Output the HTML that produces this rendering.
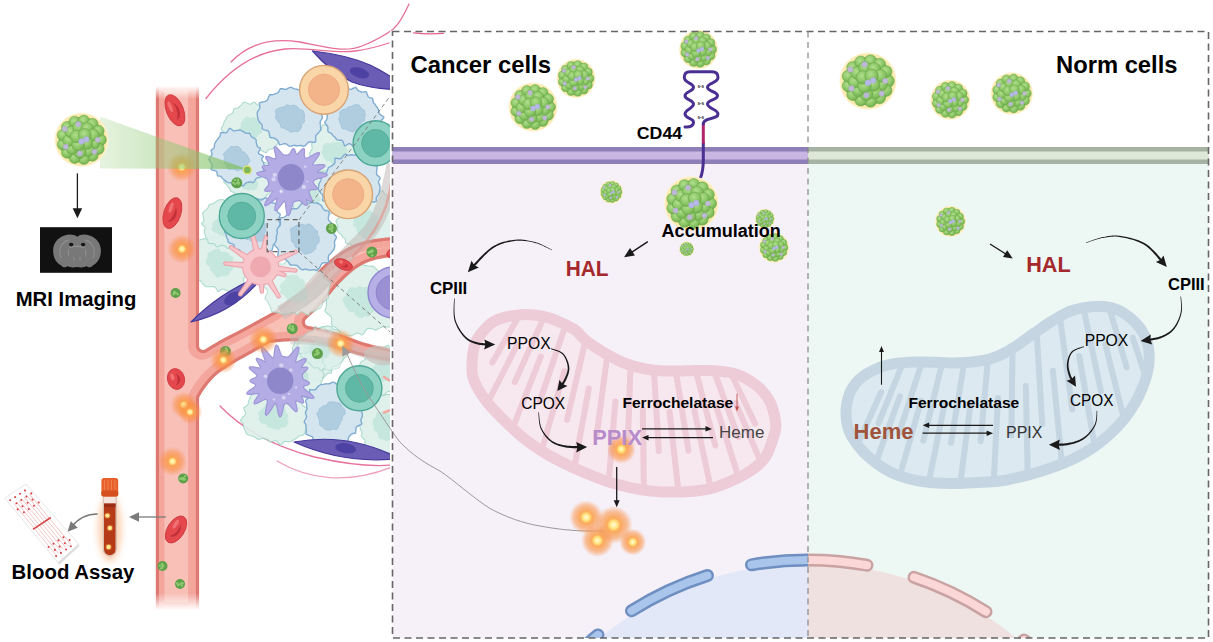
<!DOCTYPE html>
<html><head><meta charset="utf-8"><title>Diagram</title>
<style>html,body{margin:0;padding:0;background:#fff;}svg{display:block;font-family:"Liberation Sans",sans-serif;}</style></head><body>
<svg width="1213" height="642" viewBox="0 0 1213 642">

<defs>
<radialGradient id="gball" cx="0.42" cy="0.38" r="0.62">
  <stop offset="0" stop-color="#b2de8e"/><stop offset="0.5" stop-color="#93cc6e"/><stop offset="1" stop-color="#74b250"/>
</radialGradient>
<radialGradient id="glow">
  <stop offset="0" stop-color="#fffbe0"/><stop offset="0.2" stop-color="#ffe57e"/><stop offset="0.36" stop-color="#fba755" stop-opacity="0.95"/>
  <stop offset="0.7" stop-color="#f9944a" stop-opacity="0.55"/><stop offset="1" stop-color="#f9944a" stop-opacity="0"/>
</radialGradient>
<radialGradient id="glowv">
  <stop offset="0" stop-color="#fffad0"/><stop offset="0.16" stop-color="#ffe98a"/><stop offset="0.3" stop-color="#fb9f4c" stop-opacity="0.92"/>
  <stop offset="0.65" stop-color="#f98c3e" stop-opacity="0.5"/><stop offset="1" stop-color="#f98c3e" stop-opacity="0"/>
</radialGradient>
<radialGradient id="glow2">
  <stop offset="0" stop-color="#fff7c0"/><stop offset="0.18" stop-color="#ffe680"/><stop offset="0.4" stop-color="#fb9a4a" stop-opacity="0.9"/>
  <stop offset="1" stop-color="#f9844a" stop-opacity="0"/>
</radialGradient>
<linearGradient id="vesselV" gradientUnits="userSpaceOnUse" x1="0" y1="86" x2="0" y2="610">
  <stop offset="0" stop-color="#fff" stop-opacity="1"/><stop offset="0.025" stop-color="#fff" stop-opacity="0"/>
  <stop offset="0.968" stop-color="#fff" stop-opacity="0"/><stop offset="1" stop-color="#fff" stop-opacity="1"/>
</linearGradient>
<linearGradient id="cone" x1="0" y1="0" x2="1" y2="0">
  <stop offset="0" stop-color="#8cc870" stop-opacity="0.22"/><stop offset="0.5" stop-color="#8cc870" stop-opacity="0.48"/><stop offset="1" stop-color="#7dbd5e" stop-opacity="0.75"/>
</linearGradient>
<filter id="blur3" x="-50%" y="-50%" width="200%" height="200%"><feGaussianBlur stdDeviation="3"/></filter>
<clipPath id="clipL"><rect x="392.5" y="163.5" width="415.5" height="474.5"/></clipPath>
<clipPath id="clipR"><rect x="808" y="163.5" width="400.5" height="474.5"/></clipPath>
<clipPath id="clipScene"><rect x="0" y="0" width="390" height="642"/><rect x="0" y="0" width="1213" height="30.5"/></clipPath>
<marker id="ah" viewBox="0 0 10 10" refX="8" refY="5" markerWidth="7" markerHeight="7" orient="auto-start-reverse" markerUnits="userSpaceOnUse">
  <path d="M0,0 L10,5 L0,10 z" fill="#1a1a1a"/></marker>
<symbol id="np" viewBox="-50 -50 100 100" overflow="visible">
<circle r="50" fill="#fdf3cf"/><circle r="48" fill="#fbeab0"/>
<circle r="42" fill="#72ae4e"/>
<circle cx="35.5" cy="0.0" r="10.5" fill="url(#gball)" stroke="#65a143" stroke-width="0.9"/>
<circle cx="31.4" cy="16.5" r="10.5" fill="url(#gball)" stroke="#65a143" stroke-width="0.9"/>
<circle cx="20.2" cy="29.2" r="10.5" fill="url(#gball)" stroke="#65a143" stroke-width="0.9"/>
<circle cx="4.3" cy="35.2" r="10.5" fill="url(#gball)" stroke="#65a143" stroke-width="0.9"/>
<circle cx="-12.6" cy="33.2" r="10.5" fill="url(#gball)" stroke="#65a143" stroke-width="0.9"/>
<circle cx="-26.6" cy="23.5" r="10.5" fill="url(#gball)" stroke="#65a143" stroke-width="0.9"/>
<circle cx="-34.5" cy="8.5" r="10.5" fill="url(#gball)" stroke="#65a143" stroke-width="0.9"/>
<circle cx="-34.5" cy="-8.5" r="10.5" fill="url(#gball)" stroke="#65a143" stroke-width="0.9"/>
<circle cx="-26.6" cy="-23.5" r="10.5" fill="url(#gball)" stroke="#65a143" stroke-width="0.9"/>
<circle cx="-12.6" cy="-33.2" r="10.5" fill="url(#gball)" stroke="#65a143" stroke-width="0.9"/>
<circle cx="4.3" cy="-35.2" r="10.5" fill="url(#gball)" stroke="#65a143" stroke-width="0.9"/>
<circle cx="20.2" cy="-29.2" r="10.5" fill="url(#gball)" stroke="#65a143" stroke-width="0.9"/>
<circle cx="31.4" cy="-16.5" r="10.5" fill="url(#gball)" stroke="#65a143" stroke-width="0.9"/>
<circle cx="22.5" cy="6.9" r="11.2" fill="url(#gball)" stroke="#65a143" stroke-width="0.9"/>
<circle cx="12.7" cy="19.8" r="11.2" fill="url(#gball)" stroke="#65a143" stroke-width="0.9"/>
<circle cx="-2.9" cy="23.3" r="11.2" fill="url(#gball)" stroke="#65a143" stroke-width="0.9"/>
<circle cx="-17.2" cy="16.0" r="11.2" fill="url(#gball)" stroke="#65a143" stroke-width="0.9"/>
<circle cx="-23.5" cy="1.2" r="11.2" fill="url(#gball)" stroke="#65a143" stroke-width="0.9"/>
<circle cx="-18.7" cy="-14.2" r="11.2" fill="url(#gball)" stroke="#65a143" stroke-width="0.9"/>
<circle cx="-5.2" cy="-22.9" r="11.2" fill="url(#gball)" stroke="#65a143" stroke-width="0.9"/>
<circle cx="10.7" cy="-20.9" r="11.2" fill="url(#gball)" stroke="#65a143" stroke-width="0.9"/>
<circle cx="21.7" cy="-9.1" r="11.2" fill="url(#gball)" stroke="#65a143" stroke-width="0.9"/>
<circle cx="9.1" cy="6.2" r="11.8" fill="url(#gball)" stroke="#65a143" stroke-width="0.9"/>
<circle cx="-6.2" cy="9.1" r="11.8" fill="url(#gball)" stroke="#65a143" stroke-width="0.9"/>
<circle cx="-9.1" cy="-6.2" r="11.8" fill="url(#gball)" stroke="#65a143" stroke-width="0.9"/>
<circle cx="6.2" cy="-9.1" r="11.8" fill="url(#gball)" stroke="#65a143" stroke-width="0.9"/>
<circle cx="-31" cy="-20" r="5.0" fill="#bdb8d4" stroke="#a9a4c6" stroke-width="0.6"/>
<circle cx="-6" cy="-29" r="5.0" fill="#bdb8d4" stroke="#a9a4c6" stroke-width="0.6"/>
<circle cx="0" cy="3" r="5.3" fill="#b4b9e8" stroke="#a9a4c6" stroke-width="0.6"/>
<circle cx="9" cy="-1" r="5.3" fill="#b4b9e8" stroke="#a9a4c6" stroke-width="0.6"/>
<circle cx="30" cy="0" r="4.8" fill="#c2bcd6" stroke="#a9a4c6" stroke-width="0.6"/>
<circle cx="-29" cy="13" r="5.0" fill="#bdb8d4" stroke="#a9a4c6" stroke-width="0.6"/>
<circle cx="-3" cy="25" r="4.8" fill="#bdb8d4" stroke="#a9a4c6" stroke-width="0.6"/>
<circle cx="24" cy="22" r="4.8" fill="#bdb8d4" stroke="#a9a4c6" stroke-width="0.6"/>
</symbol>
</defs>

<rect width="1213" height="642" fill="#fff"/>
<g clip-path="url(#clipScene)">
<path d="M231,62 C250,42 275,38 300,42 C325,47 345,53 362,46 C377,40 388,33 393.6,28.7 C399,24 404,15 409,4" fill="none" stroke="#e3608f" stroke-width="1.3" stroke-linecap="round" opacity="0.9"/>
<path d="M206,98.5 C230,68 255,52 285,49 C310,47 335,54 355,51 C370,49 380,46 389,43" fill="none" stroke="#e3608f" stroke-width="1.3" stroke-linecap="round" opacity="0.9"/>
<path d="M220,406 C245,432 280,448 314.6,457 C345,464 370,467 392,465" fill="none" stroke="#e3608f" stroke-width="1.3" stroke-linecap="round" opacity="0.9"/>
<path d="M277,461 C292,470 310,476 329.5,477.6 C352,479 375,474 392,467" fill="none" stroke="#e3608f" stroke-width="1.3" stroke-linecap="round" opacity="0.6"/>
<path d="M276.2,128.0 L276.3,128.8 L276.6,129.5 L277.1,130.4 L277.8,131.3 L278.6,132.2 L279.2,133.2 L279.4,134.1 L279.1,135.0 L278.7,135.8 L278.3,136.5 L278.1,137.4 L278.0,138.3 L278.0,139.3 L278.1,140.3 L278.2,141.3 L278.1,142.3 L277.8,143.2 L277.4,144.1 L276.9,144.9 L276.4,145.7 L275.6,146.3 L274.9,147.0 L274.2,147.6 L273.5,148.2 L272.6,148.6 L271.6,148.9 L270.6,149.1 L269.6,149.3 L268.8,149.6 L268.1,150.1 L267.5,150.8 L267.0,151.7 L266.6,152.6 L265.5,152.6 L264.3,152.1 L263.0,151.4 L261.9,150.8 L260.8,150.3 L259.9,150.0 L259.2,150.1 L258.5,150.4 L257.9,150.9 L257.2,151.4 L256.6,151.9 L255.9,152.3 L255.1,152.7 L254.3,152.5 L253.5,151.8 L252.7,151.4 L252.0,151.2 L251.3,151.1 L250.6,151.0 L249.8,150.9 L249.1,150.7 L248.4,150.5 L247.7,150.4 L247.0,150.5 L246.2,150.7 L245.3,150.9 L244.5,151.1 L243.8,150.7 L243.2,150.1 L242.7,149.5 L242.2,148.8 L241.7,148.2 L241.2,147.7 L240.5,147.4 L239.8,147.2 L239.0,147.1 L238.3,146.9 L237.5,146.7 L236.8,146.3 L236.2,146.0 L235.8,145.3 L235.5,144.5 L235.1,143.9 L234.6,143.4 L234.0,142.9 L233.4,142.5 L232.8,141.9 L232.2,141.4 L231.6,140.9 L230.9,140.5 L229.9,140.2 L228.6,139.9 L227.1,139.7 L226.1,139.2 L225.9,138.3 L225.9,137.4 L225.9,136.5 L226.0,135.6 L226.0,134.7 L225.7,133.9 L225.2,133.1 L224.4,132.4 L223.4,131.6 L222.5,130.8 L221.8,129.9 L221.3,129.0 L221.1,128.0 L222.0,127.1 L222.7,126.2 L223.2,125.3 L223.5,124.4 L223.7,123.5 L223.9,122.6 L224.2,121.8 L224.6,121.0 L225.2,120.2 L225.8,119.5 L226.2,118.7 L226.6,117.9 L226.8,117.1 L227.4,116.4 L228.0,115.8 L228.7,115.2 L229.5,114.7 L230.4,114.3 L231.3,113.9 L232.0,113.5 L232.6,112.9 L233.0,112.3 L233.2,111.4 L233.4,110.6 L233.7,109.7 L234.0,108.9 L234.7,108.4 L235.7,108.3 L236.7,108.2 L237.5,108.1 L238.2,107.7 L238.8,107.3 L239.4,106.7 L240.0,106.2 L240.6,105.7 L241.2,105.1 L241.9,104.6 L242.4,103.8 L243.0,102.9 L243.6,102.0 L244.5,102.2 L245.4,102.5 L246.4,102.8 L247.3,103.2 L248.1,103.6 L249.0,104.0 L249.7,104.2 L250.5,104.1 L251.2,103.8 L252.0,103.3 L252.8,102.7 L253.6,102.3 L254.4,102.1 L255.2,102.8 L255.9,103.7 L256.5,104.4 L257.2,104.9 L257.9,105.1 L258.6,105.2 L259.4,105.2 L260.2,105.2 L261.0,105.4 L261.7,105.6 L262.4,105.9 L263.1,106.2 L263.9,106.4 L264.7,106.6 L265.4,106.9 L266.2,107.2 L266.8,107.6 L267.4,108.1 L267.9,108.8 L268.4,109.4 L268.8,110.1 L269.4,110.6 L270.2,110.9 L271.1,111.2 L272.1,111.4 L273.2,111.6 L274.0,112.0 L273.9,113.1 L273.7,114.2 L273.4,115.3 L273.3,116.3 L273.3,117.1 L273.5,117.9 L273.9,118.5 L274.4,119.1 L274.9,119.7 L275.4,120.4 L275.9,121.1 L276.5,121.7 L277.2,122.4 L277.0,123.2 L276.6,124.1 L276.5,124.9 L276.4,125.7 L276.3,126.5 L276.2,127.2Z" fill="#ddf0eb" stroke="#a3d6c9" stroke-width="1.1" stroke-linejoin="round" opacity="0.90"/><path d="M261.6,129.0 L261.7,130.2 L262.2,131.6 L262.0,132.9 L260.6,133.7 L259.0,134.2 L258.3,135.1 L258.0,136.2 L257.2,137.0 L256.1,137.4 L255.2,138.0 L254.3,138.6 L253.2,138.8 L252.2,139.4 L251.2,140.9 L250.0,142.3 L248.6,142.3 L247.4,141.4 L246.1,140.9 L244.8,140.7 L243.6,140.0 L242.5,139.3 L241.1,138.8 L240.0,138.0 L239.8,136.4 L239.9,134.8 L239.2,133.8 L238.3,132.8 L238.1,131.5 L238.6,130.2 L239.1,129.0 L239.7,127.9 L240.7,127.0 L241.4,126.2 L240.9,125.0 L240.4,123.5 L240.9,122.4 L241.9,121.7 L242.5,120.7 L243.1,119.5 L244.0,118.5 L245.0,117.8 L246.0,116.8 L247.3,116.3 L248.7,117.0 L250.0,117.9 L251.2,117.8 L252.5,117.1 L253.9,117.1 L255.1,117.6 L256.3,118.1 L257.3,118.9 L257.9,120.2 L258.5,121.3 L259.7,121.9 L261.0,122.7 L261.2,124.0 L260.7,125.5 L260.8,126.7 L261.3,127.8Z" fill="#c3e5db" opacity="0.90"/>
<path d="M363.0,152.0 L363.4,152.8 L363.9,153.7 L364.3,154.6 L364.5,155.5 L364.6,156.4 L364.6,157.3 L364.6,158.2 L364.8,159.1 L365.2,160.2 L365.8,161.3 L365.8,162.4 L365.3,163.2 L364.6,164.0 L363.8,164.6 L362.8,165.2 L362.0,165.8 L361.5,166.5 L361.2,167.3 L361.1,168.4 L361.1,169.5 L361.0,170.6 L360.8,171.7 L360.4,172.6 L358.9,172.6 L357.5,172.5 L356.4,172.7 L355.5,173.0 L354.8,173.5 L354.1,174.0 L353.4,174.6 L352.8,175.2 L352.1,175.8 L351.5,176.5 L350.9,177.3 L350.4,178.4 L349.6,178.8 L348.6,178.8 L347.6,178.8 L346.6,178.8 L345.7,178.6 L344.7,178.5 L343.8,178.5 L343.0,178.7 L342.2,179.1 L341.4,179.6 L340.5,180.1 L339.7,180.4 L338.8,180.3 L337.9,179.7 L337.0,179.0 L336.2,178.4 L335.4,177.9 L334.6,177.7 L333.8,177.5 L333.0,177.3 L332.2,177.1 L331.5,176.7 L330.8,176.2 L330.1,175.9 L329.3,175.7 L328.6,175.3 L328.0,174.7 L327.4,174.1 L326.9,173.5 L326.4,172.8 L326.0,172.1 L325.5,171.4 L325.0,171.0 L324.2,170.8 L323.2,171.0 L322.0,171.3 L320.7,171.7 L319.5,171.9 L319.3,170.9 L319.2,169.8 L319.1,168.8 L318.9,168.0 L318.4,167.4 L317.7,167.0 L316.7,166.7 L315.7,166.5 L314.6,166.2 L313.6,165.8 L312.7,165.4 L311.9,164.8 L311.6,163.9 L311.7,163.0 L311.5,162.1 L311.3,161.3 L311.0,160.4 L310.8,159.6 L310.8,158.7 L310.8,157.9 L310.8,157.0 L310.6,156.2 L310.2,155.4 L309.8,154.6 L309.5,153.7 L309.7,152.9 L310.2,152.0 L310.7,151.2 L311.3,150.4 L311.8,149.6 L312.1,148.9 L312.2,148.1 L312.0,147.2 L311.9,146.4 L311.8,145.5 L311.7,144.7 L311.7,143.8 L312.2,143.1 L312.9,142.5 L313.5,141.8 L313.8,141.1 L314.1,140.3 L314.3,139.5 L314.6,138.7 L314.9,138.0 L315.1,137.1 L315.2,136.2 L315.2,135.1 L314.9,133.7 L314.7,132.3 L315.5,131.8 L316.5,131.5 L317.5,131.2 L318.5,131.0 L319.5,130.8 L320.3,130.4 L320.9,129.8 L321.3,128.9 L321.7,127.8 L322.0,126.7 L322.5,125.6 L323.1,124.8 L324.2,124.8 L325.4,125.3 L326.6,125.6 L327.5,125.7 L328.4,125.5 L329.2,125.2 L330.0,124.8 L330.9,124.5 L331.7,124.3 L332.6,124.3 L333.5,124.2 L334.4,124.1 L335.2,123.8 L336.1,123.8 L337.0,123.8 L337.9,123.9 L338.8,124.1 L339.6,124.5 L340.4,124.9 L341.2,125.2 L342.1,125.4 L343.0,125.3 L343.9,125.0 L344.9,124.7 L345.9,124.5 L346.7,125.0 L347.3,126.0 L347.8,127.0 L348.3,128.0 L348.8,128.8 L349.4,129.4 L350.1,129.8 L350.9,130.2 L351.6,130.5 L352.3,130.9 L353.0,131.4 L353.8,131.8 L354.5,132.2 L354.4,133.5 L354.4,134.6 L354.4,135.6 L354.5,136.6 L354.5,137.5 L354.5,138.4 L354.6,139.2 L354.8,139.9 L355.4,140.4 L356.2,140.7 L357.1,140.9 L358.2,141.2 L358.4,141.9 L358.2,142.8 L357.9,143.7 L357.6,144.6 L357.7,145.3 L358.0,145.9 L358.6,146.4 L359.5,147.0 L360.3,147.5 L361.1,148.2 L361.8,148.9 L362.2,149.6 L362.6,150.4 L362.7,151.2Z" fill="#ddf0eb" stroke="#a3d6c9" stroke-width="1.1" stroke-linejoin="round" opacity="0.90"/><path d="M347.1,153.0 L347.1,154.3 L347.8,155.7 L347.8,157.2 L346.7,158.2 L345.5,159.1 L344.7,160.1 L343.8,160.9 L342.9,161.7 L342.3,163.1 L341.8,164.7 L340.5,165.5 L338.9,165.1 L337.5,164.8 L336.3,165.1 L335.0,165.3 L333.8,164.7 L332.6,164.2 L331.5,163.7 L330.7,162.6 L330.2,161.3 L329.2,160.9 L327.6,161.3 L326.1,161.0 L325.3,160.0 L324.7,158.9 L323.9,157.9 L323.4,156.8 L323.1,155.5 L322.3,154.3 L321.2,153.0 L321.2,151.5 L322.2,150.3 L322.9,149.1 L322.8,147.5 L322.9,146.0 L323.8,144.8 L324.8,143.8 L325.9,142.9 L327.7,142.9 L329.5,143.5 L330.7,143.4 L331.6,142.5 L332.6,141.9 L333.9,142.3 L335.0,142.5 L336.1,142.3 L337.3,142.3 L338.4,142.4 L339.8,142.1 L341.5,141.8 L342.6,142.5 L342.9,144.2 L343.4,145.5 L344.5,146.1 L345.6,146.9 L346.3,148.0 L347.1,149.1 L347.8,150.3 L347.8,151.7Z" fill="#c3e5db" opacity="0.90"/>
<path d="M254.2,262.0 L253.3,263.0 L252.6,263.9 L252.1,264.8 L251.8,265.8 L251.6,266.7 L251.3,267.6 L251.1,268.5 L250.8,269.4 L250.6,270.3 L250.6,271.3 L250.7,272.3 L250.0,273.1 L249.0,273.7 L248.1,274.3 L247.3,274.9 L246.4,275.4 L245.6,276.0 L244.9,276.5 L244.3,277.1 L243.9,277.9 L243.7,278.9 L243.7,280.0 L243.8,281.2 L243.7,282.4 L243.5,283.5 L242.9,284.3 L241.9,284.6 L240.9,284.9 L240.0,285.3 L239.3,285.8 L238.6,286.4 L238.0,287.2 L237.4,288.0 L236.7,288.7 L235.9,289.3 L235.0,289.7 L234.1,290.0 L233.2,290.3 L232.3,290.7 L231.5,291.2 L230.5,291.2 L229.5,291.3 L228.5,291.3 L227.5,291.0 L226.5,290.6 L225.5,290.1 L224.6,289.6 L223.7,289.2 L222.9,289.1 L222.0,289.3 L221.1,289.7 L220.2,290.3 L219.3,291.0 L218.3,291.5 L217.5,290.7 L216.8,289.5 L216.1,288.4 L215.5,287.5 L214.8,286.9 L214.0,286.6 L213.2,286.5 L212.3,286.6 L211.3,286.7 L210.4,286.7 L209.4,286.7 L208.4,286.7 L207.4,286.7 L206.2,286.8 L205.4,286.5 L204.8,285.7 L204.1,285.1 L203.4,284.5 L202.8,283.8 L202.2,283.0 L201.7,282.3 L201.2,281.5 L200.6,280.9 L199.8,280.4 L198.9,279.9 L197.9,279.5 L197.0,279.0 L196.2,278.4 L195.7,277.6 L195.6,276.5 L195.6,275.5 L195.5,274.5 L195.3,273.5 L195.0,272.7 L194.5,271.9 L194.0,271.1 L193.4,270.3 L193.0,269.4 L192.6,268.6 L192.3,267.7 L191.8,266.8 L191.1,265.9 L190.2,265.0 L190.1,264.0 L190.1,263.0 L190.0,262.0 L190.1,261.0 L190.3,260.0 L190.6,259.0 L190.9,258.1 L190.9,257.1 L190.8,256.0 L190.3,254.9 L189.6,253.7 L188.8,252.4 L188.2,251.0 L187.7,249.6 L188.4,248.7 L189.8,248.1 L191.1,247.5 L192.3,246.9 L193.3,246.2 L194.0,245.5 L194.6,244.6 L195.2,243.8 L195.7,242.9 L196.5,242.2 L197.3,241.5 L198.2,241.0 L199.1,240.4 L199.9,239.9 L200.8,239.5 L202.0,239.3 L203.0,239.1 L204.1,238.9 L205.1,238.8 L206.2,238.8 L207.4,238.9 L208.4,239.0 L209.4,239.0 L210.2,238.8 L210.9,238.4 L211.6,237.9 L212.2,237.3 L212.9,236.7 L213.7,236.3 L214.6,236.6 L215.6,236.9 L216.5,237.2 L217.3,237.4 L218.1,237.4 L218.9,237.2 L219.6,236.8 L220.4,236.4 L221.2,236.0 L222.0,235.7 L222.8,235.4 L223.7,235.0 L224.6,234.4 L225.6,233.6 L226.5,233.9 L227.3,234.3 L228.1,234.8 L228.9,235.3 L229.6,235.9 L230.3,236.5 L231.0,237.1 L231.7,237.4 L232.6,237.6 L233.6,237.4 L234.7,237.1 L235.9,236.7 L237.2,236.4 L238.4,236.2 L239.1,236.8 L239.5,238.0 L239.8,239.0 L240.3,239.9 L240.9,240.6 L241.7,241.0 L242.6,241.4 L243.7,241.6 L244.7,242.0 L245.6,242.4 L246.5,243.0 L247.3,243.7 L248.0,244.3 L248.9,244.9 L249.8,245.5 L250.6,246.3 L251.3,247.1 L252.0,247.9 L252.5,248.8 L252.9,249.8 L253.1,250.8 L253.2,251.9 L253.4,252.9 L253.8,253.8 L254.3,254.8 L255.0,255.7 L255.7,256.7 L256.4,257.7 L256.9,258.7 L256.2,259.9 L255.2,261.0Z" fill="#ddf0eb" stroke="#a3d6c9" stroke-width="1.1" stroke-linejoin="round" opacity="0.90"/><path d="M232.8,263.0 L232.6,264.3 L232.7,265.7 L233.3,267.3 L233.4,269.0 L232.3,270.1 L230.8,270.8 L230.1,272.1 L229.7,273.8 L228.6,274.9 L227.2,275.5 L225.8,276.1 L224.4,276.5 L222.8,276.2 L221.4,276.1 L220.0,277.1 L218.4,278.2 L216.9,277.7 L215.7,276.3 L214.6,275.2 L213.5,274.2 L212.8,272.9 L212.1,271.7 L211.0,271.1 L210.1,270.2 L210.1,268.7 L210.3,267.3 L209.4,266.5 L207.6,265.6 L206.5,264.4 L206.0,263.0 L205.6,261.5 L205.7,259.9 L206.6,258.7 L207.5,257.4 L207.4,255.7 L207.4,253.8 L208.5,252.6 L210.2,252.1 L211.5,251.3 L212.7,250.4 L214.1,249.8 L215.6,249.4 L217.0,248.7 L218.5,248.5 L220.0,249.8 L221.2,251.5 L222.4,251.9 L223.7,251.6 L225.0,251.8 L226.2,252.3 L227.5,252.6 L228.8,253.2 L229.5,254.5 L230.2,255.6 L231.8,256.2 L233.4,257.1 L233.6,258.6 L232.9,260.2 L232.7,261.7Z" fill="#c3e5db" opacity="0.90"/>
<path d="M250.8,225.0 L250.8,225.8 L250.7,226.6 L250.5,227.3 L250.5,228.1 L250.6,228.9 L251.0,229.8 L251.5,230.7 L252.2,231.7 L252.1,232.6 L251.3,233.2 L250.4,233.8 L249.5,234.3 L248.7,234.8 L248.0,235.4 L247.7,236.0 L247.5,236.8 L247.5,237.7 L247.6,238.7 L247.6,239.6 L247.4,240.5 L247.1,241.3 L246.5,242.0 L245.6,242.3 L244.8,242.6 L244.2,243.2 L243.6,243.8 L243.1,244.4 L242.5,245.0 L241.9,245.5 L241.1,245.8 L240.4,246.1 L239.6,246.4 L238.9,246.9 L238.3,247.4 L237.7,248.0 L236.9,248.2 L236.1,248.3 L235.2,248.2 L234.2,247.9 L233.3,247.5 L232.4,247.2 L231.6,247.0 L230.9,247.0 L230.2,247.2 L229.6,247.5 L228.9,247.9 L228.2,248.2 L227.5,248.4 L226.7,248.0 L226.0,247.2 L225.3,246.4 L224.7,245.9 L224.1,245.6 L223.4,245.5 L222.8,245.4 L222.1,245.4 L221.4,245.4 L220.7,245.5 L220.0,245.7 L219.1,246.1 L218.2,246.7 L217.3,247.0 L216.7,246.5 L216.1,246.1 L215.5,245.5 L215.0,245.0 L214.5,244.4 L213.9,244.0 L213.3,243.7 L212.5,243.6 L211.6,243.6 L210.6,243.6 L209.7,243.5 L208.9,243.2 L208.2,242.8 L208.0,241.9 L207.9,241.0 L207.7,240.2 L207.3,239.5 L206.9,238.9 L206.5,238.3 L206.0,237.7 L205.7,237.0 L205.5,236.3 L205.4,235.5 L205.3,234.8 L205.0,234.1 L204.6,233.5 L204.4,232.8 L204.3,232.1 L204.3,231.3 L204.4,230.6 L204.6,229.8 L204.9,229.0 L205.1,228.3 L205.2,227.6 L204.9,227.0 L204.4,226.4 L203.7,225.7 L202.8,225.0 L202.0,224.2 L201.6,223.5 L202.3,222.8 L203.0,222.1 L203.5,221.4 L203.9,220.8 L204.0,220.1 L203.8,219.3 L203.6,218.5 L203.4,217.6 L203.2,216.8 L203.1,215.9 L203.0,215.0 L202.8,214.1 L202.6,213.1 L203.2,212.5 L203.8,211.9 L204.3,211.3 L204.9,210.7 L205.5,210.1 L206.2,209.6 L206.8,209.1 L207.4,208.6 L207.8,207.9 L208.2,207.2 L208.5,206.3 L208.8,205.5 L209.2,204.7 L209.9,204.3 L210.8,204.1 L211.7,204.0 L212.6,203.9 L213.4,203.6 L214.0,203.2 L214.6,202.7 L215.2,202.1 L215.9,201.6 L216.6,201.2 L217.3,200.8 L218.0,200.5 L218.8,200.1 L219.5,199.7 L220.3,199.7 L221.2,199.7 L222.0,199.6 L222.8,199.7 L223.6,199.9 L224.4,200.2 L225.2,200.5 L226.0,200.7 L226.8,200.7 L227.5,200.4 L228.4,199.9 L229.2,199.4 L230.1,198.9 L230.8,199.8 L231.4,201.0 L231.8,202.2 L232.3,203.4 L232.7,204.3 L233.2,204.9 L233.8,205.3 L234.4,205.6 L235.1,205.7 L235.7,206.0 L236.3,206.3 L236.8,206.7 L237.4,207.0 L237.7,207.8 L237.9,208.7 L238.2,209.3 L238.5,209.8 L239.0,210.3 L239.4,210.8 L239.7,211.3 L240.1,211.8 L240.5,212.3 L241.0,212.6 L241.6,212.9 L242.5,213.0 L243.4,213.2 L244.2,213.5 L244.7,214.0 L245.0,214.6 L245.3,215.2 L245.5,215.8 L245.9,216.4 L246.4,216.9 L247.0,217.4 L247.8,217.9 L248.6,218.4 L249.4,219.0 L250.0,219.6 L250.6,220.3 L251.2,221.0 L251.1,221.8 L250.9,222.6 L250.9,223.4 L250.8,224.2Z" fill="#ddf0eb" stroke="#a3d6c9" stroke-width="1.1" stroke-linejoin="round" opacity="0.90"/><path d="M235.9,226.0 L235.2,227.2 L234.6,228.3 L234.5,229.4 L234.1,230.5 L233.4,231.4 L232.9,232.5 L232.4,233.6 L231.2,234.0 L229.8,233.9 L228.9,234.5 L228.3,235.7 L227.4,236.6 L226.3,236.7 L225.1,236.6 L224.0,236.4 L223.0,235.7 L222.1,234.9 L221.1,234.9 L219.8,235.3 L218.8,235.0 L218.2,234.0 L217.4,233.4 L216.1,233.1 L214.8,232.7 L213.8,231.9 L212.5,231.1 L211.5,230.1 L211.6,228.6 L212.5,227.2 L212.8,226.0 L212.4,224.8 L212.4,223.5 L213.1,222.5 L213.8,221.5 L214.5,220.5 L215.6,219.9 L216.7,219.4 L217.3,218.5 L217.7,217.4 L218.8,217.0 L220.2,217.4 L221.3,217.6 L222.1,217.2 L223.0,216.8 L224.0,216.4 L225.1,215.6 L226.4,214.9 L227.5,215.2 L228.4,216.1 L229.5,216.5 L231.0,216.4 L232.2,216.9 L232.8,218.1 L233.2,219.3 L233.7,220.4 L233.7,221.7 L233.7,222.9 L234.4,223.8 L235.7,224.8Z" fill="#c3e5db" opacity="0.90"/>
<path d="M393.3,222.0 L393.8,222.8 L394.1,223.6 L393.9,224.4 L393.6,225.2 L393.1,226.0 L392.6,226.7 L392.1,227.4 L391.8,228.1 L391.9,228.9 L392.3,229.9 L393.1,231.0 L393.9,232.3 L394.7,233.6 L395.2,234.8 L394.1,235.3 L392.9,235.7 L391.9,236.1 L391.1,236.7 L390.7,237.4 L390.5,238.3 L390.4,239.4 L390.2,240.4 L390.0,241.4 L389.6,242.3 L389.3,243.3 L389.0,244.4 L388.3,245.0 L387.3,245.3 L386.4,245.8 L385.6,246.2 L384.7,246.6 L383.8,246.9 L382.9,247.1 L382.0,247.5 L381.3,248.1 L380.7,248.9 L380.0,249.8 L379.4,250.8 L378.7,251.6 L377.6,251.7 L376.6,251.6 L375.6,251.5 L374.6,251.5 L373.7,251.7 L372.8,252.1 L371.9,252.7 L371.0,253.3 L370.0,253.8 L369.0,254.1 L368.0,254.4 L367.0,254.7 L366.0,254.6 L365.0,254.2 L364.0,253.8 L363.0,253.6 L362.0,253.2 L361.1,252.8 L360.2,252.2 L359.4,251.7 L358.5,251.3 L357.5,251.2 L356.3,251.5 L355.1,251.9 L353.7,252.3 L353.2,251.0 L352.8,249.6 L352.6,248.1 L352.3,246.7 L352.0,245.5 L351.5,244.7 L350.7,244.2 L349.8,244.0 L348.7,243.9 L347.7,243.7 L346.7,243.3 L345.8,242.9 L345.5,241.9 L345.5,240.6 L345.3,239.6 L344.9,238.8 L344.2,238.2 L343.5,237.6 L342.8,236.9 L342.3,236.2 L341.7,235.4 L341.2,234.6 L340.5,233.9 L339.6,233.2 L338.6,232.6 L338.1,231.7 L337.8,230.8 L337.6,229.8 L337.7,228.8 L337.8,227.8 L337.9,226.8 L337.8,225.8 L337.5,224.9 L337.0,223.9 L336.6,223.0 L336.2,222.0 L336.0,221.0 L336.5,220.0 L337.5,219.1 L338.6,218.3 L339.4,217.5 L340.1,216.7 L340.6,215.9 L341.0,215.1 L341.4,214.3 L341.8,213.5 L342.2,212.7 L342.4,211.9 L342.4,210.9 L342.2,209.8 L343.3,209.4 L344.4,209.0 L345.4,208.6 L346.4,208.3 L347.4,208.0 L348.2,207.6 L348.8,207.1 L349.1,206.4 L349.1,205.3 L348.9,204.1 L348.7,202.7 L348.7,201.4 L349.3,200.8 L350.4,200.8 L351.5,200.7 L352.3,200.4 L353.0,199.9 L353.5,199.1 L353.9,198.2 L354.3,197.2 L354.9,196.3 L355.5,195.5 L356.3,194.9 L357.1,194.4 L357.8,193.7 L358.7,193.5 L359.6,193.1 L360.4,192.6 L361.3,192.2 L362.3,192.0 L363.2,192.0 L364.2,192.0 L365.2,192.0 L366.1,191.8 L367.0,191.3 L368.0,190.5 L369.0,189.7 L370.0,189.5 L371.0,190.0 L372.0,190.7 L372.8,191.5 L373.7,192.1 L374.6,192.5 L375.6,192.5 L376.7,192.2 L377.8,191.8 L379.0,191.4 L380.3,191.0 L381.5,190.8 L382.8,190.6 L383.4,191.8 L384.0,192.8 L384.8,193.7 L385.6,194.3 L386.4,194.9 L387.3,195.5 L388.1,196.1 L388.9,196.7 L389.8,197.2 L390.9,197.6 L392.1,197.9 L393.4,198.1 L394.2,198.9 L394.3,200.2 L394.3,201.6 L394.2,202.9 L394.1,204.3 L394.1,205.5 L394.2,206.5 L394.6,207.4 L395.1,208.2 L395.5,209.1 L395.8,210.0 L395.9,211.0 L395.8,212.0 L395.1,213.2 L394.5,214.3 L394.1,215.3 L393.9,216.2 L393.9,217.1 L393.9,217.9 L393.8,218.7 L393.5,219.6 L393.3,220.4 L393.2,221.2Z" fill="#ddf0eb" stroke="#a3d6c9" stroke-width="1.1" stroke-linejoin="round" opacity="0.90"/><path d="M379.0,223.0 L379.2,224.4 L379.2,225.8 L379.3,227.3 L378.7,228.6 L377.3,229.5 L376.5,230.6 L376.4,232.4 L375.8,233.9 L374.3,234.4 L372.7,234.6 L371.4,235.2 L370.2,235.8 L368.8,236.3 L367.5,237.2 L366.0,238.6 L364.3,238.9 L362.9,237.6 L361.7,236.3 L360.3,235.8 L358.9,235.2 L358.0,234.0 L357.3,232.6 L356.6,231.5 L356.3,230.0 L356.6,228.4 L356.2,227.4 L354.6,226.7 L353.2,225.7 L353.2,224.3 L353.5,223.0 L353.5,221.7 L353.5,220.4 L354.0,219.1 L353.9,217.6 L353.4,215.7 L353.9,214.2 L355.3,213.4 L356.6,212.6 L357.3,211.0 L358.1,209.4 L359.6,208.6 L361.2,208.1 L362.8,207.9 L364.5,208.6 L366.0,210.1 L367.3,210.9 L368.7,210.5 L370.1,210.4 L371.2,211.3 L372.1,212.4 L373.3,212.9 L374.5,213.6 L375.4,214.6 L376.6,215.3 L378.2,216.0 L378.9,217.3 L378.2,219.0 L377.7,220.5 L378.3,221.7Z" fill="#c3e5db" opacity="0.90"/>
<path d="M332.5,196.0 L332.7,196.7 L332.9,197.3 L332.9,198.0 L332.9,198.6 L332.8,199.3 L332.7,199.9 L332.7,200.6 L332.5,201.3 L332.5,202.0 L332.5,202.7 L332.5,203.4 L332.4,204.1 L332.1,204.7 L331.9,205.4 L331.6,206.0 L331.5,206.7 L331.6,207.6 L331.9,208.6 L332.3,209.8 L332.7,211.0 L333.0,212.3 L332.4,212.9 L331.7,213.3 L330.8,213.7 L330.0,214.0 L329.3,214.4 L328.7,215.0 L328.3,215.7 L327.9,216.5 L327.5,217.4 L327.1,218.2 L326.6,219.0 L326.0,219.7 L325.4,220.4 L324.8,221.1 L323.8,221.2 L322.8,221.0 L321.9,220.9 L321.0,220.9 L320.1,220.8 L319.2,220.7 L318.3,220.5 L317.4,220.3 L316.6,220.2 L315.8,220.2 L315.1,220.3 L314.3,220.6 L313.6,220.9 L312.8,221.1 L312.0,221.1 L311.2,220.6 L310.5,220.1 L309.8,219.5 L309.1,219.1 L308.4,218.8 L307.7,218.7 L306.9,218.7 L306.2,218.7 L305.4,218.7 L304.6,218.6 L303.9,218.5 L303.2,218.3 L302.4,218.1 L301.6,218.0 L301.0,217.5 L300.4,217.0 L299.8,216.6 L299.3,216.1 L298.7,215.5 L298.3,214.8 L297.9,214.1 L297.5,213.5 L297.1,213.0 L296.4,212.6 L295.6,212.4 L294.7,212.2 L293.7,212.1 L292.7,212.0 L292.5,211.1 L292.8,210.0 L293.1,208.9 L293.3,207.8 L293.5,207.0 L293.4,206.2 L293.1,205.6 L292.6,205.1 L292.1,204.6 L291.5,204.1 L291.0,203.5 L290.6,202.9 L290.2,202.3 L289.8,201.7 L289.7,201.0 L289.8,200.2 L289.7,199.5 L289.5,198.8 L289.3,198.1 L289.2,197.4 L289.2,196.7 L289.2,196.0 L289.3,195.3 L289.2,194.6 L289.0,193.8 L288.7,193.1 L288.3,192.2 L288.0,191.4 L287.9,190.6 L288.3,189.9 L288.8,189.3 L289.4,188.7 L290.0,188.1 L290.6,187.5 L290.9,186.9 L291.2,186.2 L291.5,185.5 L291.7,184.8 L292.0,184.2 L292.3,183.5 L292.7,182.9 L293.0,182.2 L293.2,181.4 L294.1,181.2 L294.9,180.9 L295.6,180.6 L296.3,180.3 L297.0,180.0 L297.7,179.8 L298.4,179.6 L299.0,179.2 L299.5,178.8 L299.8,178.1 L300.1,177.2 L300.2,176.1 L300.4,174.9 L300.6,173.7 L301.3,173.2 L302.2,173.3 L303.0,173.3 L303.8,173.3 L304.6,173.2 L305.3,172.8 L305.9,172.2 L306.5,171.5 L307.2,170.7 L307.9,170.0 L308.7,169.5 L309.5,169.1 L310.3,168.8 L311.1,168.6 L312.0,168.5 L312.9,168.6 L313.7,168.6 L314.6,168.6 L315.4,168.7 L316.3,169.0 L317.1,169.4 L317.8,169.9 L318.6,170.4 L319.3,170.9 L320.0,171.3 L320.8,171.5 L321.7,171.6 L322.5,171.7 L323.4,171.9 L323.8,172.8 L324.2,173.8 L324.5,174.9 L324.7,175.9 L325.0,176.8 L325.4,177.6 L325.9,178.1 L326.4,178.6 L327.0,178.9 L327.7,179.3 L328.3,179.7 L328.9,180.1 L329.6,180.5 L330.3,180.8 L330.5,181.7 L330.5,182.6 L330.5,183.4 L330.6,184.2 L330.8,184.9 L330.8,185.6 L330.9,186.4 L331.0,187.1 L331.2,187.7 L331.5,188.3 L332.1,188.8 L332.7,189.3 L333.4,189.8 L334.1,190.3 L334.2,191.0 L333.7,191.9 L333.2,192.6 L332.8,193.4 L332.5,194.1 L332.3,194.7 L332.4,195.4Z" fill="#ddf0eb" stroke="#a3d6c9" stroke-width="1.1" stroke-linejoin="round" opacity="0.90"/><path d="M319.2,197.0 L320.4,198.1 L320.9,199.3 L320.3,200.3 L319.5,201.2 L319.1,202.2 L318.7,203.3 L317.9,204.1 L317.3,205.2 L316.8,206.4 L315.8,207.0 L314.4,206.8 L313.3,207.0 L312.4,208.1 L311.3,209.0 L310.0,208.9 L308.8,208.5 L307.6,208.1 L306.6,207.3 L305.9,206.2 L304.9,205.8 L303.5,206.0 L302.2,205.6 L301.7,204.5 L301.3,203.3 L300.5,202.5 L299.8,201.6 L299.4,200.4 L299.1,199.3 L298.7,198.2 L299.2,197.0 L300.6,196.0 L301.5,195.2 L301.3,194.2 L301.0,193.0 L301.4,192.1 L301.9,191.1 L302.3,190.1 L303.1,189.3 L304.0,188.8 L304.7,187.9 L305.3,186.4 L306.2,185.5 L307.6,185.6 L308.8,186.0 L310.0,185.7 L311.2,185.3 L312.5,185.3 L313.8,185.3 L315.3,185.2 L316.3,186.1 L316.7,187.7 L317.1,189.1 L318.0,189.8 L318.7,190.7 L318.8,191.9 L318.8,193.1 L318.9,194.1 L318.9,195.1 L318.7,196.1Z" fill="#c3e5db" opacity="0.90"/>
<path d="M404.3,300.0 L403.1,301.2 L402.2,302.4 L401.8,303.6 L401.7,304.8 L401.9,306.0 L402.1,307.3 L402.1,308.5 L402.0,309.8 L401.8,311.0 L401.5,312.2 L401.4,313.5 L400.9,314.6 L400.2,315.7 L399.6,316.8 L399.0,317.8 L398.2,318.8 L397.2,319.6 L396.1,320.4 L395.1,321.1 L394.2,322.0 L393.5,322.9 L392.9,323.9 L392.4,325.1 L391.8,326.1 L390.9,326.9 L389.4,327.0 L387.8,326.9 L386.1,326.8 L384.7,326.6 L383.4,326.7 L382.3,326.9 L381.3,327.3 L380.4,327.8 L379.5,328.2 L378.6,328.6 L377.6,329.0 L376.8,329.5 L376.0,330.4 L374.7,329.8 L373.5,329.3 L372.4,329.0 L371.4,328.8 L370.4,328.6 L369.4,328.4 L368.5,328.3 L367.6,328.4 L366.7,329.0 L365.9,330.0 L365.0,331.5 L364.0,333.1 L362.9,334.7 L361.8,335.0 L360.7,334.4 L359.7,333.8 L358.7,333.3 L357.7,333.1 L356.6,333.3 L355.3,333.8 L354.0,334.5 L352.6,335.2 L351.2,335.7 L349.8,335.9 L348.5,335.9 L347.2,335.7 L346.0,335.3 L345.0,334.6 L343.8,334.1 L342.6,333.7 L341.5,333.2 L340.4,332.5 L339.4,331.7 L338.7,330.6 L337.9,329.6 L337.1,328.6 L336.2,327.8 L335.0,327.2 L333.7,326.7 L332.3,326.3 L331.7,325.0 L331.5,323.6 L331.6,322.1 L331.7,320.5 L331.7,319.1 L331.5,317.8 L331.0,316.8 L330.2,315.9 L329.2,315.1 L328.1,314.2 L327.0,313.3 L326.0,312.4 L325.0,311.3 L325.0,310.0 L325.7,308.6 L326.2,307.2 L326.4,306.0 L326.4,304.7 L326.4,303.6 L326.5,302.4 L326.5,301.2 L326.5,300.0 L326.4,298.8 L326.0,297.6 L325.3,296.3 L324.6,295.0 L324.3,293.7 L325.3,292.6 L326.4,291.6 L327.6,290.7 L328.8,289.8 L329.9,288.9 L330.7,288.0 L331.2,287.0 L331.4,285.9 L331.6,284.8 L331.9,283.6 L332.4,282.6 L333.1,281.7 L333.9,280.9 L335.1,280.4 L336.3,279.8 L337.1,279.2 L337.8,278.3 L338.4,277.5 L339.1,276.6 L339.8,275.8 L340.7,275.1 L341.5,274.5 L342.3,273.7 L342.9,272.8 L343.3,271.5 L343.5,269.9 L344.2,268.8 L345.2,268.3 L346.4,268.0 L347.7,268.0 L349.0,268.1 L350.2,268.1 L351.3,267.8 L352.2,267.2 L353.0,266.3 L353.8,265.0 L354.7,263.7 L355.6,262.5 L356.6,261.4 L357.8,261.1 L359.3,262.4 L360.6,263.6 L361.8,264.5 L362.9,265.0 L364.0,265.2 L365.1,265.4 L366.2,265.5 L367.2,265.7 L368.3,266.0 L369.3,266.2 L370.4,266.3 L371.6,266.2 L372.7,265.9 L373.7,266.7 L374.6,267.4 L375.5,268.1 L376.3,269.0 L377.1,269.8 L377.8,270.6 L378.7,271.2 L379.7,271.5 L380.8,271.5 L382.1,271.5 L383.5,271.4 L384.8,271.4 L386.0,271.6 L386.9,272.3 L387.6,273.2 L388.3,274.1 L389.2,274.8 L390.2,275.4 L391.3,275.9 L392.6,276.4 L393.7,277.0 L394.8,277.6 L395.8,278.4 L396.8,279.2 L398.0,279.9 L399.5,280.5 L400.8,281.2 L401.2,282.5 L401.5,283.8 L401.5,285.1 L401.4,286.5 L401.2,287.9 L401.0,289.2 L401.0,290.5 L401.4,291.6 L402.3,292.7 L403.4,293.8 L404.7,294.9 L405.8,296.0 L406.8,297.3 L405.6,298.7Z" fill="#ddf0eb" stroke="#a3d6c9" stroke-width="1.1" stroke-linejoin="round" opacity="0.90"/><path d="M378.8,301.0 L378.1,302.7 L378.9,304.6 L379.6,306.7 L378.6,308.4 L376.7,309.5 L375.1,310.5 L373.8,311.6 L372.3,312.4 L371.0,313.4 L370.2,315.3 L369.0,316.8 L367.1,316.8 L365.2,316.2 L363.7,316.8 L362.0,317.8 L360.2,317.9 L358.6,317.2 L356.9,316.6 L355.6,315.4 L354.8,313.4 L354.0,312.0 L352.1,311.9 L349.8,312.0 L348.3,310.9 L347.6,309.3 L346.4,307.9 L345.2,306.5 L344.6,304.7 L344.0,302.9 L342.8,301.0 L342.4,298.9 L343.9,297.2 L345.8,295.7 L346.5,294.1 L346.6,292.1 L347.5,290.4 L348.8,289.1 L350.1,287.8 L351.9,287.1 L354.2,287.5 L356.2,288.0 L357.5,287.1 L358.8,286.0 L360.5,286.3 L362.0,287.2 L363.4,287.3 L365.0,287.0 L366.6,287.0 L368.4,286.7 L370.8,285.8 L373.1,285.8 L374.2,287.5 L374.7,289.6 L375.9,290.9 L377.5,292.0 L378.4,293.7 L378.9,295.5 L379.5,297.3 L379.7,299.1Z" fill="#c3e5db" opacity="0.90"/>
<path d="M308.5,415.0 L308.8,416.0 L309.1,417.1 L309.4,418.2 L309.6,419.3 L310.1,420.4 L310.7,421.6 L311.4,422.9 L311.2,424.0 L310.4,425.0 L309.6,425.9 L308.6,426.7 L307.6,427.5 L306.7,428.3 L305.9,429.1 L305.4,430.0 L305.1,431.0 L304.9,432.1 L304.7,433.2 L304.2,434.2 L303.4,434.9 L302.0,435.2 L300.7,435.5 L299.6,435.8 L298.7,436.3 L297.9,436.9 L297.2,437.6 L296.5,438.3 L295.7,438.8 L294.8,439.2 L293.9,439.6 L293.1,440.1 L292.4,440.8 L291.5,441.3 L290.6,441.5 L289.6,441.8 L288.7,441.9 L287.6,441.8 L286.5,441.6 L285.5,441.4 L284.6,441.5 L283.8,441.8 L283.1,442.6 L282.4,443.6 L281.6,444.6 L280.8,445.4 L279.7,444.4 L278.7,443.2 L277.7,442.1 L276.8,441.2 L276.0,440.7 L275.2,440.5 L274.4,440.7 L273.5,441.0 L272.7,441.3 L271.8,441.5 L270.9,441.7 L270.0,442.0 L269.2,441.4 L268.6,440.5 L267.9,440.0 L267.1,439.6 L266.4,439.3 L265.6,439.0 L264.9,438.7 L264.1,438.4 L263.2,438.3 L262.1,438.5 L260.9,438.8 L259.6,439.1 L258.3,439.4 L257.4,439.0 L256.6,438.4 L255.9,437.8 L255.2,437.2 L254.3,436.7 L253.3,436.3 L252.1,436.0 L250.9,435.8 L249.6,435.5 L248.4,435.0 L247.4,434.5 L246.4,433.8 L245.9,432.8 L245.6,431.7 L245.2,430.7 L244.7,429.7 L244.3,428.7 L243.9,427.7 L243.6,426.7 L243.5,425.6 L243.3,424.5 L243.0,423.5 L242.3,422.5 L241.4,421.6 L240.5,420.6 L241.1,419.4 L241.9,418.2 L242.9,417.1 L244.0,416.0 L244.9,415.0 L245.6,414.0 L245.7,413.1 L245.5,412.1 L245.0,411.1 L244.4,410.0 L244.0,408.9 L243.7,407.8 L244.6,406.9 L245.9,406.3 L247.0,405.6 L247.7,404.8 L248.1,404.0 L248.3,403.0 L248.4,402.0 L248.7,401.1 L249.1,400.2 L249.5,399.3 L249.9,398.4 L250.2,397.5 L250.4,396.4 L251.1,395.7 L251.7,394.9 L252.4,394.2 L253.3,393.7 L254.3,393.3 L255.3,392.9 L256.2,392.5 L256.9,391.9 L257.5,391.2 L258.0,390.3 L258.6,389.4 L259.2,388.6 L260.3,388.4 L261.5,388.6 L262.7,389.0 L263.9,389.2 L264.9,389.3 L265.7,389.0 L266.5,388.7 L267.3,388.2 L268.1,387.8 L268.9,387.3 L269.7,386.8 L270.5,386.1 L271.3,385.3 L272.3,385.8 L273.3,386.2 L274.2,386.4 L275.1,386.7 L276.0,387.0 L276.9,387.2 L277.7,387.3 L278.6,387.1 L279.6,386.5 L280.7,385.6 L281.8,384.5 L283.0,383.5 L284.0,383.7 L284.8,384.7 L285.5,385.8 L286.2,386.7 L286.9,387.4 L287.8,387.8 L288.8,387.9 L289.8,387.9 L290.9,387.9 L291.9,388.2 L292.7,388.6 L293.5,389.2 L294.2,390.0 L294.6,391.0 L295.1,391.9 L295.7,392.6 L296.4,393.3 L297.0,394.0 L297.4,394.9 L297.8,395.8 L298.1,396.7 L298.5,397.6 L299.1,398.2 L300.0,398.7 L301.0,399.1 L301.7,399.8 L302.0,400.7 L302.1,401.7 L302.0,402.7 L302.0,403.8 L302.1,404.6 L302.6,405.4 L303.5,406.1 L304.6,406.7 L305.9,407.3 L307.1,408.0 L308.3,408.8 L309.3,409.7 L308.7,410.9 L308.3,411.9 L308.1,413.0 L308.2,414.0Z" fill="#ddf0eb" stroke="#a3d6c9" stroke-width="1.1" stroke-linejoin="round" opacity="0.90"/><path d="M288.5,416.0 L287.9,417.5 L287.4,418.9 L288.0,420.6 L288.6,422.5 L288.1,424.2 L287.0,425.5 L285.8,426.7 L284.2,427.4 L282.2,427.4 L280.8,427.7 L279.8,429.0 L278.6,430.1 L276.9,429.8 L275.4,429.0 L274.0,428.8 L272.7,428.7 L271.4,428.1 L270.2,427.8 L268.7,427.8 L267.6,427.2 L267.1,425.5 L266.6,424.3 L265.1,424.1 L263.1,423.9 L261.6,423.2 L260.4,422.1 L259.2,420.8 L258.6,419.3 L258.9,417.6 L259.0,416.0 L258.2,414.3 L258.1,412.6 L259.4,411.3 L261.1,410.3 L262.1,409.1 L262.9,407.9 L263.9,406.9 L264.7,405.6 L265.3,404.0 L266.5,403.1 L268.4,403.5 L270.1,403.9 L271.3,403.3 L272.6,402.5 L274.0,402.5 L275.4,402.8 L276.8,402.9 L278.1,403.4 L279.2,404.4 L280.4,404.8 L282.3,404.5 L284.1,404.8 L284.8,406.3 L284.9,408.1 L285.3,409.5 L285.9,410.7 L286.1,412.1 L286.7,413.3 L288.0,414.5Z" fill="#c3e5db" opacity="0.90"/>
<path d="M346.9,352.0 L347.3,352.9 L347.6,353.9 L347.6,354.8 L347.3,355.7 L346.3,356.5 L345.4,357.2 L344.6,357.9 L343.9,358.7 L343.4,359.4 L343.0,360.1 L342.5,360.8 L341.9,361.5 L341.2,362.1 L340.4,362.6 L339.7,363.0 L339.0,363.5 L338.5,364.1 L338.2,364.8 L337.6,365.3 L336.9,365.7 L336.2,366.1 L335.3,366.3 L334.5,366.5 L333.6,366.6 L332.8,366.8 L332.3,367.2 L331.9,367.8 L331.7,368.6 L331.6,369.6 L331.6,370.7 L331.5,371.8 L331.3,372.9 L330.6,373.3 L329.6,373.2 L328.8,373.1 L328.0,373.3 L327.3,373.6 L326.8,374.1 L326.2,374.8 L325.6,375.5 L325.0,376.2 L324.4,376.9 L323.7,377.5 L323.0,378.2 L322.3,379.1 L321.5,380.0 L320.7,380.6 L319.8,380.5 L318.9,380.5 L318.0,380.3 L317.1,380.0 L316.3,379.7 L315.4,379.4 L314.6,379.2 L313.7,379.1 L312.8,379.3 L311.9,379.5 L310.9,379.7 L309.9,379.8 L309.0,379.7 L308.1,379.5 L307.4,378.7 L306.8,378.0 L306.1,377.4 L305.3,376.9 L304.5,376.6 L303.6,376.3 L302.8,376.0 L302.0,375.6 L301.2,375.1 L300.5,374.6 L299.8,374.0 L299.0,373.6 L298.0,373.3 L296.9,373.1 L296.1,372.5 L295.6,371.7 L295.3,370.8 L295.0,369.8 L294.9,368.8 L294.9,367.7 L294.8,366.7 L294.6,365.9 L294.1,365.2 L293.4,364.5 L292.5,364.0 L291.7,363.4 L290.8,362.8 L290.1,362.0 L290.2,361.0 L291.1,359.8 L291.9,358.7 L292.5,357.7 L292.8,356.8 L292.9,356.0 L292.9,355.2 L292.9,354.4 L292.8,353.6 L292.9,352.8 L292.9,352.0 L292.9,351.2 L292.9,350.4 L292.6,349.6 L292.4,348.8 L292.6,348.0 L292.8,347.2 L293.1,346.4 L293.4,345.7 L293.8,345.0 L294.2,344.3 L294.4,343.5 L294.6,342.7 L294.6,341.9 L294.4,340.9 L294.3,339.9 L294.2,338.9 L294.3,338.0 L294.5,337.1 L295.2,336.5 L296.0,336.0 L296.7,335.5 L297.4,335.0 L298.0,334.4 L298.6,333.7 L299.1,333.1 L299.7,332.5 L300.4,332.0 L301.1,331.6 L301.8,331.1 L302.4,330.5 L302.9,329.8 L303.3,328.8 L304.1,328.5 L305.1,328.6 L306.2,328.8 L307.2,329.1 L308.3,329.5 L309.3,329.9 L310.2,330.2 L310.9,330.3 L311.6,330.0 L312.2,329.5 L312.8,328.8 L313.4,328.0 L314.1,327.2 L314.8,326.6 L315.6,326.5 L316.4,327.2 L317.2,327.7 L318.0,328.0 L318.8,328.0 L319.5,327.8 L320.3,327.4 L321.2,327.0 L322.0,326.8 L322.8,326.6 L323.7,326.6 L324.5,326.5 L325.4,326.4 L326.4,326.2 L327.4,325.9 L328.3,326.0 L329.2,326.1 L330.1,326.4 L330.8,326.8 L331.6,327.3 L332.2,328.0 L332.9,328.6 L333.6,329.1 L334.4,329.4 L335.4,329.6 L336.4,329.8 L337.4,330.0 L338.4,330.3 L339.3,330.7 L339.7,331.6 L339.8,332.8 L339.9,333.9 L340.1,334.8 L340.5,335.7 L340.9,336.4 L341.5,337.1 L342.0,337.8 L342.6,338.5 L343.1,339.2 L343.7,339.9 L344.5,340.5 L345.4,341.2 L346.5,341.7 L347.1,342.5 L347.0,343.6 L346.9,344.6 L346.7,345.6 L346.5,346.6 L346.2,347.5 L346.0,348.5 L345.9,349.4 L346.1,350.2 L346.5,351.1Z" fill="#ddf0eb" stroke="#a3d6c9" stroke-width="1.1" stroke-linejoin="round" opacity="0.90"/><path d="M329.5,353.0 L328.8,354.3 L328.3,355.6 L327.5,356.7 L326.2,357.5 L325.4,358.4 L325.5,359.9 L325.4,361.5 L324.3,362.2 L322.8,362.4 L321.7,362.8 L320.6,363.3 L319.4,363.5 L318.3,363.9 L317.2,364.8 L316.0,365.2 L314.8,364.5 L313.7,363.8 L312.4,364.0 L310.9,364.5 L309.6,364.1 L308.5,363.3 L307.5,362.4 L306.9,361.2 L306.8,359.7 L306.5,358.5 L305.2,357.8 L303.8,357.0 L303.5,355.7 L303.6,354.3 L303.3,353.0 L302.9,351.6 L303.0,350.2 L303.1,348.8 L303.1,347.2 L303.8,346.0 L305.6,345.5 L307.5,345.3 L308.4,344.6 L309.1,343.5 L310.1,342.9 L311.3,342.5 L312.4,342.0 L313.7,341.9 L314.9,342.6 L316.0,342.9 L317.1,342.1 L318.4,341.6 L319.5,342.2 L320.4,343.2 L321.4,343.6 L322.7,343.8 L323.9,344.2 L325.3,344.6 L327.3,344.8 L328.7,345.7 L328.8,347.3 L328.6,348.9 L329.1,350.2 L329.7,351.6Z" fill="#c3e5db" opacity="0.90"/>
<path d="M416.2,425.0 L415.8,425.9 L415.6,426.7 L415.5,427.6 L415.2,428.4 L414.9,429.3 L414.6,430.1 L414.3,430.9 L414.1,431.7 L413.3,432.3 L412.6,433.0 L412.0,433.6 L411.5,434.3 L410.9,434.9 L410.3,435.5 L409.8,436.1 L409.3,436.7 L409.2,437.5 L409.3,438.5 L409.6,439.7 L410.1,441.1 L410.6,442.5 L409.9,443.1 L408.8,443.3 L407.6,443.4 L406.6,443.6 L405.7,443.8 L405.0,444.3 L404.6,445.1 L404.3,446.0 L404.1,447.1 L403.8,448.2 L403.3,449.2 L402.8,450.0 L402.1,450.7 L401.3,451.0 L400.2,451.0 L399.3,451.2 L398.5,451.6 L397.8,452.1 L397.0,452.6 L396.1,453.0 L395.3,453.3 L394.4,453.5 L393.5,453.8 L392.6,454.3 L391.8,455.0 L390.9,455.8 L390.0,456.6 L389.0,456.9 L388.0,456.9 L387.0,456.7 L386.0,456.5 L385.0,456.3 L384.1,456.2 L383.0,456.4 L381.9,456.8 L380.8,457.3 L379.6,457.7 L378.4,458.0 L377.2,458.2 L376.0,458.4 L375.1,457.5 L374.4,456.5 L373.6,455.6 L372.8,454.8 L372.0,454.1 L371.2,453.4 L370.4,452.7 L369.7,451.9 L369.0,451.1 L368.2,450.5 L367.3,450.0 L366.2,449.7 L365.0,449.5 L364.4,448.6 L364.3,447.2 L364.5,445.8 L364.7,444.3 L364.9,442.9 L365.1,441.7 L365.0,440.6 L364.7,439.8 L364.1,439.1 L363.4,438.5 L362.6,437.9 L362.0,437.2 L361.5,436.5 L361.3,435.6 L361.8,434.4 L362.0,433.4 L362.0,432.6 L361.7,431.8 L361.3,431.0 L360.8,430.2 L360.5,429.4 L360.3,428.5 L360.1,427.6 L360.0,426.8 L359.8,425.9 L359.3,425.0 L358.7,424.1 L358.4,423.1 L358.4,422.2 L358.6,421.3 L359.0,420.4 L359.6,419.6 L360.2,418.8 L360.6,418.0 L360.9,417.1 L360.8,416.2 L360.6,415.1 L360.3,414.0 L360.1,412.9 L360.0,411.8 L360.7,411.1 L362.1,410.8 L363.4,410.5 L364.6,410.1 L365.4,409.7 L366.1,409.1 L366.6,408.4 L367.0,407.7 L367.5,406.9 L368.0,406.2 L368.4,405.4 L368.7,404.5 L368.9,403.4 L369.2,402.3 L370.2,402.1 L371.1,401.8 L372.1,401.5 L373.0,401.3 L373.9,401.1 L374.7,400.8 L375.5,400.4 L376.1,399.8 L376.7,398.9 L377.3,397.9 L377.9,396.8 L378.6,395.9 L379.4,395.3 L380.4,395.3 L381.4,395.5 L382.4,395.6 L383.4,395.6 L384.3,395.5 L385.2,395.1 L386.1,394.8 L387.0,394.5 L388.0,394.5 L389.0,394.6 L389.9,394.7 L390.9,394.8 L391.8,394.7 L392.8,394.7 L393.7,395.1 L394.6,395.4 L395.5,395.9 L396.3,396.6 L397.0,397.3 L397.7,398.0 L398.5,398.6 L399.3,398.9 L400.3,398.8 L401.5,398.5 L402.8,398.0 L404.3,397.5 L405.5,397.4 L405.9,398.6 L406.3,399.8 L406.6,401.0 L407.1,401.9 L407.8,402.5 L408.7,402.9 L409.8,403.2 L411.0,403.4 L412.2,403.7 L413.3,404.1 L414.4,404.6 L415.4,405.1 L416.6,405.6 L416.9,406.7 L417.2,407.7 L417.6,408.7 L418.0,409.7 L418.3,410.8 L418.4,411.8 L418.5,412.9 L418.5,414.0 L418.6,415.1 L418.9,416.0 L419.3,417.0 L419.7,417.9 L420.0,418.9 L419.8,420.0 L419.2,421.1 L418.3,422.1 L417.5,423.1 L416.7,424.1Z" fill="#ddf0eb" stroke="#a3d6c9" stroke-width="1.1" stroke-linejoin="round" opacity="0.90"/><path d="M399.8,426.0 L399.2,427.4 L399.0,428.8 L398.9,430.2 L398.3,431.5 L397.9,432.8 L397.8,434.6 L397.2,436.1 L395.4,436.5 L393.6,436.4 L392.5,437.2 L391.6,438.5 L390.4,439.4 L389.0,440.1 L387.6,440.9 L386.0,441.2 L384.5,440.3 L383.1,439.4 L381.6,439.5 L380.0,439.5 L378.9,438.2 L378.5,436.3 L378.0,434.9 L377.4,433.7 L377.1,432.5 L376.4,431.6 L374.8,431.0 L373.5,430.0 L373.6,428.6 L374.1,427.3 L373.7,426.0 L372.8,424.6 L372.6,423.1 L372.8,421.7 L372.8,420.1 L373.4,418.7 L374.7,417.8 L375.7,416.7 L376.0,414.9 L376.5,412.9 L377.9,411.9 L379.8,412.0 L381.4,412.0 L383.0,412.1 L384.6,412.8 L386.0,413.3 L387.4,413.0 L388.8,413.0 L389.8,414.3 L390.6,415.7 L391.8,415.9 L393.4,415.8 L394.8,416.2 L396.0,417.0 L397.2,417.9 L397.9,419.1 L397.6,420.8 L397.4,422.3 L398.4,423.4 L399.7,424.6Z" fill="#c3e5db" opacity="0.90"/>
<path d="M324.0,375.0 L323.9,375.8 L323.3,376.5 L323.0,377.2 L322.9,377.9 L322.8,378.6 L322.7,379.3 L322.5,380.0 L322.1,380.7 L321.7,381.3 L321.3,381.9 L321.1,382.6 L321.1,383.4 L321.2,384.2 L321.0,384.9 L320.4,385.4 L319.7,385.8 L318.8,386.1 L318.0,386.4 L317.2,386.7 L316.7,387.1 L316.4,387.7 L316.2,388.4 L316.1,389.2 L315.9,390.0 L315.7,390.7 L315.4,391.4 L314.3,391.2 L313.3,391.1 L312.5,391.1 L311.9,391.4 L311.4,391.7 L310.9,392.2 L310.5,392.7 L310.0,393.2 L309.6,393.9 L309.2,394.6 L308.9,395.6 L308.6,396.8 L308.0,397.3 L307.3,397.5 L306.6,397.6 L305.8,397.6 L305.1,397.6 L304.3,397.7 L303.6,398.0 L303.0,398.5 L302.3,399.2 L301.6,400.0 L300.8,400.7 L300.0,401.3 L299.2,401.5 L298.4,401.0 L297.6,400.5 L296.8,400.1 L296.1,399.9 L295.3,399.8 L294.5,399.8 L293.6,399.7 L292.9,399.5 L292.2,399.1 L291.5,398.7 L290.8,398.2 L290.1,397.9 L289.4,397.5 L288.8,397.0 L288.2,396.4 L287.7,395.8 L287.3,395.1 L286.9,394.3 L286.6,393.5 L286.1,392.9 L285.5,392.5 L284.7,392.4 L283.7,392.4 L282.6,392.4 L281.6,392.3 L281.5,391.3 L281.6,390.2 L281.6,389.3 L281.6,388.4 L281.2,387.7 L280.7,387.3 L279.9,386.9 L279.0,386.5 L278.1,386.2 L277.2,385.7 L276.4,385.2 L275.6,384.7 L275.4,383.8 L275.6,382.9 L275.6,382.1 L275.5,381.3 L275.3,380.5 L275.2,379.7 L275.2,378.9 L275.2,378.1 L275.1,377.3 L274.9,376.6 L274.5,375.8 L274.1,375.0 L273.8,374.2 L274.3,373.4 L274.8,372.6 L275.5,371.9 L276.1,371.2 L276.6,370.5 L277.0,369.9 L277.1,369.1 L277.2,368.4 L277.3,367.6 L277.5,366.9 L277.8,366.2 L278.1,365.5 L278.7,365.0 L279.5,364.5 L280.1,364.0 L280.5,363.5 L280.9,362.9 L281.3,362.3 L281.8,361.8 L282.4,361.3 L282.8,360.8 L283.2,360.2 L283.4,359.4 L283.4,358.4 L283.5,357.4 L284.3,357.2 L285.2,357.1 L286.1,357.1 L287.1,357.3 L288.0,357.3 L288.8,357.3 L289.3,357.0 L289.8,356.4 L290.1,355.6 L290.5,354.7 L290.9,353.9 L291.4,353.3 L292.3,353.5 L293.3,354.3 L294.1,354.8 L294.9,355.1 L295.5,355.1 L296.2,354.9 L296.8,354.6 L297.4,354.4 L298.0,354.3 L298.7,354.1 L299.3,353.9 L300.0,353.6 L300.7,353.2 L301.4,353.2 L302.1,353.1 L302.8,353.1 L303.5,353.1 L304.2,353.2 L304.9,353.3 L305.6,353.3 L306.4,353.1 L307.2,352.7 L308.2,352.2 L309.2,351.7 L310.2,351.4 L311.1,351.5 L311.8,351.9 L312.4,352.4 L313.1,352.9 L313.8,353.2 L314.7,353.4 L315.6,353.6 L316.5,353.7 L317.4,353.9 L318.3,354.2 L319.2,354.6 L320.1,354.9 L321.0,355.3 L321.2,356.3 L321.5,357.2 L321.7,358.2 L321.9,359.1 L322.0,360.1 L322.0,361.0 L322.1,361.9 L322.4,362.7 L322.9,363.4 L323.6,363.9 L324.5,364.4 L325.3,365.0 L325.3,365.9 L324.7,367.0 L324.0,368.0 L323.3,369.0 L322.9,369.9 L322.8,370.7 L322.9,371.4 L323.3,372.1 L323.6,372.8 L323.9,373.5 L324.0,374.2Z" fill="#ddf0eb" stroke="#a3d6c9" stroke-width="1.1" stroke-linejoin="round" opacity="0.90"/><path d="M308.7,376.0 L308.1,377.1 L308.2,378.2 L308.8,379.5 L308.8,380.8 L308.0,381.8 L307.1,382.6 L306.1,383.3 L304.9,383.7 L303.8,383.9 L303.1,384.9 L302.6,386.4 L301.6,387.1 L300.3,387.0 L299.2,387.0 L298.0,387.5 L296.8,387.7 L295.5,387.5 L294.3,387.5 L293.1,387.1 L292.3,385.8 L292.0,384.2 L291.4,383.4 L290.2,383.0 L289.2,382.4 L288.9,381.3 L288.5,380.2 L288.3,379.2 L288.6,378.0 L289.0,376.9 L288.6,376.0 L287.9,374.9 L288.1,373.9 L289.0,373.1 L289.5,372.2 L289.3,371.0 L289.3,369.7 L289.6,368.4 L289.8,366.9 L290.3,365.4 L291.6,364.9 L293.2,365.2 L294.4,364.9 L295.5,364.1 L296.7,363.9 L298.0,364.4 L299.2,364.9 L300.3,365.4 L301.2,366.2 L302.0,367.0 L303.2,367.1 L304.5,367.0 L305.4,367.8 L305.5,369.2 L305.7,370.4 L306.3,371.2 L306.8,372.1 L307.2,373.0 L308.0,373.9 L308.8,374.9Z" fill="#c3e5db" opacity="0.90"/>
<path d="M406.7,370.0 L406.3,370.7 L406.1,371.3 L405.8,372.0 L405.5,372.6 L405.3,373.2 L405.2,373.8 L405.2,374.5 L405.4,375.2 L405.8,376.0 L406.1,376.8 L405.9,377.5 L405.5,378.1 L405.1,378.7 L404.6,379.2 L404.1,379.7 L403.8,380.3 L403.5,381.0 L403.4,381.7 L403.4,382.5 L403.4,383.3 L403.2,384.1 L403.0,384.9 L402.6,385.5 L402.2,386.1 L401.6,386.6 L400.9,386.9 L400.3,387.3 L399.7,387.7 L399.1,388.2 L398.5,388.6 L397.8,388.9 L397.1,389.1 L396.4,389.3 L395.8,389.6 L395.2,390.0 L394.7,390.6 L394.2,391.4 L393.8,392.3 L393.3,393.1 L392.5,392.9 L391.6,392.6 L390.7,392.2 L389.9,391.8 L389.1,391.5 L388.4,391.4 L387.7,391.6 L387.1,392.0 L386.4,392.7 L385.7,393.3 L385.0,394.0 L384.2,394.5 L383.4,394.9 L382.6,395.2 L381.9,394.7 L381.2,394.2 L380.4,394.0 L379.7,393.9 L378.9,393.8 L378.1,393.8 L377.3,393.6 L376.6,393.4 L375.9,393.0 L375.2,392.7 L374.4,392.4 L373.6,392.3 L372.8,392.2 L371.9,392.1 L371.2,391.7 L370.7,391.1 L370.2,390.3 L369.9,389.5 L369.6,388.6 L369.3,387.9 L368.9,387.2 L368.4,386.6 L367.7,386.2 L367.1,385.8 L366.4,385.4 L365.8,384.9 L365.2,384.4 L364.6,383.8 L364.2,383.2 L364.2,382.3 L364.1,381.5 L363.9,380.8 L363.6,380.1 L363.3,379.4 L363.0,378.7 L362.7,378.0 L362.4,377.3 L362.0,376.7 L361.5,376.0 L360.8,375.4 L359.8,374.8 L358.7,374.2 L357.7,373.4 L358.0,372.6 L358.4,371.7 L358.9,370.8 L359.5,370.0 L359.9,369.2 L360.3,368.4 L360.3,367.7 L360.3,366.9 L360.1,366.1 L359.9,365.2 L359.9,364.4 L360.1,363.6 L360.4,362.9 L360.9,362.2 L361.7,361.6 L362.6,361.1 L363.3,360.6 L363.9,360.1 L364.4,359.5 L364.9,359.0 L365.6,358.5 L366.3,358.1 L367.1,357.8 L367.8,357.5 L368.3,357.1 L368.8,356.6 L369.1,356.0 L369.3,355.3 L369.7,354.7 L370.4,354.4 L371.1,354.2 L371.9,354.2 L372.7,354.1 L373.4,354.0 L374.0,353.8 L374.4,353.4 L374.8,352.7 L375.1,352.0 L375.4,351.2 L375.8,350.5 L376.2,349.7 L376.7,348.9 L377.2,348.4 L378.1,348.7 L378.8,348.8 L379.6,348.8 L380.2,348.7 L380.9,348.6 L381.6,348.4 L382.3,348.3 L382.9,348.2 L383.6,348.0 L384.3,347.7 L385.0,347.2 L385.7,346.6 L386.5,345.9 L387.3,345.2 L388.1,345.5 L388.8,345.9 L389.5,346.4 L390.2,346.9 L390.8,347.3 L391.5,347.6 L392.3,347.7 L393.1,347.5 L394.0,347.3 L394.9,347.1 L395.8,347.0 L396.7,347.1 L397.5,347.3 L398.3,347.5 L399.0,348.0 L399.7,348.4 L400.4,348.8 L401.2,349.1 L402.1,349.4 L402.8,349.8 L403.6,350.2 L404.2,350.8 L404.7,351.5 L405.3,352.1 L405.9,352.7 L406.6,353.2 L407.5,353.6 L408.5,354.0 L409.2,354.6 L409.4,355.6 L409.3,356.7 L409.0,357.8 L408.6,358.9 L408.3,359.9 L408.1,360.9 L408.1,361.7 L408.2,362.5 L408.5,363.2 L408.9,363.9 L409.2,364.6 L409.4,365.3 L409.5,366.1 L409.6,366.9 L408.6,367.8 L407.7,368.6 L407.1,369.3Z" fill="#ddf0eb" stroke="#a3d6c9" stroke-width="1.1" stroke-linejoin="round" opacity="0.90"/><path d="M392.4,371.0 L392.5,372.0 L392.5,373.0 L392.2,374.0 L392.1,375.1 L391.9,376.2 L391.1,376.9 L390.2,377.4 L389.8,378.5 L389.5,380.0 L388.7,380.8 L387.4,380.8 L386.2,380.8 L385.1,381.1 L384.1,381.2 L383.0,381.3 L381.8,381.9 L380.5,382.6 L379.4,382.2 L378.5,381.0 L377.7,380.3 L376.5,380.0 L375.4,379.4 L374.7,378.5 L373.9,377.6 L373.2,376.7 L373.1,375.4 L373.2,374.2 L372.4,373.3 L371.1,372.3 L370.6,371.0 L371.2,369.8 L371.9,368.6 L372.5,367.6 L373.4,366.7 L374.4,366.1 L374.9,365.1 L375.4,364.1 L376.5,363.7 L377.8,363.9 L378.7,363.5 L379.2,362.4 L379.9,361.4 L380.8,360.8 L381.9,360.2 L383.0,359.9 L384.1,360.3 L385.1,361.0 L386.3,360.9 L387.8,360.2 L389.1,360.4 L390.1,361.3 L391.0,362.1 L392.0,362.9 L392.8,363.9 L393.3,365.1 L394.1,366.0 L394.8,367.2 L394.4,368.6 L393.1,369.9Z" fill="#c3e5db" opacity="0.90"/>
<path d="M271.3,180.0 L271.6,180.7 L271.9,181.4 L272.2,182.1 L272.4,182.8 L271.7,183.4 L271.1,184.0 L270.7,184.6 L270.5,185.3 L270.3,185.9 L270.2,186.6 L270.0,187.2 L269.8,187.9 L269.7,188.5 L269.7,189.3 L269.9,190.1 L270.1,191.0 L270.2,192.0 L270.0,192.7 L269.4,193.2 L268.8,193.7 L268.1,194.1 L267.5,194.5 L266.9,194.9 L266.4,195.4 L266.0,196.0 L265.7,196.7 L265.3,197.3 L264.8,197.8 L264.2,198.3 L263.5,198.6 L262.8,198.8 L261.9,198.8 L261.1,198.8 L260.4,198.9 L259.7,199.0 L259.0,199.2 L258.3,199.2 L257.6,199.2 L256.9,199.2 L256.2,199.2 L255.6,199.4 L255.1,199.8 L254.6,200.5 L254.1,201.3 L253.3,201.0 L252.6,200.7 L251.9,200.2 L251.2,199.6 L250.6,199.1 L250.0,198.8 L249.4,198.8 L248.8,199.1 L248.2,199.5 L247.5,200.1 L246.7,200.6 L246.0,201.0 L245.3,201.2 L244.7,200.7 L244.2,200.0 L243.7,199.3 L243.2,198.9 L242.6,198.7 L242.0,198.6 L241.3,198.4 L240.8,198.1 L240.2,197.8 L239.7,197.5 L239.1,197.2 L238.5,197.0 L237.8,196.8 L237.1,196.6 L236.6,196.2 L236.2,195.7 L235.8,195.1 L235.5,194.5 L235.3,193.8 L234.9,193.3 L234.5,192.8 L233.9,192.5 L233.2,192.2 L232.5,191.9 L231.7,191.6 L231.0,191.3 L230.3,190.8 L230.2,190.1 L230.0,189.4 L229.8,188.7 L229.5,188.1 L229.0,187.6 L228.5,187.0 L227.9,186.4 L227.4,185.8 L226.9,185.2 L226.4,184.5 L225.8,183.8 L225.0,183.2 L224.1,182.5 L223.8,181.6 L224.0,180.8 L224.2,180.0 L224.6,179.2 L225.1,178.4 L225.5,177.7 L225.9,177.0 L226.1,176.2 L226.1,175.4 L225.9,174.6 L225.6,173.7 L225.5,172.9 L225.5,172.0 L226.0,171.3 L227.1,170.9 L228.3,170.6 L229.2,170.2 L230.0,169.8 L230.5,169.3 L231.0,168.7 L231.4,168.2 L231.9,167.7 L232.5,167.3 L233.1,166.9 L233.8,166.6 L234.3,166.2 L234.7,165.7 L235.3,165.3 L235.9,165.0 L236.5,164.6 L237.1,164.4 L237.7,164.2 L238.4,164.1 L239.1,164.0 L239.7,163.7 L240.2,163.4 L240.6,162.8 L240.9,162.1 L241.3,161.4 L241.7,160.7 L242.3,160.6 L243.1,160.8 L243.9,161.2 L244.6,161.4 L245.3,161.5 L245.9,161.5 L246.4,161.3 L247.0,161.0 L247.6,160.6 L248.1,160.4 L248.7,160.1 L249.4,159.7 L250.0,159.3 L250.7,159.1 L251.3,159.6 L251.9,160.0 L252.5,160.4 L253.1,160.7 L253.6,161.0 L254.2,161.3 L254.7,161.6 L255.3,161.6 L256.0,161.5 L256.8,161.1 L257.7,160.7 L258.6,160.2 L259.4,159.9 L260.0,160.4 L260.4,161.0 L260.9,161.6 L261.4,162.0 L262.0,162.3 L262.8,162.4 L263.6,162.5 L264.5,162.5 L265.3,162.6 L266.1,162.9 L266.7,163.3 L267.4,163.7 L268.0,164.1 L268.5,164.7 L269.0,165.3 L269.5,165.8 L270.0,166.4 L270.5,167.0 L270.7,167.7 L270.9,168.5 L271.0,169.3 L271.1,170.1 L271.4,170.7 L271.9,171.3 L272.5,171.9 L273.2,172.5 L273.5,173.2 L273.1,174.1 L272.6,175.0 L271.9,175.8 L271.3,176.6 L270.8,177.4 L270.7,178.0 L270.7,178.7 L271.0,179.3Z" fill="#ddf0eb" stroke="#a3d6c9" stroke-width="1.1" stroke-linejoin="round" opacity="0.90"/><path d="M257.2,181.0 L257.7,182.0 L258.3,183.2 L258.3,184.4 L257.6,185.3 L257.1,186.3 L257.2,187.7 L257.0,189.1 L255.9,189.8 L254.6,190.1 L253.4,190.4 L252.1,190.3 L250.9,190.0 L249.9,190.1 L249.0,190.8 L248.0,191.1 L247.0,190.3 L246.2,189.5 L245.3,189.3 L244.3,189.2 L243.5,188.8 L242.7,188.3 L241.7,188.0 L241.1,187.2 L241.0,186.1 L240.6,185.3 L239.3,184.9 L238.0,184.3 L237.4,183.2 L237.3,182.1 L237.1,181.0 L237.3,179.9 L238.0,178.9 L238.4,177.9 L238.3,176.7 L238.7,175.6 L239.9,175.1 L241.1,174.8 L241.7,174.0 L242.2,173.0 L242.9,172.2 L243.7,171.4 L244.6,170.5 L245.7,170.3 L247.0,171.1 L248.0,171.6 L249.0,171.3 L250.1,171.0 L251.1,171.6 L251.8,172.4 L252.7,172.9 L253.4,173.6 L253.9,174.4 L254.7,175.0 L255.9,175.2 L256.7,176.0 L256.5,177.2 L256.2,178.3 L256.5,179.2 L256.9,180.1Z" fill="#c3e5db" opacity="0.90"/>
<path d="M155.9,612.0 L199.0,612.0 L199.1,612.0 L199.1,611.9 L199.1,398.6 L199.1,398.2 L199.2,397.9 L199.2,397.5 L199.3,397.2 L199.5,396.9 L199.5,396.8 L199.7,396.5 L200.8,394.6 L200.8,394.5 L200.9,394.4 L201.0,394.1 L202.0,392.5 L202.1,392.4 L202.1,392.3 L202.3,392.0 L203.2,390.6 L203.3,390.6 L203.4,390.3 L203.6,390.1 L204.5,388.7 L204.6,388.7 L204.7,388.4 L204.9,388.2 L205.8,386.9 L205.9,386.9 L206.0,386.6 L206.2,386.4 L207.1,385.2 L207.2,385.1 L207.3,384.9 L207.5,384.7 L208.4,383.6 L208.5,383.5 L208.6,383.3 L208.8,383.1 L209.8,382.0 L209.8,381.9 L210.0,381.7 L210.2,381.5 L211.1,380.4 L211.2,380.4 L211.3,380.2 L211.5,380.0 L212.5,379.0 L212.6,378.9 L212.7,378.7 L212.9,378.5 L213.9,377.5 L214.0,377.4 L214.2,377.3 L214.4,377.0 L215.4,376.1 L215.5,376.0 L215.6,375.9 L215.8,375.7 L216.8,374.8 L216.9,374.8 L216.9,374.7 L217.2,374.5 L218.1,373.7 L218.2,373.6 L218.3,373.5 L218.6,373.3 L219.6,372.6 L219.6,372.5 L219.8,372.4 L220.0,372.2 L221.1,371.5 L221.1,371.4 L221.3,371.3 L221.6,371.1 L222.6,370.4 L222.7,370.3 L223.0,370.2 L223.2,370.0 L224.3,369.3 L224.4,369.2 L224.7,369.0 L224.9,368.9 L226.1,368.2 L226.1,368.1 L226.5,367.8 L226.7,367.7 L227.9,367.0 L228.0,366.9 L228.5,366.6 L228.6,366.5 L229.9,365.8 L229.9,365.7 L230.5,365.4 L230.7,365.3 L231.9,364.5 L232.0,364.4 L232.4,364.2 L232.6,364.0 L233.9,363.3 L234.0,363.2 L234.3,363.0 L234.5,362.9 L235.8,362.2 L235.9,362.1 L236.2,361.9 L236.4,361.8 L237.7,361.0 L237.8,361.0 L238.2,360.7 L238.4,360.6 L239.8,359.9 L239.9,359.8 L240.3,359.6 L240.5,359.4 L241.9,358.7 L242.0,358.7 L242.5,358.4 L242.7,358.3 L244.1,357.5 L244.2,357.5 L244.7,357.2 L244.9,357.1 L246.3,356.3 L246.4,356.3 L247.0,355.9 L247.1,355.8 L248.6,355.1 L248.7,355.0 L249.3,354.6 L249.4,354.6 L250.9,353.8 L251.0,353.7 L251.7,353.3 L251.8,353.2 L253.2,352.5 L253.3,352.4 L253.9,352.0 L254.1,351.9 L255.5,351.1 L255.6,351.1 L256.2,350.7 L256.4,350.6 L257.8,349.8 L257.9,349.7 L258.5,349.4 L258.6,349.3 L260.1,348.5 L260.2,348.4 L260.8,348.1 L260.9,348.0 L262.4,347.1 L262.5,347.1 L263.1,346.7 L263.2,346.6 L264.7,345.8 L264.8,345.7 L265.3,345.4 L265.5,345.3 L267.0,344.4 L267.1,344.4 L267.6,344.0 L267.8,343.9 L268.8,343.4 L269.1,343.2 L269.5,343.1 L269.9,343.0 L270.3,342.9 L271.0,342.8 L271.3,342.8 L271.3,342.8 L271.7,342.7 L272.6,342.7 L272.7,342.7 L273.4,342.6 L273.7,342.5 L274.0,342.5 L275.3,342.4 L275.4,342.4 L276.1,342.3 L276.3,342.3 L276.7,342.2 L278.3,342.1 L278.4,342.1 L279.1,342.0 L279.2,342.0 L279.6,342.0 L281.5,341.8 L281.6,341.8 L282.3,341.8 L282.4,341.7 L282.8,341.7 L284.8,341.6 L284.9,341.6 L285.6,341.5 L285.6,341.5 L286.1,341.5 L288.2,341.4 L288.3,341.4 L289.1,341.3 L289.1,341.3 L289.4,341.3 L291.5,341.3 L291.6,341.3 L292.3,341.2 L292.6,341.2 L294.7,341.2 L294.8,341.2 L295.3,341.2 L295.7,341.2 L297.5,341.3 L297.6,341.3 L298.2,341.3 L298.6,341.3 L300.3,341.5 L300.4,341.5 L301.2,341.5 L301.2,341.5 L301.5,341.5 L303.2,341.7 L303.3,341.7 L304.1,341.8 L304.1,341.8 L304.4,341.8 L306.2,342.0 L306.3,342.0 L307.0,342.1 L307.0,342.1 L307.4,342.1 L309.2,342.4 L309.3,342.4 L310.0,342.5 L310.0,342.5 L310.4,342.5 L312.2,342.9 L312.3,342.9 L312.9,342.9 L312.9,343.0 L313.4,343.0 L315.2,343.4 L315.3,343.4 L316.0,343.5 L316.0,343.5 L316.5,343.5 L318.3,343.9 L318.4,343.9 L319.0,344.0 L319.1,344.0 L319.5,344.1 L321.4,344.5 L321.5,344.5 L322.1,344.6 L322.2,344.6 L322.6,344.7 L324.5,345.2 L324.6,345.2 L325.2,345.3 L325.3,345.3 L325.7,345.4 L327.7,345.8 L327.7,345.9 L328.4,346.0 L328.4,346.0 L328.8,346.1 L330.7,346.6 L330.8,346.6 L331.5,346.8 L331.5,346.8 L331.8,346.8 L333.8,347.4 L333.9,347.5 L334.5,347.6 L334.5,347.6 L334.9,347.7 L336.9,348.4 L337.0,348.4 L337.6,348.6 L337.7,348.6 L338.1,348.7 L340.2,349.4 L340.2,349.4 L340.8,349.6 L340.9,349.6 L341.4,349.7 L343.4,350.5 L343.5,350.5 L344.0,350.7 L344.3,350.7 L344.7,350.8 L346.7,351.6 L346.8,351.6 L347.3,351.7 L347.6,351.8 L347.6,351.8 L348.0,351.9 L350.0,352.6 L350.1,352.7 L350.7,352.8 L350.9,352.9 L350.9,352.9 L351.4,353.0 L353.4,353.7 L353.5,353.7 L354.0,353.8 L354.2,353.9 L354.2,353.9 L354.7,354.0 L356.7,354.7 L356.8,354.7 L357.3,354.8 L357.5,354.9 L357.6,354.9 L358.1,355.0 L360.1,355.5 L360.2,355.6 L360.7,355.7 L360.9,355.7 L361.0,355.7 L361.5,355.8 L363.4,356.4 L363.5,356.4 L364.0,356.5 L364.2,356.5 L364.3,356.5 L364.8,356.6 L366.8,357.1 L366.9,357.1 L367.4,357.2 L367.6,357.3 L367.6,357.3 L368.1,357.3 L370.2,357.8 L370.3,357.8 L370.8,357.9 L371.1,358.0 L371.1,358.0 L371.5,358.0 L373.6,358.5 L373.7,358.5 L374.2,358.6 L374.5,358.6 L374.5,358.6 L374.9,358.7 L376.9,359.1 L377.0,359.1 L377.5,359.2 L377.8,359.2 L377.8,359.2 L378.2,359.3 L380.1,359.7 L380.2,359.7 L380.7,359.8 L381.0,359.8 L381.0,359.8 L381.4,359.9 L383.1,360.2 L383.2,360.2 L383.7,360.3 L384.0,360.3 L384.0,360.3 L384.4,360.4 L386.0,360.7 L386.1,360.7 L386.5,360.8 L386.8,360.8 L386.8,360.8 L387.2,360.9 L388.5,361.1 L388.6,361.1 L389.1,361.2 L389.4,361.2 L389.4,361.2 L389.8,361.3 L390.8,361.5 L390.9,361.5 L391.4,361.5 L391.7,361.6 L391.7,361.6 L392.1,361.6 L392.9,361.8 L393.0,361.8 L393.4,361.8 L393.6,361.8 L393.7,361.8 L394.2,361.9 L394.7,362.0 L394.8,362.0 L395.3,362.0 L395.5,362.1 L395.6,362.1 L396.1,362.1 L396.4,362.1 L396.5,362.2 L397.0,362.2 L397.1,362.2 L397.2,362.2 L397.8,362.2 L397.9,362.3 L398.0,362.3 L398.4,362.3 L398.6,362.3 L398.7,362.3 L399.2,362.3 L399.2,362.3 L399.3,362.3 L399.7,362.4 L399.9,362.4 L400.0,362.3 L400.5,362.4 L400.5,362.4 L400.9,362.4 L401.1,362.4 L401.2,362.4 L401.5,362.4 L401.9,362.4 L402.1,362.4 L402.2,362.4 L402.5,362.3 L402.7,362.3 L402.9,362.3 L402.9,362.3 L403.4,362.3 L403.4,362.3 L403.7,362.3 L403.8,362.3 L404.1,362.3 L404.4,362.3 L404.6,362.3 L404.9,362.2 L405.1,362.2 L405.4,362.1 L405.6,362.1 L405.9,362.0 L406.1,361.9 L406.4,361.8 L406.6,361.7 L406.8,361.5 L407.0,361.4 L407.3,361.2 L407.4,361.1 L407.7,360.9 L407.8,360.7 L408.0,360.5 L408.2,360.3 L408.3,360.1 L408.5,359.9 L408.6,359.6 L408.7,359.5 L408.9,359.2 L408.9,359.0 L409.1,358.7 L409.1,358.5 L409.2,358.2 L409.2,358.0 L409.3,357.7 L409.3,357.5 L409.3,357.1 L409.3,356.9 L409.3,356.6 L409.3,356.4 L409.2,356.1 L409.2,355.9 L409.1,355.6 L409.1,355.4 L409.0,355.1 L408.9,354.9 L408.8,354.6 L408.7,354.4 L408.5,354.2 L408.4,354.0 L408.2,353.7 L408.1,353.6 L407.9,353.3 L407.7,353.2 L407.5,353.0 L407.3,352.8 L407.1,352.7 L406.9,352.5 L406.6,352.4 L406.5,352.3 L406.2,352.1 L406.0,352.1 L405.7,351.9 L405.5,351.9 L405.2,351.8 L405.0,351.8 L404.9,351.7 L404.4,351.6 L404.2,351.6 L404.2,351.6 L403.9,351.5 L403.7,351.5 L403.5,351.5 L403.3,351.5 L402.9,351.4 L402.9,351.4 L402.7,351.3 L402.4,351.3 L402.2,351.3 L401.9,351.2 L401.5,351.2 L401.5,351.1 L401.1,351.1 L400.9,351.1 L400.5,351.0 L400.4,351.0 L400.4,351.0 L400.0,350.9 L399.8,350.9 L399.4,350.8 L399.3,350.8 L399.2,350.8 L398.7,350.7 L398.6,350.7 L398.2,350.6 L398.1,350.6 L397.7,350.5 L397.3,350.4 L397.2,350.4 L396.7,350.3 L396.6,350.3 L396.1,350.2 L395.6,350.1 L395.5,350.1 L395.1,350.0 L395.0,349.9 L394.2,349.8 L393.8,349.7 L393.6,349.6 L393.2,349.5 L393.1,349.5 L392.1,349.3 L391.7,349.2 L391.4,349.1 L390.9,349.0 L390.8,349.0 L389.5,348.8 L389.1,348.7 L388.9,348.6 L388.4,348.5 L388.3,348.5 L386.8,348.2 L386.4,348.1 L386.1,348.0 L385.7,347.9 L385.6,347.9 L383.8,347.5 L383.4,347.4 L383.2,347.3 L382.7,347.2 L382.6,347.2 L380.7,346.8 L380.3,346.7 L380.1,346.6 L379.7,346.5 L379.6,346.5 L377.6,346.1 L377.2,346.0 L377.0,345.9 L376.5,345.8 L376.4,345.7 L374.3,345.3 L373.9,345.2 L373.8,345.1 L373.3,345.0 L373.2,345.0 L371.1,344.5 L370.7,344.4 L370.6,344.3 L370.1,344.2 L370.0,344.1 L368.0,343.6 L367.5,343.5 L367.4,343.5 L366.9,343.3 L366.8,343.3 L364.9,342.8 L364.4,342.6 L364.4,342.6 L363.9,342.5 L363.8,342.4 L361.9,341.9 L361.6,341.7 L361.6,341.7 L361.0,341.5 L360.9,341.5 L358.9,340.9 L358.5,340.7 L358.4,340.7 L357.9,340.5 L357.8,340.4 L355.8,339.8 L355.4,339.6 L355.3,339.6 L354.8,339.3 L354.7,339.3 L352.6,338.6 L352.3,338.4 L352.1,338.4 L351.5,338.1 L351.5,338.1 L349.4,337.4 L349.1,337.2 L348.8,337.1 L348.3,336.9 L348.2,336.9 L346.1,336.2 L345.7,336.0 L345.7,336.0 L345.5,335.9 L344.9,335.7 L344.9,335.6 L342.8,334.9 L342.3,334.7 L342.3,334.7 L342.1,334.6 L341.6,334.4 L341.5,334.4 L339.4,333.7 L339.0,333.6 L338.9,333.5 L338.7,333.4 L338.2,333.2 L338.1,333.2 L336.0,332.6 L335.6,332.4 L335.5,332.4 L335.3,332.3 L334.7,332.1 L334.6,332.1 L332.7,331.6 L332.2,331.4 L332.1,331.4 L331.9,331.3 L331.3,331.2 L331.3,331.1 L329.3,330.7 L328.9,330.5 L328.9,330.5 L328.7,330.4 L328.1,330.3 L328.0,330.3 L326.1,329.8 L325.7,329.7 L325.7,329.7 L325.4,329.6 L324.8,329.4 L324.7,329.4 L322.8,329.0 L322.4,328.9 L322.4,328.9 L322.1,328.8 L321.5,328.6 L321.4,328.6 L319.6,328.2 L319.1,328.1 L319.1,328.1 L318.9,328.0 L318.3,327.9 L318.2,327.9 L316.3,327.5 L315.8,327.4 L315.8,327.4 L315.6,327.3 L315.0,327.2 L314.9,327.2 L313.0,326.9 L312.5,326.8 L312.5,326.7 L312.3,326.7 L311.7,326.6 L311.6,326.6 L309.8,326.3 L309.3,326.2 L309.2,326.2 L309.1,326.1 L308.4,326.0 L308.3,326.0 L307.9,325.9 L307.6,325.8 L307.2,325.6 L306.8,325.4 L306.5,325.2 L306.2,325.0 L305.9,324.7 L305.7,324.4 L305.5,324.0 L305.3,323.7 L305.2,323.3 L305.0,322.9 L305.0,322.5 L304.9,322.2 L304.9,321.8 L305.0,321.4 L305.1,321.0 L305.2,320.6 L305.4,320.2 L305.6,319.9 L305.8,319.6 L306.0,319.3 L306.3,319.0 L307.5,317.9 L307.6,317.9 L308.4,317.1 L308.5,317.0 L308.8,316.7 L310.5,315.3 L310.6,315.2 L311.4,314.4 L311.5,314.3 L311.8,314.0 L313.4,312.6 L313.5,312.5 L314.3,311.7 L314.4,311.5 L314.7,311.3 L316.2,309.9 L316.3,309.8 L317.0,309.0 L317.2,308.8 L317.2,308.8 L317.5,308.5 L318.8,307.3 L318.9,307.2 L319.6,306.4 L319.8,306.3 L319.8,306.2 L320.1,305.8 L321.3,304.6 L321.4,304.5 L322.1,303.7 L322.2,303.6 L322.3,303.5 L322.6,303.2 L323.8,301.9 L323.9,301.8 L324.6,301.0 L324.7,300.7 L324.7,300.7 L325.0,300.4 L326.2,299.1 L326.2,299.1 L326.9,298.2 L327.1,298.0 L327.3,297.7 L328.4,296.4 L328.5,296.3 L329.2,295.5 L329.3,295.4 L329.5,295.1 L330.6,293.8 L330.7,293.7 L331.4,292.9 L331.4,292.8 L331.6,292.5 L332.7,291.2 L332.8,291.1 L333.5,290.2 L333.5,290.2 L333.7,290.0 L334.8,288.8 L334.8,288.7 L335.5,287.9 L335.6,287.7 L336.7,286.5 L336.8,286.4 L337.4,285.7 L337.6,285.5 L338.6,284.4 L338.7,284.3 L339.1,283.8 L339.4,283.6 L340.4,282.5 L340.5,282.5 L341.0,281.9 L341.2,281.7 L342.2,280.7 L342.3,280.7 L343.0,279.9 L343.2,279.7 L344.1,278.9 L344.2,278.8 L344.9,278.1 L345.0,278.0 L345.9,277.2 L346.0,277.1 L346.7,276.4 L346.9,276.2 L347.7,275.5 L347.8,275.4 L348.5,274.8 L348.7,274.6 L349.5,274.0 L349.5,273.9 L350.2,273.3 L350.4,273.1 L351.2,272.5 L351.3,272.4 L351.9,271.9 L352.1,271.7 L352.9,271.1 L353.0,271.1 L353.6,270.5 L353.8,270.4 L354.6,269.8 L354.6,269.8 L355.2,269.3 L355.5,269.1 L356.2,268.6 L356.3,268.6 L356.9,268.2 L357.1,268.0 L357.9,267.5 L358.0,267.5 L358.6,267.0 L358.8,266.9 L359.5,266.5 L359.6,266.4 L360.2,266.0 L360.5,265.9 L361.1,265.5 L361.2,265.5 L361.8,265.1 L362.0,265.0 L362.6,264.7 L362.7,264.6 L363.3,264.3 L363.6,264.2 L364.1,263.9 L364.2,263.9 L364.8,263.6 L365.1,263.4 L365.6,263.2 L365.7,263.2 L366.3,262.9 L366.6,262.8 L367.1,262.6 L367.2,262.5 L367.9,262.2 L368.2,262.1 L368.8,261.9 L368.9,261.9 L369.6,261.6 L369.9,261.5 L370.5,261.3 L370.6,261.3 L371.4,261.0 L371.7,260.9 L372.5,260.7 L372.5,260.7 L373.4,260.4 L373.7,260.3 L374.6,260.1 L374.6,260.0 L375.3,259.8 L375.6,259.7 L376.8,259.5 L376.9,259.5 L377.5,259.3 L377.8,259.2 L379.3,258.9 L379.4,258.9 L380.2,258.7 L380.5,258.7 L382.2,258.4 L382.3,258.4 L383.3,258.2 L383.3,258.2 L383.5,258.1 L385.3,257.9 L385.4,257.9 L386.2,257.7 L386.2,257.7 L386.7,257.6 L388.5,257.4 L388.6,257.4 L389.4,257.2 L389.4,257.2 L389.9,257.2 L391.6,257.0 L391.7,256.9 L392.5,256.8 L392.6,256.8 L393.0,256.7 L394.5,256.5 L394.6,256.5 L395.4,256.4 L395.5,256.4 L395.9,256.3 L397.1,256.2 L397.2,256.2 L398.0,256.0 L398.2,256.0 L398.6,255.9 L399.4,255.8 L399.5,255.8 L400.3,255.7 L400.5,255.6 L400.5,255.6 L400.9,255.5 L401.2,255.5 L401.3,255.5 L402.1,255.4 L402.2,255.3 L403.0,255.1 L403.1,255.0 L403.8,254.8 L404.0,254.7 L404.7,254.4 L404.9,254.3 L405.5,253.9 L405.6,253.7 L406.2,253.3 L406.4,253.1 L406.9,252.6 L407.0,252.5 L407.5,251.9 L407.6,251.8 L408.1,251.2 L408.2,251.0 L408.5,250.3 L408.6,250.2 L408.9,249.5 L409.0,249.3 L409.2,248.6 L409.3,248.4 L409.4,247.7 L409.5,247.5 L409.5,246.7 L409.6,246.6 L409.6,245.8 L409.6,245.6 L409.5,244.9 L409.5,244.7 L409.4,243.9 L409.3,243.8 L409.1,243.0 L409.0,242.9 L408.8,242.2 L408.7,242.0 L408.4,241.3 L408.3,241.1 L407.9,240.5 L407.7,240.4 L407.3,239.8 L407.1,239.6 L406.6,239.1 L406.5,239.0 L405.9,238.5 L405.8,238.4 L405.2,237.9 L405.0,237.8 L404.3,237.5 L404.2,237.4 L403.5,237.1 L403.3,237.0 L402.6,236.8 L402.4,236.7 L401.7,236.6 L401.5,236.5 L400.7,236.5 L400.6,236.4 L399.8,236.4 L399.6,236.4 L398.8,236.5 L398.7,236.5 L398.5,236.5 L398.0,236.6 L398.0,236.6 L397.2,236.6 L397.1,236.6 L396.4,236.7 L396.0,236.7 L395.8,236.7 L395.0,236.8 L394.9,236.8 L393.7,236.9 L393.4,237.0 L393.2,237.0 L392.3,237.0 L392.2,237.0 L390.8,237.2 L390.4,237.2 L390.1,237.2 L389.3,237.3 L389.2,237.3 L387.5,237.5 L387.2,237.5 L386.9,237.5 L386.0,237.6 L385.9,237.6 L384.1,237.8 L383.7,237.9 L383.7,237.9 L383.5,237.9 L382.6,238.0 L382.5,238.0 L380.7,238.2 L380.2,238.3 L380.2,238.3 L380.0,238.3 L379.2,238.4 L379.1,238.4 L377.4,238.6 L376.9,238.7 L376.8,238.7 L376.6,238.7 L375.7,238.8 L375.6,238.8 L374.1,239.1 L373.7,239.2 L373.5,239.2 L373.3,239.2 L372.4,239.4 L372.3,239.4 L371.1,239.6 L370.7,239.7 L370.5,239.7 L370.3,239.8 L369.4,239.9 L369.3,240.0 L368.5,240.2 L368.0,240.3 L367.9,240.3 L367.8,240.3 L366.9,240.5 L366.8,240.5 L366.0,240.8 L365.6,240.9 L365.5,240.9 L365.3,240.9 L364.4,241.1 L364.3,241.2 L363.7,241.4 L363.2,241.5 L363.1,241.5 L362.9,241.5 L362.0,241.8 L362.0,241.8 L361.4,242.0 L360.9,242.1 L360.8,242.2 L360.6,242.2 L359.7,242.5 L359.6,242.5 L359.1,242.7 L358.6,242.9 L358.5,242.9 L358.3,243.0 L357.4,243.3 L357.3,243.3 L356.8,243.5 L356.4,243.7 L356.2,243.7 L356.0,243.8 L355.1,244.1 L355.1,244.2 L354.5,244.4 L354.1,244.6 L353.9,244.6 L353.7,244.7 L352.9,245.1 L352.8,245.1 L352.3,245.4 L351.8,245.6 L351.7,245.6 L351.5,245.7 L350.7,246.1 L350.6,246.2 L350.0,246.5 L349.6,246.7 L349.4,246.7 L349.3,246.8 L348.4,247.2 L348.3,247.3 L347.7,247.7 L347.3,247.9 L347.1,247.9 L347.0,248.0 L346.1,248.5 L346.0,248.5 L345.3,249.0 L344.9,249.2 L344.8,249.3 L344.6,249.4 L343.8,249.9 L343.7,249.9 L343.0,250.4 L342.6,250.6 L342.5,250.7 L342.3,250.8 L341.5,251.3 L341.4,251.3 L340.7,251.9 L340.3,252.1 L340.2,252.2 L340.0,252.3 L339.2,252.8 L339.2,252.9 L338.4,253.4 L338.0,253.7 L338.0,253.7 L337.8,253.8 L337.0,254.4 L336.9,254.5 L336.2,255.1 L335.8,255.3 L335.7,255.3 L335.6,255.5 L334.8,256.1 L334.7,256.1 L333.9,256.8 L333.6,257.0 L333.6,257.0 L333.4,257.2 L332.6,257.8 L332.5,257.8 L331.7,258.5 L331.4,258.8 L331.4,258.8 L331.2,258.9 L330.4,259.6 L330.3,259.6 L329.5,260.4 L329.2,260.6 L328.9,260.8 L328.2,261.4 L328.1,261.5 L327.2,262.3 L327.0,262.5 L326.7,262.7 L326.0,263.3 L325.9,263.4 L324.9,264.3 L324.6,264.6 L324.5,264.6 L324.4,264.8 L323.6,265.5 L323.5,265.5 L322.5,266.5 L322.2,266.8 L322.1,266.9 L321.9,267.0 L321.2,267.8 L321.1,267.8 L320.1,268.9 L319.7,269.3 L319.7,269.3 L319.6,269.4 L318.8,270.1 L318.7,270.2 L317.7,271.4 L317.5,271.6 L317.2,271.8 L316.5,272.6 L316.4,272.6 L315.4,273.9 L315.1,274.1 L315.0,274.3 L314.2,275.0 L314.2,275.1 L313.1,276.4 L312.8,276.7 L312.7,276.7 L312.0,277.5 L311.9,277.5 L310.8,278.9 L310.6,279.1 L310.6,279.1 L309.8,279.9 L309.7,280.0 L308.6,281.3 L308.4,281.5 L307.6,282.3 L307.5,282.3 L306.3,283.7 L306.1,283.9 L305.5,284.5 L305.4,284.6 L304.1,285.9 L303.9,286.1 L303.3,286.7 L303.3,286.7 L302.0,288.0 L301.8,288.2 L301.2,288.7 L301.1,288.8 L299.8,290.1 L299.6,290.3 L298.8,290.9 L298.8,290.9 L297.2,292.4 L297.0,292.5 L296.2,293.2 L296.1,293.3 L294.5,294.7 L294.3,294.9 L293.4,295.6 L293.3,295.7 L291.6,297.2 L291.5,297.3 L290.5,298.1 L290.4,298.1 L288.8,299.5 L288.6,299.7 L287.6,300.5 L287.5,300.5 L286.0,301.8 L285.8,302.0 L285.8,302.0 L284.8,302.7 L284.7,302.8 L283.4,303.9 L283.2,304.1 L283.2,304.1 L282.2,304.9 L282.1,304.9 L281.0,305.8 L280.7,306.1 L280.7,306.1 L279.8,306.8 L279.7,306.9 L279.0,307.4 L278.7,307.7 L278.6,307.7 L277.7,308.5 L277.6,308.5 L276.2,309.8 L276.1,309.8 L275.5,310.4 L275.2,310.6 L274.9,310.9 L274.6,311.1 L274.2,311.3 L274.1,311.3 L272.2,312.4 L272.0,312.5 L271.5,312.7 L271.4,312.8 L269.5,313.8 L269.4,313.9 L268.8,314.2 L268.7,314.3 L267.0,315.3 L266.8,315.4 L266.2,315.6 L266.1,315.7 L264.5,316.6 L264.4,316.7 L263.8,317.0 L263.7,317.0 L262.2,317.9 L262.0,318.0 L261.5,318.2 L261.4,318.3 L259.9,319.1 L259.7,319.2 L259.1,319.5 L259.0,319.6 L257.5,320.4 L257.4,320.5 L256.8,320.8 L256.7,320.8 L255.2,321.7 L255.0,321.8 L254.5,322.1 L254.4,322.1 L252.9,323.0 L252.7,323.1 L252.1,323.4 L252.1,323.4 L250.5,324.3 L250.4,324.4 L249.8,324.6 L249.7,324.7 L248.2,325.5 L248.1,325.6 L247.5,325.9 L247.4,325.9 L245.9,326.8 L245.8,326.9 L245.2,327.1 L245.2,327.2 L243.7,328.0 L243.5,328.1 L243.0,328.4 L242.9,328.4 L241.4,329.2 L241.2,329.3 L240.8,329.5 L240.7,329.6 L239.2,330.4 L239.0,330.5 L238.6,330.7 L238.5,330.7 L237.1,331.5 L236.9,331.6 L236.4,331.8 L236.3,331.9 L234.9,332.6 L234.7,332.7 L234.2,333.0 L234.1,333.0 L232.6,333.8 L232.5,333.9 L231.9,334.1 L231.8,334.2 L230.4,334.9 L230.2,335.0 L229.6,335.3 L229.5,335.3 L228.1,336.1 L228.0,336.2 L227.3,336.5 L227.2,336.5 L225.8,337.3 L225.7,337.3 L224.9,337.7 L224.9,337.7 L223.5,338.5 L223.4,338.5 L222.6,339.0 L222.5,339.0 L221.3,339.7 L221.2,339.8 L220.3,340.3 L220.2,340.3 L218.9,341.1 L218.8,341.1 L218.1,341.5 L218.0,341.6 L216.8,342.3 L216.6,342.4 L216.1,342.7 L216.0,342.7 L214.8,343.5 L214.6,343.6 L214.0,343.9 L213.9,343.9 L212.7,344.6 L212.6,344.7 L211.9,345.1 L211.8,345.2 L210.7,345.9 L210.6,345.9 L209.8,346.4 L209.7,346.4 L208.7,347.1 L208.6,347.2 L207.6,347.7 L207.5,347.8 L206.6,348.4 L206.5,348.5 L205.4,349.1 L205.3,349.2 L205.0,349.4 L204.6,349.6 L204.3,349.7 L203.9,349.8 L203.5,349.9 L203.1,349.9 L202.7,349.9 L202.3,349.8 L201.9,349.7 L201.6,349.6 L201.2,349.4 L200.9,349.2 L200.6,349.0 L200.3,348.7 L200.0,348.4 L199.8,348.1 L199.6,347.8 L199.4,347.4 L199.3,347.1 L199.2,346.7 L199.1,346.3 L199.1,345.9 L199.1,80.1 L199.1,80.0 L199.0,80.0 L155.9,80.0 L155.8,80.0 L155.8,80.1 L155.8,611.9 L155.8,612.0Z" fill="#de7971"/>
<path d="M159.0,608.8 L195.9,608.8 L195.9,398.6 L195.9,398.4 L195.9,398.1 L195.9,397.8 L196.0,397.4 L196.0,397.2 L196.1,396.8 L196.2,396.5 L196.3,396.2 L196.4,395.9 L196.5,395.6 L196.6,395.5 L196.6,395.4 L196.7,395.3 L196.8,395.0 L196.9,394.9 L198.0,393.0 L198.0,393.0 L198.0,392.9 L198.1,392.8 L198.2,392.5 L198.3,392.4 L199.3,390.8 L199.3,390.8 L199.3,390.8 L199.4,390.6 L199.6,390.3 L199.6,390.2 L200.5,388.9 L200.5,388.9 L200.7,388.7 L200.7,388.6 L200.9,388.3 L201.0,388.2 L201.9,386.9 L201.9,386.9 L202.0,386.7 L202.1,386.6 L202.2,386.4 L202.3,386.3 L203.2,385.1 L203.2,385.0 L203.3,384.9 L203.4,384.8 L203.6,384.5 L203.7,384.4 L204.6,383.3 L204.6,383.2 L204.7,383.1 L204.8,383.0 L205.0,382.8 L205.0,382.7 L205.9,381.5 L206.0,381.5 L206.1,381.4 L206.1,381.3 L206.3,381.0 L206.4,381.0 L207.3,379.9 L207.3,379.9 L207.5,379.7 L207.5,379.6 L207.7,379.4 L207.8,379.3 L208.7,378.3 L208.8,378.3 L208.9,378.1 L209.0,378.0 L209.2,377.8 L209.2,377.7 L210.2,376.8 L210.2,376.7 L210.3,376.6 L210.4,376.5 L210.6,376.3 L210.7,376.2 L211.7,375.3 L211.7,375.2 L211.8,375.1 L211.9,375.0 L212.1,374.8 L212.2,374.7 L213.2,373.8 L213.2,373.8 L213.3,373.7 L213.4,373.6 L213.6,373.4 L213.7,373.3 L214.7,372.4 L214.7,372.4 L214.7,372.4 L214.8,372.3 L215.1,372.1 L215.2,372.0 L216.1,371.2 L216.1,371.2 L216.2,371.2 L216.3,371.1 L216.5,370.9 L216.7,370.8 L217.6,370.1 L217.6,370.0 L217.7,370.0 L217.8,369.9 L218.1,369.7 L218.2,369.6 L219.2,368.9 L219.2,368.9 L219.4,368.8 L219.5,368.7 L219.7,368.5 L219.8,368.4 L220.8,367.8 L220.8,367.8 L221.1,367.6 L221.2,367.5 L221.4,367.4 L221.5,367.3 L222.5,366.6 L222.6,366.6 L222.8,366.4 L222.9,366.3 L223.1,366.2 L223.2,366.2 L224.3,365.5 L224.4,365.5 L224.7,365.2 L224.8,365.2 L225.0,365.0 L225.1,365.0 L226.2,364.3 L226.2,364.3 L226.7,364.0 L226.7,363.9 L226.9,363.8 L227.0,363.8 L228.2,363.1 L228.2,363.0 L228.7,362.7 L228.8,362.7 L228.9,362.6 L229.0,362.5 L230.2,361.8 L230.2,361.8 L230.6,361.5 L230.7,361.5 L230.9,361.3 L231.0,361.3 L232.2,360.5 L232.2,360.5 L232.5,360.4 L232.6,360.3 L232.8,360.2 L232.9,360.1 L234.2,359.4 L234.2,359.4 L234.5,359.2 L234.6,359.1 L234.8,359.0 L234.9,359.0 L236.2,358.2 L236.2,358.2 L236.5,358.0 L236.6,358.0 L236.8,357.8 L236.9,357.8 L238.2,357.1 L238.3,357.1 L238.7,356.8 L238.7,356.8 L238.9,356.7 L239.0,356.6 L240.4,355.9 L240.4,355.9 L240.8,355.6 L240.9,355.6 L241.1,355.5 L241.2,355.4 L242.6,354.7 L242.6,354.7 L243.1,354.4 L243.1,354.4 L243.3,354.3 L243.4,354.2 L244.8,353.5 L244.8,353.5 L245.3,353.2 L245.4,353.1 L245.6,353.0 L245.6,353.0 L247.0,352.3 L247.1,352.2 L247.7,351.9 L247.7,351.9 L247.9,351.8 L247.9,351.7 L249.3,351.0 L249.4,351.0 L250.0,350.6 L250.1,350.5 L250.2,350.5 L250.3,350.4 L251.7,349.7 L251.7,349.7 L252.3,349.3 L252.3,349.3 L252.5,349.2 L252.5,349.1 L254.0,348.3 L254.0,348.3 L254.5,348.0 L254.6,348.0 L254.7,347.9 L254.8,347.8 L256.2,347.0 L256.3,347.0 L256.8,346.7 L256.8,346.6 L257.0,346.6 L257.1,346.5 L258.5,345.7 L258.5,345.7 L259.1,345.4 L259.1,345.3 L259.3,345.2 L259.3,345.2 L260.8,344.3 L260.8,344.3 L261.3,344.0 L261.4,344.0 L261.6,343.9 L261.6,343.8 L263.1,343.0 L263.1,343.0 L263.6,342.7 L263.7,342.6 L263.9,342.5 L263.9,342.5 L265.4,341.7 L265.4,341.6 L265.9,341.3 L266.0,341.3 L266.2,341.2 L266.2,341.1 L267.2,340.6 L267.3,340.5 L267.7,340.3 L268.0,340.2 L268.4,340.1 L268.7,340.0 L269.1,339.9 L269.4,339.8 L269.9,339.7 L270.0,339.7 L270.6,339.6 L270.8,339.6 L270.9,339.6 L271.3,339.6 L271.5,339.5 L272.3,339.5 L272.4,339.5 L273.0,339.4 L273.1,339.4 L273.3,339.4 L273.7,339.3 L273.8,339.3 L275.1,339.2 L275.1,339.2 L275.7,339.1 L275.8,339.1 L275.9,339.1 L276.3,339.1 L276.5,339.0 L278.1,338.9 L278.1,338.9 L278.7,338.9 L278.7,338.9 L278.9,338.8 L279.3,338.8 L279.4,338.8 L281.3,338.7 L281.3,338.6 L281.9,338.6 L282.0,338.6 L282.5,338.5 L282.6,338.5 L284.6,338.4 L284.7,338.4 L285.3,338.3 L285.3,338.3 L285.3,338.3 L285.8,338.3 L286.0,338.3 L288.0,338.2 L288.1,338.2 L288.8,338.1 L288.9,338.1 L289.2,338.1 L289.4,338.1 L291.4,338.1 L291.4,338.1 L292.1,338.0 L292.3,338.0 L292.6,338.0 L292.7,338.0 L294.7,338.0 L294.7,338.0 L295.2,338.0 L295.3,338.0 L295.7,338.0 L295.8,338.0 L297.7,338.1 L297.7,338.1 L298.2,338.1 L298.4,338.1 L298.7,338.1 L298.8,338.1 L300.6,338.3 L300.6,338.3 L301.3,338.3 L301.4,338.3 L301.7,338.3 L301.9,338.4 L303.6,338.5 L303.6,338.5 L304.3,338.6 L304.4,338.6 L304.7,338.6 L304.9,338.6 L306.6,338.9 L306.6,338.9 L307.3,338.9 L307.4,338.9 L307.7,339.0 L307.9,339.0 L309.6,339.2 L309.7,339.3 L310.3,339.3 L310.4,339.3 L310.7,339.4 L310.9,339.4 L312.7,339.7 L312.7,339.7 L313.3,339.8 L313.3,339.8 L313.4,339.8 L313.8,339.8 L314.0,339.9 L315.8,340.2 L315.8,340.2 L316.4,340.3 L316.5,340.3 L316.9,340.4 L317.1,340.4 L318.9,340.8 L318.9,340.8 L319.5,340.8 L319.6,340.9 L320.0,340.9 L320.2,341.0 L322.1,341.4 L322.1,341.4 L322.6,341.5 L322.6,341.5 L322.7,341.5 L323.2,341.6 L323.4,341.6 L325.2,342.0 L325.2,342.0 L325.7,342.1 L325.7,342.1 L325.9,342.2 L326.3,342.2 L326.5,342.3 L328.4,342.7 L328.4,342.7 L329.0,342.9 L329.1,342.9 L329.5,342.9 L329.6,343.0 L331.5,343.5 L331.5,343.5 L332.2,343.6 L332.3,343.7 L332.6,343.7 L332.7,343.8 L334.7,344.4 L334.7,344.4 L335.3,344.5 L335.4,344.5 L335.7,344.6 L335.9,344.7 L337.9,345.3 L337.9,345.3 L338.4,345.5 L338.5,345.5 L339.0,345.6 L339.1,345.7 L341.1,346.4 L341.2,346.4 L341.6,346.5 L341.7,346.5 L341.8,346.6 L342.2,346.7 L342.4,346.7 L344.4,347.4 L344.5,347.4 L344.9,347.6 L345.0,347.6 L345.2,347.6 L345.6,347.8 L345.7,347.8 L347.7,348.5 L347.8,348.5 L348.2,348.7 L348.4,348.7 L348.5,348.7 L348.9,348.8 L349.1,348.9 L351.1,349.6 L351.1,349.6 L351.5,349.7 L351.7,349.8 L351.8,349.8 L352.2,349.9 L352.4,350.0 L354.4,350.6 L354.4,350.6 L354.8,350.7 L354.9,350.8 L355.0,350.8 L355.5,350.9 L355.7,351.0 L357.6,351.6 L357.7,351.6 L358.1,351.7 L358.1,351.7 L358.1,351.7 L358.3,351.8 L358.8,351.9 L359.0,351.9 L360.9,352.5 L360.9,352.5 L361.3,352.6 L361.4,352.6 L361.4,352.6 L361.6,352.6 L362.1,352.7 L362.3,352.7 L364.2,353.2 L364.2,353.3 L364.6,353.3 L364.7,353.4 L364.7,353.4 L364.8,353.4 L365.3,353.5 L365.5,353.5 L367.5,354.0 L367.6,354.0 L367.9,354.1 L368.1,354.1 L368.1,354.1 L368.1,354.1 L368.7,354.2 L368.9,354.2 L370.9,354.7 L370.9,354.7 L371.3,354.8 L371.5,354.8 L371.6,354.8 L372.0,354.9 L372.2,354.9 L374.2,355.4 L374.3,355.4 L374.6,355.4 L374.8,355.4 L374.9,355.5 L375.4,355.5 L375.6,355.6 L377.5,356.0 L377.5,356.0 L377.9,356.0 L378.1,356.1 L378.2,356.1 L378.6,356.1 L378.8,356.2 L380.7,356.5 L380.7,356.5 L381.1,356.6 L381.3,356.6 L381.4,356.6 L381.8,356.7 L382.0,356.7 L383.7,357.1 L383.7,357.1 L384.1,357.1 L384.3,357.1 L384.4,357.2 L384.8,357.2 L385.0,357.2 L386.5,357.5 L386.5,357.5 L386.9,357.6 L387.1,357.6 L387.2,357.6 L387.6,357.7 L387.8,357.7 L389.1,358.0 L389.1,358.0 L389.5,358.0 L389.7,358.0 L389.8,358.0 L390.2,358.1 L390.4,358.1 L391.4,358.3 L391.4,358.3 L391.7,358.4 L391.9,358.4 L392.0,358.4 L392.5,358.4 L392.7,358.5 L393.4,358.6 L393.4,358.6 L393.7,358.6 L393.8,358.6 L393.8,358.6 L394.0,358.7 L394.5,358.7 L394.7,358.7 L395.2,358.8 L395.2,358.8 L395.6,358.9 L395.6,358.9 L395.6,358.9 L395.8,358.9 L396.3,358.9 L396.5,358.9 L396.8,359.0 L396.9,359.0 L397.2,359.0 L397.2,359.0 L397.2,359.0 L397.4,359.0 L397.9,359.0 L398.1,359.1 L398.3,359.1 L398.3,359.1 L398.6,359.1 L398.6,359.1 L398.6,359.1 L398.8,359.1 L399.4,359.1 L399.5,359.1 L399.6,359.1 L399.8,359.2 L399.9,359.2 L399.9,359.2 L400.1,359.1 L400.5,359.2 L400.6,359.2 L400.9,359.2 L401.0,359.2 L401.0,359.2 L401.1,359.2 L401.5,359.2 L401.6,359.2 L401.9,359.2 L401.9,359.2 L401.9,359.2 L402.1,359.2 L402.5,359.1 L402.6,359.1 L402.7,359.1 L402.8,359.1 L402.9,359.1 L403.3,359.1 L403.3,359.1 L403.6,359.1 L403.7,359.1 L403.8,359.1 L404.0,359.1 L404.2,359.1 L404.2,359.1 L404.4,359.1 L404.4,359.1 L404.6,359.0 L404.6,359.0 L404.8,359.0 L404.8,359.0 L405.0,358.9 L405.0,358.9 L405.1,358.8 L405.2,358.8 L405.3,358.7 L405.3,358.6 L405.5,358.5 L405.5,358.5 L405.6,358.4 L405.6,358.3 L405.7,358.2 L405.8,358.2 L405.9,358.0 L405.9,358.0 L405.9,357.8 L406.0,357.8 L406.0,357.6 L406.0,357.6 L406.1,357.4 L406.1,357.4 L406.1,357.2 L406.1,357.2 L406.1,357.0 L406.1,357.0 L406.1,356.8 L406.1,356.8 L406.1,356.6 L406.1,356.6 L406.0,356.4 L406.0,356.4 L406.0,356.2 L406.0,356.2 L405.9,356.0 L405.9,356.0 L405.8,355.9 L405.8,355.8 L405.7,355.7 L405.6,355.7 L405.5,355.5 L405.5,355.5 L405.4,355.4 L405.3,355.4 L405.2,355.3 L405.2,355.2 L405.0,355.1 L405.0,355.1 L404.8,355.1 L404.8,355.0 L404.6,355.0 L404.6,355.0 L404.4,354.9 L404.3,354.9 L404.3,354.9 L404.2,354.9 L404.1,354.9 L403.8,354.8 L403.7,354.8 L403.7,354.8 L403.3,354.7 L403.2,354.7 L403.1,354.6 L403.0,354.6 L403.0,354.6 L402.8,354.6 L402.4,354.5 L402.3,354.5 L402.2,354.5 L402.0,354.5 L401.9,354.5 L401.7,354.4 L401.6,354.4 L401.3,354.4 L401.0,354.3 L401.0,354.3 L401.0,354.3 L400.6,354.3 L400.5,354.2 L400.4,354.2 L400.1,354.2 L400.0,354.1 L399.8,354.1 L399.4,354.1 L399.3,354.0 L399.2,354.0 L398.9,354.0 L398.9,354.0 L398.8,354.0 L398.6,353.9 L398.1,353.8 L397.9,353.8 L397.9,353.8 L397.6,353.7 L397.6,353.7 L397.3,353.7 L397.1,353.7 L396.6,353.6 L396.5,353.5 L396.4,353.5 L396.1,353.4 L396.1,353.4 L395.6,353.4 L395.4,353.3 L394.9,353.2 L394.8,353.2 L394.7,353.2 L394.4,353.1 L394.4,353.1 L393.7,353.0 L393.5,352.9 L393.1,352.8 L392.9,352.8 L392.8,352.7 L392.5,352.7 L392.5,352.7 L391.5,352.5 L391.3,352.4 L390.9,352.3 L390.8,352.3 L390.6,352.2 L390.2,352.2 L390.2,352.2 L388.9,351.9 L388.8,351.9 L388.4,351.8 L388.2,351.7 L388.0,351.7 L387.7,351.6 L387.7,351.6 L386.2,351.3 L386.0,351.3 L385.6,351.2 L385.5,351.1 L385.3,351.1 L384.9,351.0 L384.9,351.0 L383.2,350.6 L383.0,350.6 L382.6,350.5 L382.5,350.5 L382.3,350.4 L382.0,350.3 L382.0,350.3 L380.1,349.9 L379.9,349.9 L379.5,349.8 L379.4,349.8 L379.2,349.7 L378.9,349.6 L378.9,349.6 L376.9,349.2 L376.7,349.2 L376.3,349.0 L376.2,349.0 L376.1,349.0 L375.7,348.9 L375.7,348.9 L373.7,348.4 L373.5,348.4 L373.1,348.3 L372.9,348.2 L372.8,348.2 L372.5,348.1 L372.4,348.1 L370.4,347.6 L370.2,347.6 L369.8,347.4 L369.6,347.4 L369.6,347.4 L369.2,347.2 L369.2,347.2 L367.2,346.8 L367.0,346.7 L366.6,346.6 L366.4,346.5 L366.4,346.5 L366.0,346.4 L366.0,346.4 L364.1,345.9 L363.9,345.8 L363.4,345.7 L363.4,345.7 L362.9,345.5 L362.9,345.5 L361.0,345.0 L360.9,344.9 L360.5,344.8 L360.5,344.8 L360.4,344.7 L359.9,344.5 L359.9,344.5 L357.9,343.9 L357.8,343.9 L357.3,343.7 L357.2,343.6 L356.8,343.5 L356.8,343.5 L354.8,342.8 L354.6,342.7 L354.2,342.6 L354.1,342.5 L354.0,342.5 L353.6,342.3 L353.6,342.3 L351.6,341.6 L351.4,341.6 L351.0,341.4 L350.9,341.3 L350.8,341.3 L350.4,341.1 L350.4,341.1 L348.3,340.4 L348.2,340.4 L347.8,340.2 L347.7,340.1 L347.5,340.1 L347.1,339.9 L347.1,339.9 L345.1,339.2 L344.9,339.1 L344.6,339.0 L344.4,338.9 L344.2,338.8 L343.8,338.7 L343.8,338.6 L341.8,338.0 L341.6,337.9 L341.1,337.7 L341.0,337.7 L340.9,337.6 L340.5,337.4 L340.5,337.4 L338.4,336.8 L338.2,336.7 L337.8,336.5 L337.6,336.4 L337.6,336.4 L337.1,336.3 L337.1,336.3 L335.1,335.7 L334.9,335.6 L334.5,335.5 L334.3,335.4 L334.3,335.4 L334.2,335.3 L333.8,335.2 L333.8,335.2 L331.8,334.7 L331.6,334.6 L331.2,334.5 L331.0,334.4 L331.0,334.4 L330.9,334.4 L330.5,334.2 L330.5,334.2 L328.6,333.8 L328.4,333.7 L328.0,333.6 L327.9,333.6 L327.7,333.5 L327.2,333.4 L327.2,333.4 L325.4,332.9 L325.2,332.9 L324.8,332.8 L324.7,332.7 L324.5,332.7 L324.0,332.5 L324.0,332.5 L322.1,332.1 L321.9,332.1 L321.5,332.0 L321.5,331.9 L321.3,331.9 L320.8,331.8 L320.8,331.8 L318.9,331.4 L318.7,331.3 L318.2,331.2 L318.2,331.2 L318.0,331.1 L317.6,331.0 L317.5,331.0 L315.7,330.7 L315.5,330.6 L315.0,330.5 L314.9,330.5 L314.8,330.4 L314.3,330.3 L314.3,330.3 L312.5,330.0 L312.3,330.0 L311.8,329.9 L311.7,329.8 L311.6,329.8 L311.1,329.7 L311.1,329.7 L309.3,329.4 L309.1,329.4 L308.6,329.3 L308.5,329.3 L308.4,329.2 L307.9,329.1 L307.8,329.1 L307.7,329.1 L307.3,329.0 L307.0,329.0 L306.6,328.8 L306.3,328.7 L305.9,328.6 L305.7,328.4 L305.3,328.2 L305.0,328.1 L304.7,327.9 L304.5,327.7 L304.2,327.4 L303.9,327.2 L303.7,326.9 L303.4,326.7 L303.2,326.4 L303.0,326.1 L302.8,325.8 L302.6,325.5 L302.5,325.2 L302.3,324.9 L302.2,324.5 L302.1,324.2 L302.0,323.8 L301.9,323.5 L301.8,323.1 L301.8,322.8 L301.8,322.4 L301.7,322.1 L301.7,321.7 L301.8,321.4 L301.8,321.0 L301.9,320.7 L302.0,320.3 L302.0,320.0 L302.2,319.6 L302.3,319.3 L302.4,319.0 L302.6,318.7 L302.8,318.3 L302.9,318.1 L303.2,317.7 L303.4,317.5 L303.6,317.2 L303.8,317.0 L304.1,316.7 L304.2,316.6 L305.4,315.5 L305.4,315.5 L306.2,314.8 L306.2,314.8 L306.3,314.7 L306.6,314.4 L306.7,314.3 L308.3,312.9 L308.4,312.9 L309.1,312.2 L309.2,312.1 L309.3,312.0 L309.5,311.7 L309.6,311.6 L311.2,310.2 L311.2,310.2 L312.0,309.5 L312.1,309.3 L312.2,309.2 L312.4,309.0 L312.5,308.9 L314.0,307.5 L314.0,307.5 L314.7,306.8 L314.8,306.7 L314.9,306.6 L315.2,306.3 L315.3,306.2 L316.6,305.0 L316.6,305.0 L317.2,304.3 L317.3,304.2 L317.4,304.1 L317.7,303.7 L317.8,303.6 L319.0,302.4 L319.0,302.4 L319.7,301.6 L319.7,301.6 L319.8,301.5 L320.1,301.1 L320.3,301.0 L321.4,299.7 L321.4,299.7 L322.1,299.0 L322.2,298.8 L322.3,298.7 L322.5,298.4 L322.6,298.3 L323.8,297.0 L323.8,297.0 L324.4,296.3 L324.5,296.1 L324.6,296.0 L324.8,295.7 L324.9,295.6 L326.0,294.3 L326.0,294.3 L326.6,293.6 L326.7,293.5 L326.8,293.4 L327.0,293.1 L327.1,293.0 L328.2,291.7 L328.2,291.7 L328.8,290.9 L328.9,290.8 L329.1,290.5 L329.2,290.4 L330.3,289.2 L330.3,289.1 L331.0,288.3 L331.0,288.2 L331.2,288.0 L331.3,287.9 L332.4,286.7 L332.4,286.7 L333.0,285.9 L333.0,285.8 L333.2,285.7 L333.3,285.6 L334.3,284.4 L334.4,284.4 L334.9,283.7 L335.0,283.6 L335.2,283.4 L335.2,283.3 L336.3,282.2 L336.3,282.2 L336.7,281.7 L336.8,281.6 L337.0,281.4 L337.1,281.3 L338.1,280.3 L338.1,280.3 L338.7,279.7 L338.7,279.6 L339.0,279.4 L339.0,279.3 L340.0,278.4 L340.0,278.4 L340.7,277.6 L340.8,277.6 L341.0,277.4 L341.1,277.3 L341.9,276.6 L341.9,276.6 L342.6,275.9 L342.6,275.8 L342.8,275.6 L342.9,275.6 L343.8,274.8 L343.8,274.8 L344.4,274.1 L344.5,274.1 L344.7,273.9 L344.8,273.8 L345.6,273.1 L345.6,273.1 L346.3,272.5 L346.4,272.4 L346.6,272.2 L346.6,272.1 L347.4,271.5 L347.4,271.5 L348.0,270.9 L348.1,270.8 L348.3,270.7 L348.4,270.6 L349.2,270.0 L349.2,270.0 L349.8,269.5 L349.9,269.4 L350.1,269.2 L350.2,269.1 L350.9,268.6 L350.9,268.6 L351.5,268.1 L351.6,268.0 L351.9,267.8 L352.0,267.8 L352.7,267.2 L352.7,267.2 L353.3,266.8 L353.4,266.7 L353.6,266.5 L353.7,266.5 L354.4,266.0 L354.4,266.0 L355.0,265.6 L355.1,265.5 L355.3,265.3 L355.4,265.3 L356.1,264.8 L356.2,264.8 L356.7,264.4 L356.8,264.3 L357.1,264.2 L357.2,264.1 L357.9,263.7 L357.9,263.7 L358.5,263.3 L358.6,263.3 L358.8,263.1 L359.0,263.0 L359.5,262.7 L359.5,262.7 L360.1,262.4 L360.2,262.3 L360.5,262.2 L360.6,262.1 L361.1,261.8 L361.1,261.8 L361.7,261.5 L361.8,261.5 L362.1,261.3 L362.2,261.3 L362.7,261.0 L362.7,261.0 L363.3,260.7 L363.4,260.7 L363.7,260.5 L363.8,260.5 L364.3,260.3 L364.3,260.3 L364.9,260.0 L365.0,260.0 L365.3,259.8 L365.5,259.8 L366.0,259.6 L366.0,259.6 L366.6,259.3 L366.7,259.3 L367.0,259.1 L367.2,259.1 L367.7,258.9 L367.7,258.9 L368.4,258.6 L368.5,258.6 L368.8,258.5 L368.9,258.4 L369.6,258.3 L369.6,258.3 L370.3,258.0 L370.4,257.9 L370.7,257.9 L370.8,257.8 L371.6,257.6 L371.6,257.6 L372.4,257.3 L372.5,257.3 L372.8,257.2 L372.9,257.2 L373.7,257.0 L373.7,257.0 L374.3,256.8 L374.5,256.7 L374.8,256.7 L374.9,256.6 L376.1,256.4 L376.1,256.4 L376.6,256.2 L376.8,256.2 L377.1,256.1 L377.2,256.1 L378.7,255.8 L378.7,255.8 L379.5,255.6 L379.6,255.6 L379.9,255.5 L380.0,255.5 L381.7,255.2 L381.7,255.2 L382.6,255.1 L382.7,255.0 L383.0,255.0 L383.1,255.0 L384.8,254.7 L384.9,254.7 L385.6,254.6 L385.6,254.6 L385.7,254.6 L386.1,254.5 L386.3,254.5 L388.0,254.2 L388.0,254.2 L388.8,254.1 L388.9,254.1 L389.3,254.0 L389.5,254.0 L391.1,253.8 L391.2,253.8 L391.9,253.7 L391.9,253.7 L392.0,253.6 L392.5,253.6 L392.6,253.5 L394.1,253.4 L394.1,253.4 L394.8,253.3 L394.9,253.2 L395.0,253.2 L395.4,253.1 L395.6,253.1 L396.7,253.0 L396.7,253.0 L397.4,252.9 L397.6,252.8 L397.7,252.8 L398.1,252.8 L398.2,252.7 L399.0,252.6 L399.0,252.6 L399.7,252.5 L399.9,252.5 L399.9,252.5 L400.3,252.4 L400.5,252.4 L400.7,252.3 L400.7,252.3 L401.4,252.2 L401.5,252.2 L402.0,252.0 L402.1,252.0 L402.6,251.8 L402.6,251.8 L403.2,251.5 L403.2,251.5 L403.7,251.2 L403.7,251.2 L404.2,250.8 L404.2,250.8 L404.6,250.4 L404.7,250.4 L405.0,249.9 L405.1,249.9 L405.4,249.4 L405.4,249.4 L405.7,248.9 L405.7,248.8 L406.0,248.3 L406.0,248.2 L406.1,247.7 L406.2,247.6 L406.3,247.1 L406.3,247.0 L406.4,246.5 L406.4,246.4 L406.4,245.8 L406.4,245.8 L406.3,245.2 L406.3,245.2 L406.2,244.6 L406.2,244.5 L406.0,244.0 L406.0,243.9 L405.8,243.4 L405.8,243.4 L405.5,242.8 L405.5,242.8 L405.2,242.3 L405.2,242.3 L404.8,241.8 L404.8,241.8 L404.4,241.4 L404.4,241.3 L403.9,241.0 L403.9,240.9 L403.4,240.6 L403.4,240.6 L402.9,240.3 L402.8,240.3 L402.3,240.0 L402.2,240.0 L401.7,239.9 L401.6,239.8 L401.1,239.7 L401.0,239.7 L400.5,239.6 L400.4,239.6 L399.8,239.6 L399.8,239.6 L399.1,239.7 L399.1,239.7 L398.9,239.7 L398.7,239.7 L398.3,239.8 L398.3,239.8 L397.5,239.8 L397.5,239.8 L396.7,239.9 L396.6,239.9 L396.2,239.9 L396.0,239.9 L396.0,239.9 L395.3,240.0 L395.2,240.0 L394.1,240.1 L394.0,240.1 L393.6,240.2 L393.4,240.2 L393.3,240.2 L392.6,240.2 L392.6,240.2 L391.1,240.4 L391.0,240.4 L390.6,240.4 L390.5,240.4 L390.3,240.4 L389.6,240.5 L389.5,240.5 L387.9,240.7 L387.8,240.7 L387.4,240.7 L387.3,240.7 L387.0,240.7 L386.3,240.8 L386.3,240.8 L384.5,241.0 L384.3,241.0 L384.0,241.0 L383.9,241.1 L383.7,241.1 L382.9,241.1 L382.9,241.1 L381.2,241.4 L381.0,241.4 L380.4,241.4 L380.4,241.5 L380.3,241.5 L379.5,241.5 L379.5,241.5 L377.9,241.8 L377.7,241.8 L377.2,241.9 L377.0,241.9 L377.0,241.9 L376.9,241.9 L376.2,242.0 L376.2,242.0 L374.7,242.3 L374.5,242.3 L374.1,242.3 L373.9,242.4 L373.8,242.4 L373.7,242.4 L373.0,242.5 L373.0,242.5 L371.8,242.8 L371.7,242.8 L371.2,242.9 L371.0,242.9 L370.9,242.9 L370.9,242.9 L370.1,243.1 L370.1,243.1 L369.3,243.3 L369.1,243.3 L368.6,243.4 L368.5,243.4 L368.4,243.5 L367.6,243.6 L367.6,243.6 L366.9,243.8 L366.7,243.9 L366.2,244.0 L366.1,244.0 L366.0,244.0 L365.3,244.2 L365.2,244.2 L364.6,244.4 L364.4,244.5 L364.0,244.6 L363.8,244.6 L363.7,244.6 L363.7,244.6 L363.0,244.8 L362.9,244.9 L362.4,245.0 L362.2,245.1 L361.8,245.2 L361.6,245.3 L361.5,245.3 L361.5,245.3 L360.7,245.5 L360.7,245.5 L360.2,245.7 L360.0,245.8 L359.6,245.9 L359.4,246.0 L359.3,246.0 L359.3,246.0 L358.5,246.3 L358.5,246.3 L358.0,246.5 L357.9,246.5 L357.4,246.7 L357.3,246.8 L357.1,246.8 L357.1,246.8 L356.4,247.1 L356.4,247.1 L355.9,247.3 L355.7,247.4 L355.3,247.6 L355.1,247.6 L355.0,247.7 L355.0,247.7 L354.2,248.0 L354.2,248.0 L353.7,248.3 L353.5,248.3 L353.1,248.5 L352.9,248.6 L352.9,248.6 L352.8,248.6 L352.1,249.0 L352.1,249.0 L351.5,249.3 L351.3,249.4 L350.9,249.6 L350.8,249.6 L350.7,249.7 L350.7,249.7 L349.9,250.1 L349.9,250.1 L349.3,250.4 L349.1,250.5 L348.7,250.7 L348.5,250.8 L348.5,250.8 L348.5,250.9 L347.7,251.3 L347.7,251.3 L347.0,251.7 L346.9,251.8 L346.5,252.0 L346.3,252.1 L346.2,252.1 L346.2,252.1 L345.5,252.6 L345.5,252.6 L344.8,253.0 L344.6,253.1 L344.2,253.4 L344.0,253.5 L344.0,253.5 L344.0,253.5 L343.3,254.0 L343.2,254.0 L342.5,254.5 L342.4,254.6 L342.0,254.8 L341.8,254.9 L341.8,254.9 L341.8,255.0 L341.1,255.4 L341.1,255.4 L340.3,256.0 L340.2,256.1 L339.8,256.4 L339.7,256.4 L339.6,256.5 L338.9,257.0 L338.9,257.0 L338.2,257.6 L338.0,257.7 L337.6,258.0 L337.5,258.0 L337.4,258.1 L336.7,258.6 L336.7,258.6 L336.0,259.2 L335.8,259.3 L335.5,259.6 L335.4,259.6 L335.3,259.7 L334.6,260.3 L334.6,260.3 L333.8,261.0 L333.6,261.1 L333.4,261.3 L333.3,261.3 L333.1,261.5 L332.4,262.0 L332.4,262.0 L331.6,262.8 L331.5,262.8 L331.2,263.1 L331.1,263.2 L330.9,263.3 L330.2,263.9 L330.2,263.9 L329.4,264.6 L329.3,264.7 L329.0,265.0 L328.9,265.0 L328.8,265.2 L328.1,265.8 L328.1,265.8 L327.1,266.6 L327.0,266.8 L326.6,267.1 L326.5,267.1 L326.5,267.2 L325.8,267.8 L325.8,267.8 L324.8,268.8 L324.6,268.9 L324.3,269.2 L324.2,269.3 L324.1,269.4 L324.1,269.4 L323.4,270.0 L323.4,270.1 L322.4,271.1 L322.3,271.3 L321.9,271.6 L321.9,271.6 L321.8,271.7 L321.1,272.4 L321.1,272.4 L320.1,273.5 L320.0,273.6 L319.7,273.9 L319.6,273.9 L319.5,274.1 L318.8,274.8 L318.8,274.8 L317.8,276.0 L317.7,276.1 L317.4,276.4 L317.3,276.5 L317.2,276.5 L316.6,277.2 L316.6,277.2 L315.5,278.5 L315.4,278.6 L315.1,278.9 L315.0,279.0 L314.3,279.7 L314.3,279.7 L313.2,281.0 L313.1,281.1 L312.9,281.2 L312.9,281.3 L312.1,282.1 L312.1,282.1 L311.0,283.4 L310.9,283.5 L310.7,283.7 L310.7,283.7 L309.9,284.5 L309.9,284.5 L308.7,285.8 L308.6,285.9 L308.4,286.1 L308.4,286.2 L307.7,286.8 L307.7,286.8 L306.5,288.1 L306.4,288.2 L306.2,288.4 L306.1,288.5 L305.5,289.0 L305.5,289.0 L304.3,290.3 L304.2,290.3 L304.0,290.6 L303.9,290.6 L303.3,291.1 L303.3,291.1 L302.0,292.4 L301.9,292.5 L301.7,292.7 L301.6,292.7 L300.9,293.3 L300.9,293.3 L299.4,294.7 L299.3,294.8 L299.1,294.9 L299.1,295.0 L298.2,295.7 L298.2,295.7 L296.6,297.1 L296.5,297.2 L296.4,297.3 L296.3,297.4 L295.4,298.1 L295.4,298.1 L293.8,299.6 L293.7,299.6 L293.5,299.8 L293.4,299.8 L292.5,300.6 L292.5,300.6 L290.9,302.0 L290.8,302.0 L290.6,302.2 L290.6,302.2 L289.6,303.0 L289.6,303.0 L288.1,304.2 L288.0,304.4 L287.8,304.5 L287.7,304.5 L286.8,305.3 L286.8,305.3 L285.5,306.4 L285.3,306.5 L285.1,306.6 L285.1,306.7 L284.1,307.4 L284.1,307.4 L283.1,308.3 L283.0,308.4 L282.7,308.6 L282.6,308.6 L281.8,309.3 L281.8,309.3 L281.1,309.9 L281.0,310.0 L280.7,310.2 L280.6,310.3 L280.5,310.3 L279.7,311.0 L279.7,311.0 L278.3,312.2 L278.3,312.2 L277.8,312.7 L277.6,312.8 L277.3,313.1 L277.1,313.3 L276.8,313.5 L276.5,313.7 L276.2,313.9 L276.0,313.9 L275.7,314.1 L275.6,314.1 L273.8,315.2 L273.7,315.2 L273.6,315.3 L273.5,315.3 L273.0,315.6 L272.9,315.6 L271.1,316.6 L271.0,316.7 L270.9,316.8 L270.8,316.8 L270.3,317.1 L270.3,317.1 L268.5,318.0 L268.5,318.1 L268.3,318.2 L268.2,318.2 L267.7,318.5 L267.7,318.5 L266.1,319.4 L266.0,319.4 L265.9,319.5 L265.8,319.5 L265.3,319.8 L265.3,319.8 L263.8,320.6 L263.7,320.7 L263.5,320.8 L263.5,320.8 L262.9,321.1 L262.9,321.1 L261.4,321.9 L261.4,322.0 L261.2,322.1 L261.1,322.1 L260.6,322.4 L260.6,322.4 L259.1,323.2 L259.0,323.3 L258.9,323.3 L258.8,323.4 L258.3,323.6 L258.3,323.7 L256.8,324.5 L256.7,324.5 L256.5,324.6 L256.5,324.7 L255.9,324.9 L255.9,324.9 L254.4,325.8 L254.4,325.8 L254.2,325.9 L254.1,325.9 L253.6,326.2 L253.6,326.2 L252.1,327.1 L252.0,327.1 L251.9,327.2 L251.8,327.2 L251.3,327.5 L251.3,327.5 L249.8,328.3 L249.7,328.4 L249.6,328.5 L249.5,328.5 L249.0,328.7 L249.0,328.7 L247.5,329.6 L247.4,329.6 L247.3,329.7 L247.2,329.7 L246.7,330.0 L246.7,330.0 L245.2,330.8 L245.2,330.8 L245.0,330.9 L244.9,331.0 L244.4,331.2 L244.4,331.2 L243.0,332.0 L242.9,332.1 L242.7,332.2 L242.6,332.2 L242.2,332.4 L242.2,332.4 L240.8,333.2 L240.7,333.2 L240.5,333.3 L240.4,333.4 L240.0,333.6 L240.0,333.6 L238.6,334.3 L238.5,334.4 L238.3,334.5 L238.2,334.5 L237.8,334.7 L237.8,334.7 L236.4,335.5 L236.3,335.5 L236.1,335.6 L236.0,335.6 L235.5,335.9 L235.5,335.9 L234.1,336.6 L234.0,336.7 L233.9,336.7 L233.8,336.8 L233.3,337.0 L233.3,337.0 L231.9,337.8 L231.8,337.8 L231.6,337.9 L231.6,337.9 L231.0,338.2 L231.0,338.2 L229.6,338.9 L229.5,338.9 L229.4,339.0 L229.3,339.0 L228.7,339.4 L228.7,339.4 L227.3,340.1 L227.3,340.1 L227.2,340.2 L227.1,340.2 L226.4,340.6 L226.4,340.6 L225.1,341.3 L225.0,341.3 L224.9,341.4 L224.9,341.4 L224.1,341.8 L224.1,341.8 L222.9,342.5 L222.8,342.5 L222.7,342.6 L222.7,342.6 L221.8,343.1 L221.8,343.1 L220.5,343.8 L220.5,343.8 L220.3,343.9 L220.3,344.0 L219.7,344.3 L219.6,344.3 L218.4,345.1 L218.3,345.1 L218.2,345.2 L218.1,345.2 L217.6,345.5 L217.6,345.5 L216.4,346.2 L216.3,346.3 L216.2,346.3 L216.1,346.4 L215.6,346.7 L215.6,346.7 L214.4,347.4 L214.3,347.4 L214.2,347.5 L214.2,347.5 L213.5,347.9 L213.5,347.9 L212.4,348.6 L212.3,348.6 L212.2,348.7 L212.2,348.7 L211.4,349.1 L211.4,349.2 L210.4,349.8 L210.3,349.8 L210.2,349.9 L210.2,349.9 L209.3,350.4 L209.3,350.5 L208.4,351.1 L208.3,351.1 L208.3,351.1 L208.2,351.2 L207.2,351.8 L207.1,351.9 L207.0,352.0 L206.6,352.2 L206.4,352.3 L206.0,352.5 L205.7,352.6 L205.3,352.7 L205.0,352.8 L204.7,352.9 L204.4,353.0 L204.0,353.0 L203.7,353.1 L203.3,353.1 L202.9,353.1 L202.6,353.1 L202.2,353.0 L201.9,353.0 L201.5,352.9 L201.2,352.8 L200.9,352.7 L200.5,352.6 L200.2,352.5 L199.8,352.3 L199.6,352.2 L199.2,352.0 L199.0,351.8 L198.7,351.6 L198.4,351.4 L198.1,351.1 L197.9,350.9 L197.6,350.6 L197.4,350.3 L197.2,350.0 L197.0,349.8 L196.8,349.4 L196.7,349.1 L196.5,348.8 L196.4,348.5 L196.3,348.1 L196.2,347.8 L196.1,347.4 L196.0,347.1 L196.0,346.8 L195.9,346.4 L195.9,346.0 L195.9,345.9 L195.9,83.2 L159.0,83.2Z" fill="#f4a69d"/>
<path d="M165.6,89.8 L165.6,89.8 L165.6,602.2 L165.6,602.2 L165.6,602.2 L189.3,602.2 L189.3,602.2 L189.3,602.2 L189.3,398.6 L189.3,398.5 L189.3,398.2 L189.3,398.1 L189.3,397.8 L189.3,397.7 L189.4,397.0 L189.4,396.9 L189.4,396.6 L189.5,396.5 L189.6,395.7 L189.6,395.7 L189.7,395.4 L189.7,395.3 L189.9,394.6 L189.9,394.5 L190.0,394.2 L190.0,394.1 L190.3,393.4 L190.3,393.3 L190.5,393.1 L190.5,393.0 L190.6,392.7 L190.6,392.6 L190.7,392.6 L190.7,392.6 L190.8,392.3 L190.8,392.2 L191.0,392.0 L191.0,392.0 L191.1,391.7 L191.1,391.7 L192.2,389.8 L192.2,389.8 L192.3,389.6 L192.3,389.6 L192.5,389.3 L192.5,389.3 L192.7,388.9 L192.7,388.9 L193.6,387.5 L193.6,387.4 L193.7,387.2 L193.8,387.2 L193.9,386.9 L193.9,386.9 L194.1,386.6 L194.2,386.5 L195.0,385.4 L195.0,385.3 L195.0,385.3 L195.0,385.3 L195.2,385.0 L195.2,385.0 L195.3,384.8 L195.4,384.7 L195.5,384.5 L195.6,384.4 L196.4,383.3 L196.4,383.2 L196.4,383.2 L196.4,383.2 L196.6,382.9 L196.6,382.9 L196.8,382.7 L196.8,382.6 L197.0,382.4 L197.0,382.3 L197.8,381.3 L197.8,381.2 L197.8,381.2 L197.9,381.2 L198.1,380.9 L198.1,380.9 L198.2,380.7 L198.3,380.6 L198.4,380.4 L198.5,380.4 L199.3,379.3 L199.3,379.3 L199.3,379.3 L199.3,379.3 L199.5,379.0 L199.5,379.0 L199.7,378.8 L199.7,378.7 L199.9,378.5 L199.9,378.4 L200.7,377.5 L200.8,377.4 L200.8,377.4 L200.8,377.4 L201.0,377.2 L201.0,377.1 L201.2,376.9 L201.2,376.9 L201.4,376.6 L201.4,376.6 L202.2,375.7 L202.3,375.7 L202.3,375.7 L202.3,375.6 L202.5,375.4 L202.5,375.3 L202.7,375.1 L202.7,375.1 L202.9,374.9 L203.0,374.8 L203.8,374.0 L203.8,373.9 L203.8,373.9 L203.8,373.9 L204.0,373.7 L204.1,373.6 L204.2,373.4 L204.3,373.4 L204.5,373.2 L204.5,373.1 L205.3,372.3 L205.3,372.3 L205.4,372.3 L205.4,372.2 L205.6,372.0 L205.6,372.0 L205.8,371.8 L205.8,371.7 L206.1,371.5 L206.1,371.5 L206.9,370.7 L206.9,370.6 L207.0,370.6 L207.0,370.6 L207.2,370.4 L207.2,370.3 L207.4,370.2 L207.4,370.1 L207.7,369.9 L207.7,369.9 L208.6,369.1 L208.6,369.0 L208.8,368.8 L208.8,368.8 L209.0,368.6 L209.1,368.6 L209.3,368.3 L209.4,368.3 L210.2,367.5 L210.3,367.5 L210.4,367.4 L210.4,367.4 L210.7,367.1 L210.7,367.1 L211.0,366.9 L211.0,366.8 L211.9,366.2 L211.9,366.2 L212.1,366.0 L212.1,366.0 L212.3,365.8 L212.4,365.7 L212.7,365.5 L212.7,365.5 L213.5,364.9 L213.5,364.9 L213.8,364.6 L213.8,364.6 L214.1,364.5 L214.1,364.4 L214.4,364.2 L214.4,364.2 L215.2,363.6 L215.3,363.6 L215.3,363.6 L215.3,363.6 L215.6,363.4 L215.6,363.3 L215.8,363.2 L215.8,363.2 L216.1,363.0 L216.1,362.9 L217.0,362.4 L217.1,362.3 L217.1,362.3 L217.1,362.3 L217.4,362.1 L217.4,362.1 L217.6,361.9 L217.7,361.9 L217.9,361.8 L217.9,361.7 L218.8,361.2 L218.9,361.1 L219.0,361.0 L219.0,361.0 L219.3,360.9 L219.3,360.8 L219.5,360.7 L219.5,360.7 L219.7,360.5 L219.8,360.5 L220.7,359.9 L220.8,359.9 L221.0,359.8 L221.0,359.8 L221.2,359.6 L221.2,359.6 L221.4,359.5 L221.4,359.5 L221.6,359.3 L221.7,359.3 L222.6,358.7 L222.7,358.7 L223.0,358.5 L223.0,358.5 L223.2,358.4 L223.2,358.4 L223.4,358.3 L223.4,358.2 L223.6,358.1 L223.6,358.1 L224.6,357.5 L224.7,357.5 L225.0,357.2 L225.0,357.2 L225.2,357.1 L225.2,357.1 L225.4,357.0 L225.4,357.0 L225.6,356.9 L225.6,356.9 L226.6,356.2 L226.7,356.2 L226.9,356.0 L226.9,356.0 L227.1,355.9 L227.2,355.9 L227.3,355.8 L227.4,355.8 L227.6,355.6 L227.6,355.6 L228.7,355.0 L228.7,354.9 L228.8,354.9 L228.8,354.9 L229.1,354.7 L229.1,354.7 L229.3,354.6 L229.3,354.5 L229.6,354.4 L229.6,354.4 L230.7,353.8 L230.8,353.7 L230.9,353.6 L230.9,353.6 L231.2,353.5 L231.2,353.5 L231.4,353.3 L231.4,353.3 L231.6,353.2 L231.7,353.2 L232.8,352.5 L232.9,352.5 L233.0,352.4 L233.1,352.4 L233.3,352.3 L233.3,352.2 L233.5,352.1 L233.5,352.1 L233.8,352.0 L233.8,352.0 L234.9,351.3 L235.0,351.3 L235.2,351.2 L235.2,351.2 L235.5,351.0 L235.5,351.0 L235.7,350.9 L235.7,350.9 L235.9,350.8 L235.9,350.8 L237.1,350.1 L237.2,350.1 L237.4,350.0 L237.5,349.9 L237.7,349.8 L237.7,349.8 L237.9,349.7 L237.9,349.7 L238.1,349.6 L238.1,349.6 L239.3,348.9 L239.4,348.9 L239.7,348.7 L239.7,348.7 L239.9,348.6 L239.9,348.6 L240.1,348.5 L240.1,348.5 L240.3,348.4 L240.3,348.4 L241.6,347.7 L241.6,347.7 L242.0,347.5 L242.0,347.5 L242.2,347.4 L242.2,347.4 L242.3,347.3 L242.4,347.3 L242.5,347.2 L242.6,347.2 L243.8,346.5 L243.8,346.5 L244.3,346.2 L244.3,346.2 L244.5,346.1 L244.5,346.1 L244.6,346.0 L244.6,346.0 L244.8,345.9 L244.8,345.9 L246.1,345.2 L246.1,345.2 L246.6,344.9 L246.6,344.9 L246.8,344.8 L246.8,344.8 L246.9,344.8 L246.9,344.7 L247.1,344.7 L247.1,344.6 L248.3,344.0 L248.4,343.9 L248.8,343.7 L248.8,343.7 L249.0,343.6 L249.0,343.6 L249.1,343.5 L249.2,343.5 L249.3,343.4 L249.3,343.4 L250.6,342.7 L250.6,342.6 L251.0,342.4 L251.0,342.4 L251.2,342.3 L251.2,342.3 L251.4,342.2 L251.4,342.2 L251.5,342.1 L251.6,342.1 L252.9,341.4 L252.9,341.3 L253.3,341.1 L253.3,341.1 L253.5,341.0 L253.5,341.0 L253.6,340.9 L253.6,340.9 L253.8,340.8 L253.8,340.8 L255.1,340.0 L255.2,340.0 L255.5,339.8 L255.5,339.8 L255.7,339.7 L255.7,339.6 L255.9,339.6 L255.9,339.5 L256.1,339.4 L256.1,339.4 L257.4,338.7 L257.5,338.7 L257.8,338.4 L257.8,338.4 L258.0,338.3 L258.0,338.3 L258.2,338.2 L258.2,338.2 L258.4,338.1 L258.4,338.1 L259.7,337.3 L259.8,337.3 L260.1,337.1 L260.1,337.1 L260.3,337.0 L260.3,337.0 L260.5,336.9 L260.5,336.9 L260.7,336.8 L260.7,336.8 L262.0,336.0 L262.1,336.0 L262.4,335.8 L262.4,335.7 L262.6,335.6 L262.6,335.6 L262.8,335.5 L262.8,335.5 L263.0,335.4 L263.0,335.4 L263.9,334.9 L263.9,334.9 L264.3,334.6 L264.4,334.6 L264.7,334.5 L264.8,334.4 L265.6,334.1 L265.7,334.0 L266.0,333.9 L266.1,333.9 L267.0,333.6 L267.1,333.6 L267.4,333.5 L267.5,333.5 L268.4,333.3 L268.5,333.3 L268.8,333.2 L268.9,333.2 L269.3,333.1 L269.4,333.1 L269.8,333.1 L269.8,333.1 L269.8,333.1 L269.9,333.1 L270.1,333.1 L270.1,333.1 L270.5,333.0 L270.5,333.0 L271.0,333.0 L271.1,332.9 L271.7,332.9 L271.8,332.9 L272.0,332.9 L272.1,332.9 L272.5,332.8 L272.5,332.8 L272.9,332.8 L272.9,332.8 L273.3,332.7 L273.4,332.7 L274.4,332.6 L274.5,332.6 L274.8,332.6 L274.8,332.6 L275.1,332.6 L275.2,332.5 L275.5,332.5 L275.6,332.5 L276.0,332.5 L276.0,332.5 L277.4,332.4 L277.5,332.4 L277.9,332.3 L277.9,332.3 L278.1,332.3 L278.1,332.3 L278.5,332.2 L278.5,332.2 L279.0,332.2 L279.1,332.2 L280.7,332.1 L280.7,332.1 L281.2,332.0 L281.2,332.0 L281.3,332.0 L281.4,332.0 L281.7,332.0 L281.8,332.0 L282.3,331.9 L282.3,331.9 L284.1,331.8 L284.2,331.8 L284.6,331.8 L284.7,331.8 L284.8,331.8 L285.2,331.7 L285.2,331.7 L285.7,331.7 L285.8,331.7 L287.6,331.6 L287.7,331.6 L288.2,331.6 L288.3,331.6 L288.5,331.5 L288.5,331.5 L288.8,331.5 L288.8,331.5 L289.2,331.5 L289.3,331.5 L291.1,331.5 L291.2,331.5 L291.7,331.4 L291.7,331.4 L292.1,331.4 L292.1,331.4 L292.4,331.4 L292.4,331.4 L292.7,331.4 L292.8,331.4 L294.6,331.4 L294.6,331.4 L294.9,331.4 L295.0,331.4 L295.4,331.4 L295.4,331.4 L295.7,331.4 L295.8,331.4 L296.1,331.4 L296.2,331.4 L297.8,331.5 L297.9,331.5 L298.2,331.5 L298.3,331.5 L298.6,331.5 L298.7,331.5 L298.9,331.5 L298.9,331.5 L298.9,331.5 L298.3,330.8 L298.3,330.8 L298.1,330.5 L298.0,330.4 L297.5,329.7 L297.4,329.7 L297.3,329.4 L297.2,329.3 L296.8,328.6 L296.7,328.5 L296.6,328.2 L296.6,328.1 L296.2,327.3 L296.2,327.3 L296.1,327.0 L296.0,326.9 L295.7,326.1 L295.7,326.0 L295.6,325.7 L295.6,325.6 L295.4,324.7 L295.4,324.6 L295.3,324.3 L295.3,324.3 L295.2,323.4 L295.2,323.3 L295.2,323.0 L295.2,322.9 L295.1,322.0 L295.1,321.9 L295.1,321.6 L295.2,321.5 L295.2,320.7 L295.2,320.6 L295.3,320.3 L295.3,320.2 L295.4,319.3 L295.4,319.2 L295.5,318.9 L295.5,318.8 L295.7,318.0 L295.8,317.9 L295.9,317.6 L295.9,317.5 L296.2,316.7 L296.2,316.6 L296.4,316.4 L296.4,316.3 L296.8,315.5 L296.8,315.4 L297.0,315.1 L297.0,315.1 L297.5,314.3 L297.6,314.2 L297.7,314.0 L297.8,313.9 L298.3,313.2 L298.4,313.2 L298.6,312.9 L298.6,312.9 L299.2,312.2 L299.3,312.2 L299.5,311.9 L299.6,311.9 L299.9,311.6 L299.9,311.6 L301.0,310.7 L301.0,310.6 L301.6,310.1 L301.6,310.1 L301.7,309.9 L301.8,309.9 L302.0,309.7 L302.0,309.6 L302.3,309.4 L302.4,309.3 L303.9,308.0 L303.9,308.0 L304.4,307.5 L304.4,307.5 L304.6,307.3 L304.7,307.2 L304.9,307.0 L304.9,307.0 L305.2,306.7 L305.2,306.7 L306.7,305.4 L306.7,305.4 L307.2,304.9 L307.2,304.9 L307.2,304.9 L307.5,304.6 L307.5,304.6 L307.7,304.3 L307.8,304.3 L308.0,304.1 L308.1,304.0 L309.4,302.8 L309.4,302.8 L309.9,302.3 L309.9,302.3 L309.9,302.3 L309.9,302.3 L310.1,302.1 L310.1,302.1 L310.3,301.8 L310.4,301.8 L310.7,301.5 L310.7,301.4 L311.9,300.3 L311.9,300.3 L312.3,299.9 L312.4,299.8 L312.4,299.8 L312.5,299.7 L312.7,299.4 L312.8,299.4 L313.1,299.0 L313.2,298.9 L314.2,297.9 L314.2,297.8 L314.6,297.4 L314.7,297.3 L314.7,297.3 L314.8,297.2 L315.0,296.9 L315.1,296.9 L315.4,296.5 L315.5,296.4 L316.5,295.3 L316.5,295.3 L316.9,294.8 L317.0,294.8 L317.0,294.8 L317.0,294.8 L317.1,294.6 L317.1,294.6 L317.3,294.3 L317.4,294.3 L317.7,293.9 L317.7,293.9 L318.7,292.7 L318.8,292.7 L319.2,292.2 L319.2,292.2 L319.2,292.2 L319.4,291.9 L319.5,291.8 L319.6,291.6 L319.7,291.6 L319.9,291.3 L319.9,291.2 L320.9,290.1 L321.0,290.1 L321.4,289.5 L321.4,289.5 L321.6,289.3 L321.6,289.3 L321.8,289.0 L321.8,289.0 L322.1,288.7 L322.1,288.6 L323.1,287.5 L323.1,287.5 L323.6,286.9 L323.6,286.8 L323.7,286.8 L323.7,286.7 L323.9,286.5 L323.9,286.4 L324.2,286.1 L324.2,286.1 L325.2,285.0 L325.2,284.9 L325.8,284.2 L325.8,284.2 L325.9,284.1 L325.9,284.1 L326.1,283.9 L326.1,283.8 L326.3,283.6 L326.4,283.5 L327.3,282.5 L327.3,282.4 L327.8,281.8 L327.8,281.8 L328.0,281.6 L328.0,281.6 L328.2,281.4 L328.2,281.4 L328.4,281.2 L328.4,281.1 L329.3,280.1 L329.3,280.1 L329.8,279.5 L329.8,279.5 L330.0,279.3 L330.0,279.3 L330.2,279.1 L330.2,279.0 L330.4,278.8 L330.5,278.8 L331.4,277.8 L331.4,277.8 L331.7,277.4 L331.7,277.4 L332.0,277.1 L332.0,277.1 L332.2,276.9 L332.2,276.9 L332.4,276.6 L332.5,276.6 L333.3,275.7 L333.4,275.7 L333.8,275.3 L333.8,275.2 L334.0,275.0 L334.1,275.0 L334.2,274.8 L334.3,274.8 L334.5,274.5 L334.5,274.5 L335.3,273.8 L335.4,273.7 L336.0,273.1 L336.0,273.1 L336.2,272.9 L336.2,272.8 L336.4,272.7 L336.4,272.7 L336.6,272.5 L336.6,272.5 L337.3,271.8 L337.3,271.8 L337.9,271.3 L337.9,271.2 L338.1,271.0 L338.1,271.0 L338.3,270.9 L338.3,270.9 L338.5,270.7 L338.5,270.7 L339.2,270.0 L339.2,270.0 L339.8,269.4 L339.8,269.4 L340.0,269.2 L340.1,269.2 L340.2,269.0 L340.2,269.0 L340.5,268.8 L340.5,268.8 L341.1,268.3 L341.2,268.2 L341.7,267.7 L341.8,267.7 L342.0,267.5 L342.0,267.4 L342.2,267.3 L342.2,267.3 L342.4,267.1 L342.4,267.0 L343.1,266.5 L343.1,266.5 L343.6,266.1 L343.6,266.0 L343.8,265.8 L343.9,265.8 L344.1,265.6 L344.1,265.6 L344.3,265.4 L344.4,265.4 L344.9,264.9 L345.0,264.9 L345.4,264.5 L345.5,264.5 L345.7,264.3 L345.7,264.2 L345.9,264.1 L346.0,264.1 L346.2,263.9 L346.3,263.8 L346.8,263.4 L346.9,263.4 L347.3,263.0 L347.3,263.0 L347.6,262.8 L347.6,262.8 L347.8,262.6 L347.9,262.6 L348.1,262.4 L348.2,262.4 L348.7,262.0 L348.7,261.9 L349.2,261.6 L349.2,261.6 L349.5,261.4 L349.5,261.4 L349.7,261.2 L349.7,261.2 L350.0,261.0 L350.1,261.0 L350.6,260.6 L350.6,260.6 L351.0,260.3 L351.1,260.3 L351.3,260.1 L351.4,260.0 L351.6,259.9 L351.6,259.9 L351.9,259.7 L352.0,259.6 L352.5,259.3 L352.5,259.3 L353.0,259.0 L353.0,259.0 L353.3,258.8 L353.3,258.8 L353.5,258.6 L353.6,258.6 L353.9,258.4 L353.9,258.4 L354.4,258.1 L354.4,258.1 L354.9,257.8 L354.9,257.8 L355.2,257.6 L355.2,257.6 L355.5,257.4 L355.5,257.4 L355.8,257.3 L355.8,257.2 L356.2,257.0 L356.3,257.0 L356.6,256.8 L356.7,256.7 L357.0,256.6 L357.0,256.5 L357.3,256.4 L357.3,256.4 L357.6,256.2 L357.7,256.2 L358.0,256.0 L358.1,256.0 L358.4,255.8 L358.5,255.8 L358.8,255.6 L358.8,255.6 L359.1,255.4 L359.1,255.4 L359.5,255.3 L359.5,255.3 L359.8,255.1 L359.9,255.1 L360.2,254.9 L360.3,254.9 L360.6,254.7 L360.6,254.7 L360.9,254.6 L360.9,254.6 L361.3,254.4 L361.3,254.4 L361.6,254.3 L361.7,254.2 L362.1,254.1 L362.1,254.0 L362.4,253.9 L362.5,253.9 L362.7,253.8 L362.8,253.7 L363.1,253.6 L363.2,253.6 L363.5,253.5 L363.5,253.4 L364.0,253.3 L364.0,253.2 L364.3,253.1 L364.4,253.1 L364.6,253.0 L364.7,253.0 L365.0,252.9 L365.1,252.8 L365.4,252.7 L365.5,252.7 L366.0,252.5 L366.0,252.5 L366.3,252.4 L366.4,252.4 L366.6,252.3 L366.7,252.3 L367.0,252.1 L367.0,252.1 L367.5,252.0 L367.5,252.0 L368.1,251.8 L368.1,251.8 L368.4,251.7 L368.4,251.7 L368.7,251.6 L368.7,251.6 L369.0,251.5 L369.1,251.5 L369.6,251.3 L369.6,251.3 L370.3,251.1 L370.4,251.1 L370.6,251.0 L370.7,251.0 L370.9,250.9 L370.9,250.9 L371.2,250.8 L371.3,250.8 L371.9,250.6 L371.9,250.6 L372.4,250.5 L372.4,250.5 L372.7,250.4 L372.8,250.4 L373.1,250.3 L373.1,250.3 L373.5,250.2 L373.5,250.2 L374.5,250.0 L374.5,250.0 L374.9,249.9 L374.9,249.8 L375.3,249.7 L375.3,249.7 L375.6,249.7 L375.7,249.7 L376.0,249.6 L376.1,249.6 L377.4,249.3 L377.4,249.3 L378.0,249.2 L378.0,249.2 L378.3,249.1 L378.3,249.1 L378.6,249.1 L378.6,249.1 L378.9,249.0 L379.0,249.0 L380.4,248.8 L380.5,248.8 L381.3,248.6 L381.3,248.6 L381.5,248.6 L381.5,248.5 L381.8,248.5 L381.8,248.5 L382.2,248.4 L382.2,248.4 L383.7,248.2 L383.8,248.2 L384.4,248.1 L384.4,248.1 L384.4,248.1 L384.4,248.1 L384.4,248.1 L384.5,248.1 L384.9,248.0 L384.9,248.0 L385.4,247.9 L385.5,247.9 L387.0,247.7 L387.1,247.7 L387.6,247.6 L387.7,247.6 L387.7,247.6 L387.8,247.6 L388.2,247.5 L388.2,247.5 L388.7,247.4 L388.7,247.4 L390.2,247.3 L390.2,247.2 L390.7,247.2 L390.7,247.2 L390.9,247.1 L391.0,247.1 L391.3,247.1 L391.4,247.0 L391.8,247.0 L391.9,247.0 L393.1,246.8 L393.2,246.8 L393.5,246.8 L393.5,246.8 L393.5,246.8 L393.2,246.8 L393.1,246.8 L391.9,246.9 L391.8,246.9 L391.4,247.0 L391.4,247.0 L391.1,247.0 L391.0,247.0 L390.6,247.0 L390.6,247.0 L390.5,247.0 L390.2,247.0 L390.2,247.1 L388.7,247.2 L388.7,247.2 L388.3,247.3 L388.2,247.3 L387.9,247.3 L387.9,247.3 L387.5,247.3 L387.4,247.3 L387.4,247.3 L387.4,247.3 L387.0,247.4 L387.0,247.4 L385.4,247.6 L385.3,247.6 L384.8,247.6 L384.7,247.6 L384.3,247.6 L384.3,247.6 L384.3,247.6 L384.3,247.6 L384.2,247.7 L384.2,247.7 L384.1,247.7 L383.7,247.7 L383.7,247.7 L382.1,247.9 L382.0,247.9 L381.5,248.0 L381.4,248.0 L380.9,248.0 L380.9,248.0 L380.8,248.0 L380.8,248.0 L380.4,248.1 L380.4,248.1 L378.9,248.3 L378.9,248.3 L378.3,248.4 L378.3,248.4 L377.8,248.4 L377.8,248.4 L377.6,248.5 L377.6,248.5 L377.2,248.5 L377.2,248.5 L375.9,248.7 L375.9,248.8 L375.4,248.8 L375.3,248.8 L375.0,248.9 L374.9,248.9 L374.6,248.9 L374.6,248.9 L374.3,249.0 L374.2,249.0 L373.3,249.2 L373.2,249.2 L372.7,249.3 L372.7,249.3 L372.3,249.4 L372.2,249.4 L372.0,249.4 L372.0,249.4 L371.6,249.5 L371.6,249.5 L371.0,249.7 L370.9,249.7 L370.4,249.8 L370.3,249.8 L369.8,249.9 L369.8,249.9 L369.7,249.9 L369.7,249.9 L369.3,250.0 L369.2,250.0 L368.7,250.2 L368.7,250.2 L368.1,250.3 L368.1,250.3 L367.6,250.4 L367.6,250.4 L367.4,250.5 L367.4,250.5 L367.1,250.6 L367.0,250.6 L366.6,250.7 L366.5,250.7 L366.0,250.9 L366.0,250.9 L365.6,251.0 L365.5,251.0 L365.4,251.0 L365.3,251.0 L364.9,251.1 L364.9,251.2 L364.5,251.3 L364.5,251.3 L364.0,251.5 L363.9,251.5 L363.6,251.6 L363.5,251.6 L363.3,251.6 L363.2,251.7 L362.9,251.8 L362.9,251.8 L362.5,251.9 L362.5,251.9 L362.0,252.1 L362.0,252.1 L361.6,252.2 L361.5,252.2 L361.3,252.3 L361.3,252.3 L360.9,252.4 L360.9,252.4 L360.6,252.6 L360.5,252.6 L360.1,252.8 L360.0,252.8 L359.7,252.9 L359.6,252.9 L359.4,253.0 L359.3,253.0 L359.0,253.2 L358.9,253.2 L358.6,253.3 L358.6,253.3 L358.1,253.5 L358.1,253.6 L357.7,253.7 L357.7,253.7 L357.4,253.8 L357.4,253.8 L357.0,254.0 L357.0,254.0 L356.7,254.1 L356.6,254.2 L356.2,254.4 L356.1,254.4 L355.7,254.6 L355.7,254.6 L355.5,254.7 L355.5,254.7 L355.1,254.9 L355.1,254.9 L354.7,255.1 L354.6,255.1 L354.2,255.3 L354.1,255.4 L353.7,255.5 L353.7,255.6 L353.6,255.6 L353.5,255.7 L353.1,255.8 L353.1,255.9 L352.6,256.1 L352.6,256.2 L352.1,256.4 L352.1,256.4 L351.7,256.6 L351.7,256.6 L351.5,256.7 L351.5,256.7 L351.1,256.9 L351.0,257.0 L350.5,257.3 L350.5,257.3 L350.0,257.6 L350.0,257.6 L349.6,257.8 L349.6,257.8 L349.4,257.9 L349.4,257.9 L349.0,258.1 L349.0,258.2 L348.5,258.5 L348.4,258.5 L348.0,258.8 L347.9,258.9 L347.6,259.1 L347.5,259.1 L347.4,259.2 L347.3,259.2 L347.0,259.4 L346.9,259.5 L346.4,259.8 L346.3,259.9 L345.9,260.2 L345.9,260.2 L345.5,260.4 L345.5,260.4 L345.3,260.5 L345.3,260.6 L344.9,260.8 L344.9,260.8 L344.3,261.2 L344.3,261.3 L343.8,261.6 L343.8,261.6 L343.4,261.9 L343.4,261.9 L343.3,261.9 L343.2,262.0 L342.9,262.2 L342.8,262.3 L342.3,262.7 L342.2,262.8 L341.8,263.1 L341.7,263.1 L341.4,263.4 L341.3,263.4 L341.3,263.4 L341.2,263.5 L340.8,263.8 L340.8,263.8 L340.2,264.3 L340.2,264.3 L339.7,264.7 L339.7,264.7 L339.4,264.9 L339.4,264.9 L339.3,265.0 L339.3,265.0 L339.2,265.0 L339.2,265.1 L338.8,265.4 L338.7,265.4 L338.1,265.9 L338.1,266.0 L337.6,266.3 L337.6,266.4 L337.3,266.6 L337.3,266.6 L337.2,266.6 L337.2,266.6 L337.2,266.7 L337.1,266.7 L336.7,267.1 L336.7,267.1 L336.0,267.7 L336.0,267.7 L335.7,267.9 L335.6,268.0 L335.4,268.2 L335.4,268.2 L335.1,268.4 L335.0,268.5 L335.0,268.5 L335.0,268.5 L334.6,268.8 L334.6,268.9 L333.9,269.5 L333.8,269.5 L333.6,269.8 L333.5,269.8 L333.3,270.0 L333.3,270.0 L333.0,270.2 L332.9,270.3 L332.9,270.3 L332.9,270.3 L332.5,270.7 L332.4,270.7 L331.7,271.4 L331.6,271.5 L331.2,271.8 L331.2,271.9 L330.8,272.1 L330.8,272.2 L330.7,272.2 L330.7,272.3 L330.3,272.6 L330.3,272.6 L329.4,273.5 L329.4,273.5 L329.0,273.9 L329.0,273.9 L328.7,274.2 L328.6,274.2 L328.5,274.3 L328.5,274.3 L328.1,274.7 L328.1,274.7 L327.2,275.6 L327.2,275.7 L326.8,276.1 L326.7,276.1 L326.4,276.4 L326.4,276.4 L326.3,276.5 L326.3,276.5 L325.9,276.9 L325.9,276.9 L325.0,277.9 L324.9,278.0 L324.7,278.2 L324.7,278.3 L324.4,278.5 L324.4,278.5 L324.1,278.8 L324.1,278.8 L324.1,278.8 L324.1,278.8 L323.7,279.2 L323.7,279.3 L322.7,280.3 L322.7,280.4 L322.4,280.7 L322.4,280.7 L322.2,280.9 L322.1,281.0 L321.9,281.2 L321.9,281.2 L321.5,281.6 L321.4,281.7 L320.5,282.8 L320.4,282.8 L320.1,283.1 L320.1,283.2 L319.9,283.4 L319.9,283.4 L319.8,283.5 L319.8,283.5 L319.2,284.1 L319.2,284.1 L318.2,285.3 L318.2,285.3 L317.9,285.6 L317.8,285.7 L317.7,285.8 L317.6,285.9 L317.6,285.9 L317.6,285.9 L317.0,286.6 L316.9,286.6 L315.9,287.8 L315.9,287.8 L315.7,288.0 L315.7,288.0 L315.6,288.2 L315.5,288.2 L315.3,288.4 L315.3,288.4 L314.7,289.0 L314.7,289.1 L313.6,290.2 L313.6,290.3 L313.4,290.5 L313.4,290.5 L313.2,290.7 L313.2,290.7 L313.0,290.9 L312.9,290.9 L312.4,291.4 L312.4,291.5 L311.3,292.6 L311.3,292.6 L311.0,292.9 L311.0,292.9 L310.8,293.1 L310.8,293.1 L310.6,293.4 L310.5,293.4 L310.1,293.8 L310.1,293.8 L309.0,294.9 L309.0,294.9 L308.7,295.2 L308.7,295.2 L308.5,295.4 L308.5,295.4 L308.2,295.6 L308.2,295.6 L307.8,296.0 L307.7,296.0 L306.6,297.2 L306.5,297.2 L306.3,297.4 L306.3,297.4 L306.1,297.6 L306.1,297.6 L305.9,297.8 L305.8,297.8 L305.3,298.3 L305.2,298.3 L303.9,299.6 L303.9,299.6 L303.6,299.8 L303.6,299.8 L303.5,299.9 L303.4,300.0 L303.2,300.1 L303.2,300.1 L302.5,300.7 L302.5,300.7 L301.0,302.0 L301.0,302.0 L300.8,302.2 L300.8,302.2 L300.6,302.4 L300.6,302.4 L300.4,302.6 L300.4,302.6 L299.6,303.2 L299.6,303.2 L298.1,304.5 L298.1,304.5 L297.9,304.7 L297.9,304.7 L297.7,304.8 L297.7,304.8 L297.5,305.0 L297.5,305.0 L296.7,305.6 L296.7,305.7 L295.2,306.9 L295.2,307.0 L295.0,307.1 L295.0,307.1 L294.8,307.3 L294.8,307.3 L294.6,307.4 L294.6,307.4 L293.8,308.1 L293.8,308.1 L292.4,309.3 L292.3,309.3 L292.0,309.6 L292.0,309.6 L291.8,309.7 L291.8,309.7 L291.7,309.8 L290.9,310.4 L290.9,310.4 L289.8,311.4 L289.7,311.4 L289.4,311.7 L289.3,311.7 L289.1,311.9 L288.3,312.5 L288.3,312.6 L287.4,313.3 L287.4,313.3 L287.0,313.6 L287.0,313.6 L286.7,313.8 L285.9,314.4 L285.9,314.5 L285.4,314.9 L285.4,314.9 L285.1,315.2 L285.0,315.2 L284.8,315.4 L284.7,315.4 L284.6,315.5 L284.5,315.6 L283.9,316.0 L283.9,316.1 L282.8,317.0 L282.7,317.1 L282.3,317.5 L282.3,317.5 L282.0,317.8 L281.9,317.8 L281.7,318.0 L281.6,318.1 L280.9,318.6 L280.9,318.7 L280.6,318.9 L280.5,318.9 L279.8,319.4 L279.7,319.4 L279.4,319.6 L279.4,319.6 L279.0,319.8 L279.0,319.8 L278.8,319.9 L278.7,319.9 L277.1,320.9 L277.0,320.9 L276.8,321.0 L276.8,321.0 L276.7,321.1 L276.6,321.1 L276.5,321.2 L276.4,321.2 L276.1,321.4 L276.0,321.4 L274.4,322.4 L274.4,322.4 L274.2,322.5 L274.1,322.5 L274.0,322.6 L274.0,322.6 L273.8,322.7 L273.8,322.7 L273.4,322.9 L273.4,322.9 L271.8,323.8 L271.8,323.8 L271.6,323.9 L271.6,323.9 L271.4,324.0 L271.4,324.0 L271.2,324.1 L271.2,324.1 L270.8,324.3 L270.8,324.3 L269.4,325.1 L269.3,325.1 L269.2,325.2 L269.1,325.2 L269.0,325.3 L269.0,325.3 L268.8,325.4 L268.8,325.4 L268.4,325.6 L268.4,325.6 L267.0,326.4 L267.0,326.4 L266.8,326.5 L266.8,326.5 L266.7,326.6 L266.6,326.6 L266.5,326.7 L266.4,326.7 L266.1,326.9 L266.0,326.9 L264.7,327.7 L264.7,327.7 L264.5,327.8 L264.5,327.8 L264.3,327.9 L264.3,327.9 L264.1,328.0 L264.1,328.0 L263.7,328.2 L263.7,328.2 L262.4,328.9 L262.4,329.0 L262.2,329.1 L262.1,329.1 L262.0,329.2 L262.0,329.2 L261.8,329.3 L261.8,329.3 L261.4,329.5 L261.4,329.5 L260.0,330.2 L260.0,330.2 L259.8,330.3 L259.8,330.4 L259.7,330.4 L259.6,330.5 L259.4,330.6 L259.4,330.6 L259.1,330.7 L259.0,330.8 L257.7,331.5 L257.7,331.5 L257.5,331.6 L257.5,331.6 L257.3,331.7 L257.3,331.7 L257.1,331.8 L257.1,331.8 L256.7,332.0 L256.7,332.0 L255.4,332.8 L255.4,332.8 L255.2,332.9 L255.1,332.9 L255.0,333.0 L255.0,333.0 L254.8,333.1 L254.8,333.1 L254.4,333.3 L254.4,333.3 L253.1,334.1 L253.0,334.1 L252.8,334.2 L252.8,334.2 L252.7,334.3 L252.6,334.3 L252.5,334.4 L252.4,334.4 L252.1,334.6 L252.1,334.6 L250.8,335.3 L250.7,335.3 L250.5,335.4 L250.5,335.4 L250.4,335.5 L250.3,335.5 L250.1,335.6 L250.1,335.7 L249.8,335.8 L249.8,335.8 L248.5,336.6 L248.5,336.6 L248.3,336.7 L248.2,336.7 L248.1,336.8 L248.0,336.8 L247.8,336.9 L247.8,336.9 L247.5,337.1 L247.5,337.1 L246.2,337.8 L246.2,337.8 L246.0,337.9 L245.9,337.9 L245.8,338.0 L245.7,338.0 L245.5,338.1 L245.5,338.1 L245.3,338.3 L245.2,338.3 L244.0,339.0 L243.9,339.0 L243.7,339.1 L243.7,339.1 L243.5,339.2 L243.5,339.2 L243.3,339.3 L243.2,339.3 L243.0,339.5 L243.0,339.5 L241.7,340.1 L241.7,340.2 L241.5,340.3 L241.4,340.3 L241.3,340.4 L241.3,340.4 L241.0,340.5 L241.0,340.5 L240.7,340.6 L240.7,340.6 L239.5,341.3 L239.4,341.3 L239.2,341.4 L239.2,341.4 L239.0,341.5 L239.0,341.5 L238.8,341.6 L238.8,341.6 L238.5,341.8 L238.4,341.8 L237.2,342.5 L237.2,342.5 L237.0,342.6 L237.0,342.6 L236.8,342.6 L236.8,342.7 L236.6,342.8 L236.6,342.8 L236.2,342.9 L236.2,342.9 L234.9,343.6 L234.9,343.6 L234.8,343.7 L234.7,343.7 L234.6,343.8 L234.6,343.8 L234.4,343.9 L234.4,343.9 L234.0,344.1 L233.9,344.1 L232.7,344.7 L232.7,344.7 L232.5,344.8 L232.5,344.8 L232.4,344.9 L232.4,344.9 L232.2,345.0 L232.2,345.0 L231.7,345.2 L231.7,345.3 L230.5,345.9 L230.5,345.9 L230.3,346.0 L230.3,346.0 L230.2,346.0 L230.2,346.1 L230.0,346.1 L230.0,346.1 L229.5,346.4 L229.4,346.4 L228.3,347.0 L228.3,347.1 L228.2,347.1 L228.1,347.1 L228.0,347.2 L228.0,347.2 L227.9,347.3 L227.9,347.3 L227.2,347.6 L227.2,347.6 L226.2,348.2 L226.1,348.2 L226.0,348.3 L226.0,348.3 L225.9,348.4 L225.9,348.4 L225.8,348.4 L225.8,348.4 L225.1,348.8 L225.0,348.8 L223.9,349.5 L223.9,349.5 L223.8,349.6 L223.7,349.6 L223.6,349.7 L223.6,349.7 L223.4,349.8 L223.4,349.8 L222.9,350.0 L222.9,350.0 L221.8,350.7 L221.8,350.7 L221.6,350.8 L221.6,350.8 L221.4,350.9 L221.4,350.9 L221.2,351.0 L221.2,351.1 L220.9,351.2 L220.9,351.2 L219.8,351.9 L219.8,351.9 L219.6,352.0 L219.6,352.0 L219.5,352.1 L219.5,352.1 L219.3,352.2 L219.3,352.2 L218.9,352.4 L218.8,352.4 L217.8,353.0 L217.8,353.0 L217.7,353.1 L217.6,353.1 L217.5,353.2 L217.5,353.2 L217.4,353.3 L217.3,353.3 L216.8,353.6 L216.8,353.6 L215.9,354.2 L215.9,354.2 L215.7,354.3 L215.7,354.3 L215.6,354.3 L215.6,354.4 L215.5,354.4 L215.4,354.4 L214.8,354.8 L214.8,354.8 L213.9,355.4 L213.9,355.4 L213.8,355.4 L213.8,355.4 L213.7,355.5 L213.7,355.5 L213.6,355.6 L213.6,355.6 L212.8,356.0 L212.8,356.0 L212.0,356.6 L212.0,356.6 L211.9,356.6 L211.9,356.6 L211.9,356.7 L211.9,356.7 L211.8,356.7 L211.8,356.7 L210.7,357.4 L210.4,357.6 L210.3,357.6 L210.1,357.8 L210.0,357.8 L209.2,358.3 L209.1,358.3 L208.9,358.4 L208.8,358.5 L208.0,358.8 L207.9,358.8 L207.6,358.9 L207.5,359.0 L206.7,359.2 L206.6,359.2 L206.3,359.3 L206.2,359.3 L205.4,359.5 L205.3,359.5 L205.0,359.6 L204.9,359.6 L204.0,359.7 L203.9,359.7 L203.6,359.7 L203.5,359.7 L202.7,359.7 L202.6,359.7 L202.3,359.7 L202.2,359.7 L201.3,359.6 L201.2,359.6 L200.9,359.5 L200.8,359.5 L200.0,359.3 L199.9,359.3 L199.6,359.2 L199.5,359.2 L198.7,359.0 L198.6,358.9 L198.3,358.8 L198.2,358.8 L197.4,358.5 L197.3,358.4 L197.1,358.3 L197.0,358.3 L196.2,357.8 L196.1,357.8 L195.9,357.6 L195.8,357.6 L195.1,357.1 L195.0,357.1 L194.8,356.9 L194.7,356.8 L194.0,356.3 L193.9,356.2 L193.7,356.0 L193.7,355.9 L193.0,355.3 L193.0,355.3 L192.8,355.0 L192.7,355.0 L192.2,354.3 L192.1,354.2 L191.9,354.0 L191.9,353.9 L191.4,353.2 L191.3,353.1 L191.2,352.9 L191.1,352.8 L190.7,352.0 L190.7,351.9 L190.6,351.7 L190.5,351.6 L190.2,350.8 L190.2,350.7 L190.1,350.4 L190.0,350.3 L189.8,349.5 L189.8,349.4 L189.7,349.1 L189.7,349.0 L189.5,348.2 L189.5,348.1 L189.4,347.8 L189.4,347.7 L189.3,346.8 L189.3,346.7 L189.3,346.4 L189.3,346.3 L189.3,345.9 L189.3,345.9 L189.3,89.8 L189.3,89.8 L189.3,89.8 L165.6,89.8Z" fill="#f8c0b7" transform="translate(-1.2 0)"/>
<rect x="150" y="80" width="56" height="535" fill="url(#vesselV)"/>
<path d="M329.3,288.0 L329.2,289.0 L329.0,290.1 L328.8,291.1 L328.5,292.1 L328.2,293.1 L328.1,294.1 L328.2,295.2 L328.4,296.3 L328.6,297.5 L328.0,298.4 L327.2,299.2 L326.2,300.0 L325.3,300.7 L324.3,301.3 L323.5,302.0 L323.0,302.8 L322.6,303.7 L322.3,304.7 L322.0,305.6 L321.5,306.5 L320.9,307.3 L320.2,308.0 L319.3,308.6 L318.3,308.9 L317.3,309.3 L316.5,309.8 L315.7,310.3 L314.9,310.8 L314.0,311.2 L313.1,311.5 L312.1,311.7 L311.3,312.0 L310.5,312.5 L309.9,313.3 L309.4,314.2 L308.8,315.2 L307.6,314.9 L306.4,314.4 L305.3,313.7 L304.1,313.0 L303.1,312.3 L302.1,311.8 L301.3,311.7 L300.6,312.0 L299.9,312.5 L299.2,313.2 L298.5,313.9 L297.7,314.5 L296.8,314.9 L296.0,314.1 L295.2,313.2 L294.5,312.6 L293.7,312.3 L292.9,312.4 L292.1,312.6 L291.3,312.9 L290.4,313.0 L289.5,313.2 L288.7,313.3 L287.7,313.5 L286.7,313.8 L285.6,314.3 L284.5,314.6 L283.5,314.6 L282.5,314.5 L281.6,314.2 L280.7,313.8 L279.9,313.4 L279.1,312.9 L278.1,312.6 L277.0,312.4 L275.9,312.4 L274.6,312.3 L273.4,312.0 L272.3,311.7 L271.4,311.1 L271.1,310.0 L270.9,308.8 L270.6,307.7 L270.3,306.7 L269.8,305.8 L269.3,304.9 L268.8,304.1 L268.4,303.2 L268.0,302.3 L267.6,301.4 L267.0,300.5 L266.2,299.8 L265.2,299.1 L265.2,298.0 L265.6,296.8 L265.9,295.7 L266.4,294.6 L266.9,293.5 L267.4,292.5 L267.6,291.6 L267.5,290.7 L267.0,289.8 L266.3,288.9 L265.4,288.0 L264.5,287.0 L263.9,286.0 L264.0,285.0 L265.0,284.1 L265.8,283.2 L266.4,282.3 L266.7,281.4 L266.7,280.5 L266.6,279.5 L266.6,278.4 L266.7,277.4 L266.9,276.5 L267.3,275.6 L267.8,274.7 L268.2,273.8 L268.5,272.9 L269.1,272.1 L269.7,271.3 L270.3,270.6 L271.1,269.9 L272.0,269.4 L273.1,269.0 L274.0,268.6 L274.9,268.2 L275.6,267.6 L276.1,266.8 L276.4,265.8 L276.8,264.8 L277.3,263.8 L278.3,263.6 L279.6,263.8 L280.8,264.0 L281.9,264.2 L282.9,264.2 L283.7,263.8 L284.4,263.3 L285.0,262.6 L285.7,261.9 L286.4,261.2 L287.1,260.5 L287.8,259.7 L288.5,258.7 L289.4,258.4 L290.4,258.7 L291.4,258.9 L292.3,259.0 L293.3,259.2 L294.2,259.4 L295.1,259.6 L296.0,259.7 L296.9,259.7 L297.8,259.4 L298.7,258.9 L299.7,258.3 L300.8,257.8 L301.8,257.7 L302.6,258.6 L303.3,259.7 L303.9,260.7 L304.6,261.6 L305.3,262.3 L306.0,262.7 L306.8,262.9 L307.7,263.2 L308.5,263.5 L309.2,264.0 L309.9,264.5 L310.5,265.2 L311.2,265.7 L311.7,266.4 L312.2,267.1 L312.9,267.6 L313.6,268.1 L314.2,268.6 L314.8,269.2 L315.3,269.9 L315.8,270.6 L316.4,271.1 L317.3,271.5 L318.5,271.7 L319.9,271.8 L321.5,271.8 L322.6,272.3 L322.9,273.2 L323.0,274.2 L323.0,275.3 L323.1,276.3 L323.4,277.1 L324.1,277.9 L325.0,278.6 L326.1,279.3 L327.3,280.0 L328.4,280.8 L329.4,281.6 L330.3,282.6 L330.9,283.6 L330.2,284.8 L329.7,285.9 L329.4,286.9Z" fill="#ddf0eb" stroke="#a3d6c9" stroke-width="1.1" stroke-linejoin="round" opacity="0.75"/><path d="M307.2,289.0 L306.8,290.3 L306.5,291.7 L306.9,293.2 L307.2,294.9 L306.9,296.5 L306.7,298.3 L306.3,300.1 L304.9,301.1 L302.7,301.0 L300.9,301.0 L299.7,301.9 L298.5,302.7 L296.9,302.7 L295.4,302.5 L294.0,302.5 L292.6,301.9 L291.5,300.9 L290.2,300.6 L288.6,301.1 L287.2,300.7 L286.6,299.2 L286.2,297.7 L285.3,296.8 L284.3,296.0 L283.4,295.1 L282.1,294.3 L280.5,293.4 L279.9,292.0 L280.5,290.4 L280.7,289.0 L280.0,287.5 L279.7,286.0 L280.4,284.6 L281.4,283.4 L282.2,282.2 L283.4,281.3 L284.8,280.7 L285.4,279.5 L285.6,277.4 L286.4,275.8 L288.0,275.5 L289.6,275.4 L291.0,275.0 L292.5,274.7 L294.0,274.9 L295.5,274.9 L297.0,274.8 L298.3,275.7 L299.1,277.5 L300.0,278.7 L301.4,278.8 L302.9,279.1 L303.8,280.2 L304.4,281.4 L305.0,282.6 L305.0,284.1 L304.6,285.6 L305.0,286.7 L306.3,287.7Z" fill="#c3e5db" opacity="0.75"/>
<path d="M343.8,349.0 L344.3,349.7 L344.1,350.4 L343.3,351.0 L342.6,351.6 L342.2,352.2 L342.1,352.8 L342.2,353.5 L342.4,354.2 L342.5,355.0 L342.6,355.7 L342.7,356.5 L342.9,357.3 L343.1,358.1 L343.4,359.1 L343.1,359.8 L342.9,360.5 L342.6,361.2 L342.2,361.8 L341.7,362.4 L341.2,363.0 L340.8,363.6 L340.5,364.3 L340.3,365.1 L340.1,366.0 L339.8,366.8 L339.4,367.5 L338.7,368.0 L337.8,368.1 L336.9,368.2 L336.1,368.4 L335.3,368.6 L334.6,368.9 L334.0,369.2 L333.3,369.5 L332.6,369.8 L331.9,370.0 L331.2,370.2 L330.5,370.4 L329.9,370.9 L329.0,370.5 L328.2,370.3 L327.4,370.0 L326.6,369.7 L325.9,369.4 L325.2,369.0 L324.5,368.7 L323.9,368.7 L323.3,368.9 L322.6,369.4 L322.0,370.1 L321.3,370.9 L320.6,370.8 L320.0,370.0 L319.5,369.2 L318.9,368.4 L318.4,367.8 L317.8,367.6 L317.2,367.6 L316.6,367.7 L315.9,367.9 L315.2,368.0 L314.5,368.0 L313.9,367.8 L313.2,367.6 L312.9,366.9 L312.5,366.3 L312.0,365.9 L311.5,365.5 L311.0,365.2 L310.6,364.7 L310.2,364.2 L309.9,363.7 L309.5,363.2 L309.0,362.9 L308.4,362.6 L307.6,362.5 L307.1,362.2 L306.7,361.7 L306.5,361.1 L306.3,360.4 L306.2,359.8 L305.9,359.2 L305.5,358.7 L304.9,358.4 L304.1,358.1 L303.3,357.8 L302.4,357.5 L301.6,357.1 L300.8,356.6 L300.8,355.9 L300.8,355.1 L300.7,354.5 L300.4,353.8 L300.0,353.2 L299.6,352.6 L299.2,351.9 L298.8,351.2 L298.3,350.5 L297.7,349.8 L297.0,349.0 L296.1,348.2 L295.8,347.3 L296.1,346.6 L296.6,345.8 L297.2,345.1 L297.8,344.4 L298.3,343.7 L298.7,343.0 L298.8,342.3 L298.8,341.5 L298.7,340.6 L298.6,339.8 L298.7,338.9 L299.1,338.2 L300.2,337.9 L301.2,337.6 L302.1,337.2 L302.8,336.8 L303.3,336.3 L303.7,335.7 L304.2,335.2 L304.7,334.7 L305.3,334.3 L306.0,334.0 L306.6,333.6 L307.1,333.1 L307.6,332.7 L308.2,332.3 L308.7,331.9 L309.4,331.6 L310.1,331.4 L310.8,331.3 L311.5,331.2 L312.1,331.0 L312.6,330.6 L313.1,330.0 L313.5,329.3 L313.9,328.4 L314.3,327.6 L315.1,327.9 L316.0,328.3 L316.8,328.8 L317.6,329.1 L318.2,329.3 L318.9,329.2 L319.5,328.9 L320.1,328.6 L320.7,328.2 L321.3,327.9 L322.0,327.6 L322.7,327.3 L323.4,327.5 L324.0,328.2 L324.6,328.7 L325.1,329.1 L325.7,329.5 L326.3,329.8 L326.8,330.2 L327.4,330.5 L328.0,330.6 L328.7,330.5 L329.4,330.2 L330.3,329.9 L331.1,329.7 L331.6,330.2 L332.0,330.7 L332.4,331.4 L332.9,331.9 L333.3,332.3 L333.9,332.6 L334.7,332.7 L335.5,332.7 L336.3,332.8 L337.0,333.0 L337.7,333.3 L338.2,333.7 L338.7,334.3 L339.0,334.9 L339.4,335.5 L339.9,336.0 L340.4,336.5 L340.8,337.0 L341.2,337.7 L341.4,338.3 L341.6,339.0 L341.9,339.6 L342.4,340.2 L343.1,340.7 L343.9,341.1 L343.8,341.9 L343.5,342.7 L343.1,343.6 L342.6,344.4 L342.1,345.2 L341.8,345.9 L341.8,346.5 L342.1,347.1 L342.6,347.7 L343.3,348.3Z" fill="#ddf0eb" stroke="#a3d6c9" stroke-width="1.1" stroke-linejoin="round" opacity="0.60"/><path d="M331.0,350.0 L330.8,351.1 L330.7,352.3 L330.1,353.3 L329.5,354.2 L329.3,355.4 L329.3,356.7 L328.4,357.6 L326.8,357.6 L325.4,357.5 L324.5,357.7 L323.5,357.9 L322.6,357.9 L321.8,358.3 L320.9,358.8 L320.0,358.7 L319.1,358.1 L318.2,358.3 L317.0,359.1 L315.8,359.5 L314.8,359.0 L313.9,358.4 L313.1,357.7 L312.5,356.7 L312.2,355.7 L311.3,355.0 L310.0,354.5 L309.4,353.5 L309.7,352.2 L309.8,351.1 L309.6,350.0 L309.5,348.9 L309.8,347.8 L310.0,346.8 L310.4,345.7 L311.4,345.0 L312.8,344.8 L313.5,344.1 L313.6,342.9 L314.0,341.8 L314.9,341.2 L315.9,340.7 L316.8,340.3 L317.9,340.3 L319.0,340.7 L320.0,340.5 L321.1,340.0 L322.0,340.4 L322.7,341.6 L323.4,342.4 L324.3,342.6 L325.2,342.8 L326.1,343.2 L327.3,343.4 L328.5,343.8 L329.0,344.8 L329.0,346.0 L329.4,347.0 L330.4,347.8 L331.1,348.8Z" fill="#c3e5db" opacity="0.60"/>
<path d="M378.6,183.0 L379.0,183.9 L379.4,184.8 L379.8,185.8 L380.0,186.7 L380.0,187.7 L379.9,188.6 L379.9,189.6 L379.6,190.5 L379.4,191.4 L379.3,192.3 L379.1,193.3 L378.7,194.1 L378.2,194.9 L377.6,195.7 L377.0,196.4 L376.5,197.2 L376.3,198.2 L376.3,199.3 L376.4,200.5 L376.1,201.5 L374.9,201.9 L373.6,202.0 L372.2,202.0 L370.9,202.1 L369.8,202.2 L369.0,202.6 L368.4,203.2 L368.0,204.0 L367.6,204.9 L367.1,205.8 L366.6,206.6 L366.0,207.3 L364.7,206.9 L363.5,206.4 L362.4,206.2 L361.5,206.2 L360.7,206.4 L359.9,206.6 L359.2,206.8 L358.4,207.1 L357.7,207.4 L357.0,207.9 L356.3,208.6 L355.7,209.5 L354.9,210.2 L354.0,210.1 L353.1,210.0 L352.3,209.7 L351.4,209.4 L350.6,209.3 L349.8,209.3 L348.9,209.5 L348.0,210.0 L347.1,210.5 L346.2,210.9 L345.2,211.1 L344.3,211.1 L343.5,210.5 L342.8,209.9 L342.0,209.4 L341.2,209.1 L340.3,209.0 L339.4,208.8 L338.6,208.6 L337.7,208.3 L336.9,207.9 L336.1,207.5 L335.2,207.3 L334.0,207.4 L333.0,207.3 L332.3,206.5 L331.8,205.8 L331.3,204.9 L330.9,203.9 L330.6,203.0 L330.1,202.2 L329.5,201.6 L328.5,201.3 L327.2,201.2 L325.7,201.1 L324.1,201.0 L322.7,200.7 L322.6,199.5 L322.9,198.2 L323.1,197.0 L323.0,196.0 L322.7,195.1 L322.1,194.3 L321.3,193.6 L320.5,192.8 L319.8,191.9 L319.3,191.0 L318.8,190.1 L318.4,189.1 L318.2,188.1 L318.5,187.1 L318.7,186.0 L318.8,185.0 L319.0,184.0 L319.5,183.0 L320.0,182.0 L320.5,181.1 L320.9,180.2 L321.1,179.3 L321.2,178.3 L321.2,177.4 L321.2,176.4 L321.9,175.6 L322.9,175.0 L324.0,174.4 L325.0,173.8 L325.9,173.2 L326.5,172.6 L326.9,171.8 L327.1,171.0 L327.4,170.2 L327.7,169.4 L328.0,168.7 L328.3,167.8 L328.8,167.2 L329.8,166.9 L330.7,166.5 L331.4,166.1 L332.0,165.6 L332.7,165.1 L333.3,164.6 L334.0,164.1 L334.5,163.5 L334.8,162.6 L334.9,161.4 L335.0,160.0 L335.0,158.5 L335.9,158.2 L337.0,158.3 L338.1,158.5 L339.2,158.7 L340.1,158.8 L341.0,158.6 L341.6,158.1 L342.3,157.3 L342.9,156.4 L343.5,155.5 L344.3,154.8 L345.1,154.3 L346.1,154.3 L347.0,154.9 L348.0,155.3 L348.9,155.3 L349.7,155.2 L350.6,155.0 L351.5,154.8 L352.4,154.8 L353.3,155.0 L354.1,155.1 L355.0,155.2 L355.9,155.0 L356.9,154.6 L357.9,154.6 L358.8,154.8 L359.7,155.1 L360.5,155.6 L361.2,156.3 L361.9,156.8 L362.7,157.2 L363.7,157.4 L364.7,157.3 L365.9,157.1 L367.1,157.0 L368.3,156.9 L369.2,157.4 L369.5,158.6 L369.8,159.8 L370.1,160.8 L370.6,161.7 L371.3,162.3 L372.0,162.9 L372.7,163.5 L373.5,164.1 L374.2,164.7 L375.0,165.3 L376.0,165.8 L377.1,166.2 L377.1,167.3 L377.0,168.5 L376.9,169.6 L376.8,170.7 L376.6,171.7 L376.5,172.8 L376.5,173.7 L376.7,174.5 L377.3,175.2 L378.1,175.9 L379.1,176.6 L379.9,177.4 L380.1,178.3 L379.6,179.3 L379.0,180.3 L378.6,181.2 L378.5,182.1Z" fill="#d4e5ef" stroke="#80add1" stroke-width="1.4" stroke-linejoin="round"/><path d="M362.4,184.0 L362.7,185.4 L362.7,186.8 L362.2,188.1 L361.8,189.4 L361.9,191.1 L361.6,192.7 L360.2,193.6 L358.4,193.8 L357.1,194.3 L356.0,195.1 L354.8,195.6 L353.6,196.3 L352.4,197.3 L351.1,197.9 L349.6,197.6 L348.2,197.1 L346.8,197.4 L345.2,197.7 L343.8,197.0 L342.8,195.8 L341.9,194.6 L341.2,193.3 L340.9,191.8 L340.5,190.6 L339.3,190.0 L338.1,189.1 L337.8,187.8 L338.1,186.4 L338.0,185.2 L337.6,184.0 L337.6,182.7 L337.6,181.5 L337.4,180.0 L337.6,178.7 L338.6,177.7 L339.5,176.7 L339.7,175.1 L339.8,173.1 L340.6,171.6 L341.9,170.7 L343.3,169.9 L344.9,169.6 L346.6,170.0 L348.2,170.4 L349.6,170.3 L351.0,170.3 L352.3,171.4 L353.2,172.8 L354.2,173.6 L355.4,173.9 L356.5,174.5 L357.6,175.1 L359.0,175.5 L360.0,176.5 L360.1,178.0 L360.0,179.4 L360.8,180.4 L361.9,181.4 L362.4,182.7Z" fill="#b0cde0" stroke="#9dc0d8" stroke-width="0.8" stroke-linejoin="round"/>
<path d="M279.4,228.0 L279.5,228.8 L279.6,229.6 L279.4,230.4 L279.4,231.2 L279.5,232.0 L279.9,232.9 L280.4,233.9 L280.1,234.7 L279.6,235.5 L279.0,236.1 L278.3,236.7 L277.6,237.3 L277.1,238.0 L277.1,238.9 L277.4,239.9 L277.9,241.1 L278.4,242.5 L278.6,243.6 L277.2,243.8 L275.8,243.8 L274.6,244.0 L273.8,244.3 L273.3,245.0 L273.0,245.9 L272.9,246.9 L272.7,247.9 L272.4,248.9 L272.1,249.9 L271.8,250.9 L270.6,250.9 L269.7,251.1 L269.0,251.6 L268.2,252.1 L267.5,252.6 L266.7,253.0 L266.0,253.5 L265.3,254.1 L264.7,255.0 L264.1,256.1 L263.5,257.2 L262.6,257.6 L261.6,257.7 L260.6,257.6 L259.6,257.5 L258.7,257.5 L257.8,257.8 L256.9,258.2 L255.9,258.8 L255.0,259.3 L254.0,259.6 L253.0,259.7 L252.0,259.1 L251.1,258.4 L250.2,257.9 L249.3,257.5 L248.4,257.3 L247.5,257.0 L246.6,256.7 L245.8,256.2 L244.9,255.9 L244.0,255.7 L242.9,255.9 L242.2,255.3 L241.6,254.3 L241.1,253.3 L240.7,252.2 L240.3,251.2 L239.9,250.2 L239.3,249.6 L238.5,249.4 L237.3,249.5 L236.0,249.8 L234.6,250.0 L234.0,249.3 L234.1,247.9 L234.3,246.5 L234.2,245.4 L233.8,244.7 L233.1,244.2 L232.1,243.9 L231.1,243.6 L230.1,243.2 L229.2,242.7 L228.4,242.1 L228.0,241.2 L228.0,240.2 L227.8,239.4 L227.3,238.6 L226.9,237.8 L226.5,236.9 L226.4,236.0 L226.3,235.1 L226.0,234.2 L225.6,233.4 L225.1,232.6 L224.6,231.7 L224.7,230.8 L225.0,229.8 L225.6,228.9 L226.2,228.0 L226.7,227.1 L226.9,226.3 L226.8,225.4 L226.6,224.5 L226.3,223.6 L226.1,222.7 L226.4,221.8 L227.5,221.2 L228.6,220.6 L229.4,220.0 L229.9,219.3 L230.2,218.6 L230.4,217.8 L230.6,217.0 L230.7,216.1 L230.8,215.2 L230.6,214.2 L230.5,213.1 L231.5,212.7 L232.3,212.3 L233.1,211.8 L234.0,211.4 L234.8,211.1 L235.4,210.6 L235.9,209.9 L236.0,208.8 L235.9,207.5 L235.8,206.1 L235.9,204.7 L237.1,204.7 L238.3,204.9 L239.5,205.1 L240.4,205.1 L241.2,204.7 L241.8,204.0 L242.3,203.2 L242.9,202.3 L243.6,201.6 L244.3,201.1 L245.2,200.8 L246.2,201.1 L247.1,201.1 L247.9,200.9 L248.8,200.6 L249.6,200.2 L250.5,200.1 L251.4,200.1 L252.2,200.1 L253.1,199.9 L254.0,199.5 L254.9,198.8 L255.9,198.5 L256.8,198.6 L257.7,198.8 L258.5,199.3 L259.4,199.7 L260.3,200.0 L261.2,200.0 L262.3,199.5 L263.5,198.9 L264.7,198.2 L266.0,197.7 L266.8,198.4 L267.4,199.6 L267.9,200.7 L268.6,201.5 L269.4,202.0 L270.3,202.3 L271.3,202.5 L272.3,202.8 L273.4,203.1 L274.4,203.3 L275.6,203.6 L276.1,204.5 L276.2,205.8 L276.4,207.0 L276.6,208.1 L276.8,209.2 L276.9,210.2 L277.1,211.2 L277.5,212.0 L278.1,212.7 L279.0,213.2 L279.9,213.8 L280.2,214.7 L279.8,215.9 L279.3,217.1 L278.8,218.2 L278.5,219.2 L278.5,220.0 L278.8,220.8 L279.3,221.5 L279.7,222.3 L280.0,223.0 L280.1,223.9 L279.9,224.7 L279.4,225.6 L279.2,226.4 L279.2,227.2Z" fill="#d4e5ef" stroke="#80add1" stroke-width="1.4" stroke-linejoin="round"/><path d="M265.8,229.0 L266.0,230.4 L265.2,231.6 L264.4,232.7 L264.3,234.0 L264.4,235.6 L264.0,237.0 L263.6,238.5 L263.0,240.1 L261.8,241.1 L260.0,241.1 L258.4,241.1 L257.2,241.8 L255.9,242.4 L254.4,242.2 L253.0,241.7 L251.7,241.4 L250.5,240.8 L249.4,240.0 L248.3,239.5 L246.9,239.6 L245.7,239.1 L245.2,237.7 L245.0,236.2 L244.3,235.3 L243.4,234.5 L242.6,233.6 L241.6,232.7 L240.3,231.7 L239.5,230.4 L239.5,229.0 L239.5,227.6 L238.9,226.0 L238.5,224.3 L239.2,222.8 L240.4,221.7 L241.6,220.7 L243.0,220.0 L244.6,219.6 L245.7,219.0 L246.5,217.7 L247.5,216.7 L249.0,216.7 L250.5,217.1 L251.7,216.9 L253.0,216.6 L254.3,216.8 L255.5,217.0 L256.9,217.1 L258.0,217.8 L258.7,219.1 L259.6,220.0 L261.0,220.1 L262.6,220.3 L263.7,221.2 L264.4,222.4 L265.0,223.6 L265.3,225.0 L265.1,226.4 L265.1,227.7Z" fill="#b0cde0" stroke="#9dc0d8" stroke-width="0.8" stroke-linejoin="round"/>
<path d="M322.5,117.0 L322.4,118.0 L321.8,118.9 L321.2,119.8 L320.6,120.7 L320.2,121.5 L320.1,122.5 L320.2,123.4 L320.3,124.4 L320.5,125.4 L320.5,126.4 L320.6,127.5 L320.7,128.6 L321.0,129.8 L320.2,130.5 L319.6,131.3 L319.0,132.1 L318.4,132.9 L317.7,133.6 L317.0,134.3 L316.3,135.1 L315.9,135.9 L315.6,136.9 L315.6,138.2 L315.7,139.7 L315.8,141.3 L315.2,142.2 L313.8,142.2 L312.3,142.1 L310.9,142.0 L309.6,142.0 L308.6,142.2 L307.8,142.7 L307.2,143.5 L306.5,144.3 L305.8,145.1 L305.0,145.6 L304.1,146.0 L303.1,146.3 L301.9,145.8 L300.8,145.5 L299.8,145.5 L298.8,145.6 L297.9,145.8 L297.0,145.8 L296.0,145.7 L295.1,145.5 L294.2,145.3 L293.3,145.4 L292.4,145.6 L291.5,146.1 L290.6,146.4 L289.7,146.2 L288.8,145.8 L287.9,145.2 L287.1,144.6 L286.3,144.0 L285.5,143.7 L284.7,143.6 L283.7,143.8 L282.7,144.1 L281.6,144.4 L280.6,144.6 L279.5,144.7 L279.1,143.4 L278.6,142.2 L278.2,141.2 L277.6,140.5 L277.0,139.9 L276.3,139.4 L275.5,139.0 L274.8,138.5 L274.0,138.1 L273.2,137.8 L272.1,137.7 L270.8,137.7 L269.9,137.2 L269.7,136.2 L269.5,135.2 L269.4,134.2 L269.2,133.2 L269.0,132.3 L268.6,131.5 L267.9,130.9 L266.9,130.5 L265.7,130.2 L264.3,129.8 L263.1,129.3 L262.1,128.6 L262.1,127.6 L262.2,126.5 L262.1,125.5 L261.8,124.6 L261.1,123.8 L260.3,122.9 L259.5,122.1 L258.9,121.1 L258.4,120.1 L258.1,119.1 L257.9,118.1 L257.6,117.0 L257.3,115.9 L257.3,114.8 L257.2,113.8 L257.3,112.7 L257.7,111.6 L258.2,110.7 L258.9,109.7 L259.5,108.8 L259.8,107.8 L259.9,106.7 L259.7,105.6 L259.5,104.3 L259.3,103.1 L260.6,102.4 L262.1,102.0 L263.7,101.7 L265.1,101.4 L266.2,101.0 L267.0,100.4 L267.6,99.6 L267.9,98.7 L268.3,97.8 L268.7,96.9 L269.1,96.0 L269.5,95.0 L270.4,94.6 L271.8,94.7 L273.0,94.6 L273.9,94.3 L274.8,94.0 L275.6,93.7 L276.5,93.3 L277.3,93.0 L278.0,92.5 L278.7,91.8 L279.2,90.9 L279.7,89.8 L280.3,88.8 L281.3,88.7 L282.3,88.8 L283.4,89.0 L284.4,89.3 L285.3,89.4 L286.2,89.3 L287.1,88.9 L287.9,88.4 L288.8,87.9 L289.6,87.6 L290.6,87.4 L291.5,87.4 L292.4,87.8 L293.3,88.3 L294.2,88.7 L295.0,89.0 L295.9,89.1 L296.8,89.2 L297.7,89.5 L298.5,89.8 L299.3,90.2 L300.1,90.4 L301.1,90.4 L302.2,90.0 L303.4,89.4 L304.2,90.0 L304.9,90.7 L305.5,91.6 L305.9,92.6 L306.4,93.5 L307.0,94.2 L307.8,94.6 L308.8,94.7 L310.1,94.5 L311.6,94.2 L313.0,94.1 L314.5,94.0 L315.2,94.8 L315.1,96.2 L315.1,97.5 L315.4,98.5 L315.9,99.3 L316.6,99.9 L317.4,100.6 L318.2,101.2 L318.9,101.9 L319.5,102.7 L320.1,103.5 L320.8,104.3 L321.5,105.1 L321.6,106.2 L321.7,107.2 L321.8,108.2 L321.7,109.2 L321.5,110.3 L321.2,111.3 L321.0,112.3 L321.0,113.3 L321.3,114.2 L321.7,115.1 L322.2,116.0Z" fill="#d4e5ef" stroke="#80add1" stroke-width="1.4" stroke-linejoin="round"/><path d="M304.2,118.0 L304.4,119.5 L304.6,121.0 L304.0,122.4 L302.6,123.4 L301.7,124.5 L301.6,126.0 L301.2,127.7 L300.5,129.1 L299.5,130.4 L298.3,131.6 L296.7,131.8 L294.9,131.4 L293.4,131.5 L292.0,132.1 L290.5,132.1 L289.1,131.2 L287.9,130.2 L286.7,129.7 L285.6,129.1 L284.5,128.4 L283.2,128.1 L281.6,127.9 L280.6,126.9 L280.5,125.2 L280.2,123.9 L279.2,123.0 L278.1,122.0 L277.4,120.8 L276.5,119.5 L275.6,118.0 L275.6,116.4 L276.0,114.9 L276.0,113.3 L275.5,111.3 L276.0,109.6 L277.6,108.6 L279.4,108.0 L280.9,107.4 L282.5,107.0 L284.1,106.9 L285.2,106.2 L286.3,105.1 L287.7,104.9 L289.2,105.5 L290.5,105.8 L291.8,105.4 L293.2,105.1 L294.5,105.5 L295.9,106.0 L297.1,106.5 L298.0,107.6 L298.6,109.0 L299.8,109.7 L301.6,109.9 L303.1,110.7 L303.7,112.1 L304.1,113.6 L304.5,115.0 L304.6,116.5Z" fill="#b0cde0" stroke="#9dc0d8" stroke-width="0.8" stroke-linejoin="round"/>
<path d="M383.9,117.0 L383.5,118.0 L382.8,118.9 L382.0,119.7 L381.4,120.6 L381.1,121.5 L381.2,122.4 L381.6,123.4 L382.1,124.5 L382.6,125.6 L383.0,126.7 L383.2,127.9 L383.0,128.9 L381.7,129.4 L380.7,130.0 L379.9,130.7 L379.3,131.5 L378.8,132.2 L378.1,132.9 L377.4,133.6 L376.8,134.3 L376.2,135.0 L375.9,135.9 L375.6,136.9 L375.1,137.7 L374.1,138.1 L373.1,138.5 L372.1,138.7 L371.1,138.8 L370.1,139.1 L369.4,139.5 L368.7,140.2 L368.2,141.0 L367.7,141.8 L367.0,142.5 L366.3,143.1 L365.3,143.2 L364.3,143.1 L363.3,143.1 L362.5,143.3 L361.7,143.6 L360.9,144.1 L360.1,144.5 L359.2,144.8 L358.4,145.0 L357.5,145.4 L356.7,146.0 L355.8,146.8 L354.9,146.6 L353.9,146.2 L353.0,145.8 L352.1,145.2 L351.3,144.6 L350.4,144.0 L349.6,143.7 L348.8,143.7 L347.8,144.2 L346.8,144.9 L345.7,145.6 L344.6,145.9 L344.0,144.6 L343.6,143.2 L343.1,141.9 L342.6,141.0 L342.0,140.5 L341.1,140.3 L340.2,140.3 L339.3,140.2 L338.3,140.1 L337.5,139.8 L336.6,139.5 L336.0,138.9 L335.6,138.0 L335.1,137.4 L334.4,136.8 L333.7,136.3 L333.1,135.7 L332.5,135.0 L332.1,134.3 L331.5,133.7 L330.8,133.1 L329.9,132.7 L328.9,132.3 L328.2,131.7 L327.9,130.8 L327.8,129.8 L327.8,128.8 L327.9,127.9 L327.8,127.0 L327.5,126.2 L326.9,125.5 L326.3,124.8 L325.7,124.0 L325.1,123.2 L324.7,122.4 L325.3,121.4 L326.1,120.4 L326.6,119.5 L327.0,118.6 L327.1,117.8 L327.1,117.0 L327.2,116.2 L327.2,115.4 L327.1,114.6 L326.8,113.7 L326.1,112.7 L325.4,111.7 L326.1,111.0 L326.8,110.3 L327.5,109.6 L328.2,108.9 L328.8,108.3 L329.2,107.6 L329.2,106.7 L328.9,105.7 L328.3,104.4 L327.7,103.1 L327.3,101.8 L327.4,100.7 L328.4,100.3 L329.3,99.8 L330.1,99.2 L330.6,98.4 L330.8,97.5 L331.0,96.4 L331.3,95.3 L331.7,94.3 L332.2,93.5 L332.9,92.7 L333.6,92.0 L334.4,91.4 L335.2,90.8 L336.0,90.2 L336.8,89.7 L337.8,89.3 L338.8,89.1 L339.8,89.0 L340.8,88.9 L341.8,88.6 L342.6,88.1 L343.4,87.4 L344.1,86.5 L345.2,86.5 L346.3,87.0 L347.4,87.8 L348.5,88.5 L349.5,89.1 L350.4,89.4 L351.3,89.3 L352.1,88.9 L353.0,88.4 L353.9,88.0 L354.9,87.6 L355.8,87.2 L356.6,88.5 L357.3,89.6 L358.1,90.4 L358.8,90.9 L359.6,91.2 L360.4,91.5 L361.2,91.8 L362.0,92.0 L362.8,92.1 L363.8,92.0 L364.9,91.7 L365.9,91.6 L366.5,92.5 L366.9,93.4 L367.3,94.4 L367.7,95.4 L368.0,96.3 L368.5,97.0 L369.2,97.4 L370.1,97.7 L371.0,97.9 L371.9,98.1 L372.6,98.6 L372.9,99.4 L372.9,100.5 L373.0,101.5 L373.2,102.3 L373.6,103.0 L374.2,103.5 L374.8,104.1 L375.4,104.7 L375.8,105.4 L376.1,106.1 L376.6,106.8 L377.3,107.4 L377.7,108.1 L378.0,108.9 L378.4,109.6 L378.6,110.4 L378.7,111.3 L378.8,112.1 L378.9,112.9 L379.3,113.7 L380.1,114.4 L381.2,115.2 L382.6,116.1Z" fill="#d4e5ef" stroke="#80add1" stroke-width="1.4" stroke-linejoin="round"/><path d="M364.3,118.0 L364.5,119.3 L364.3,120.6 L363.1,121.6 L361.6,122.3 L360.9,123.2 L360.7,124.3 L360.3,125.5 L359.9,126.7 L359.5,128.3 L358.6,129.5 L357.3,129.9 L355.9,130.0 L354.7,130.8 L353.4,131.8 L352.0,131.8 L350.6,131.2 L349.3,130.8 L348.0,130.3 L346.9,129.5 L345.6,129.0 L344.0,129.0 L342.4,128.7 L341.6,127.4 L341.3,125.7 L340.8,124.5 L340.1,123.3 L339.7,122.0 L339.4,120.7 L338.9,119.4 L338.8,118.0 L339.5,116.7 L340.1,115.5 L340.0,114.1 L339.7,112.5 L340.3,111.2 L341.6,110.4 L342.8,109.7 L344.1,109.2 L345.5,109.1 L346.7,108.8 L347.4,107.7 L348.3,106.7 L349.5,106.5 L350.8,106.6 L352.0,106.0 L353.3,105.2 L354.8,104.8 L356.3,104.7 L358.0,104.6 L359.4,105.2 L360.2,106.7 L360.9,108.1 L362.2,108.9 L363.6,109.5 L364.5,110.8 L364.8,112.3 L365.1,113.7 L365.2,115.2 L364.7,116.7Z" fill="#b0cde0" stroke="#9dc0d8" stroke-width="0.8" stroke-linejoin="round"/>
<path d="M262.2,158.0 L261.8,158.8 L261.7,159.6 L262.1,160.4 L262.6,161.2 L263.2,162.1 L263.6,163.1 L263.9,164.0 L264.1,165.0 L264.4,165.9 L264.2,166.8 L264.0,167.7 L264.0,168.7 L263.8,169.6 L263.5,170.4 L263.0,171.2 L262.4,172.0 L262.0,172.8 L261.8,173.7 L261.7,174.8 L261.6,175.9 L261.1,176.7 L260.2,177.2 L259.1,177.5 L258.0,177.7 L257.0,178.0 L256.2,178.5 L255.6,179.1 L255.2,180.0 L254.7,180.8 L254.1,181.6 L253.6,182.4 L252.6,182.5 L251.3,182.2 L250.2,182.0 L249.2,182.0 L248.4,182.2 L247.6,182.4 L246.8,182.7 L246.0,183.1 L245.3,183.5 L244.6,184.3 L244.0,185.4 L243.2,185.9 L242.3,185.5 L241.3,185.1 L240.4,184.6 L239.5,184.0 L238.6,183.7 L237.8,183.7 L237.0,184.0 L236.2,184.7 L235.3,185.4 L234.4,186.0 L233.5,186.0 L232.7,185.0 L232.0,184.0 L231.4,183.2 L230.6,182.8 L229.8,182.7 L229.0,182.7 L228.2,182.6 L227.4,182.3 L226.7,181.9 L226.0,181.4 L225.3,180.9 L224.8,180.2 L224.1,179.8 L223.5,179.3 L222.8,178.8 L222.3,178.2 L221.9,177.5 L221.4,176.9 L220.8,176.4 L220.0,176.1 L218.9,176.1 L217.8,176.0 L217.4,175.3 L217.2,174.4 L217.1,173.4 L217.0,172.5 L216.8,171.7 L216.3,171.2 L215.4,170.8 L214.3,170.5 L213.1,170.2 L211.9,169.8 L210.9,169.3 L211.4,168.1 L211.9,167.0 L212.1,166.1 L212.0,165.2 L211.8,164.5 L211.4,163.7 L211.0,163.0 L210.6,162.2 L210.2,161.4 L209.6,160.6 L208.7,159.8 L209.1,158.9 L209.7,158.0 L210.2,157.2 L210.8,156.3 L211.3,155.6 L211.8,154.8 L212.0,154.0 L211.9,153.2 L211.6,152.3 L211.3,151.4 L211.1,150.5 L211.6,149.8 L212.5,149.2 L213.3,148.6 L214.0,148.0 L214.3,147.3 L214.4,146.5 L214.4,145.6 L214.5,144.7 L214.7,143.9 L215.0,143.1 L215.4,142.3 L215.9,141.6 L216.5,141.0 L216.9,140.3 L217.3,139.5 L217.8,138.8 L218.4,138.2 L219.0,137.6 L219.6,137.0 L220.0,136.1 L220.3,135.0 L220.4,133.6 L220.9,132.7 L221.9,132.5 L223.0,132.6 L224.1,132.8 L225.2,132.9 L226.1,132.8 L226.8,132.4 L227.5,131.5 L228.1,130.5 L228.7,129.4 L229.4,128.4 L230.4,128.4 L231.5,129.4 L232.6,130.3 L233.6,130.8 L234.4,130.9 L235.3,130.8 L236.1,130.6 L237.0,130.5 L237.9,130.4 L238.7,130.3 L239.6,130.0 L240.5,130.0 L241.3,130.6 L242.2,131.0 L242.9,131.4 L243.7,131.9 L244.4,132.4 L245.1,132.9 L245.9,133.3 L246.8,133.4 L247.7,133.3 L248.7,133.2 L249.6,133.3 L250.2,134.1 L250.6,135.0 L251.0,135.9 L251.5,136.7 L252.1,137.2 L252.8,137.6 L253.6,138.0 L254.3,138.3 L255.0,138.8 L255.6,139.4 L256.2,140.0 L256.1,141.1 L256.2,142.1 L256.4,143.0 L256.6,143.7 L256.9,144.5 L257.0,145.3 L257.2,146.0 L257.5,146.7 L258.1,147.2 L259.1,147.6 L260.3,147.9 L260.1,148.9 L259.7,149.8 L259.2,150.8 L258.7,151.7 L258.4,152.5 L258.5,153.2 L259.0,153.8 L260.0,154.4 L261.2,154.9 L262.4,155.6 L263.4,156.3 L262.9,157.2Z" fill="#d4e5ef" stroke="#80add1" stroke-width="1.4" stroke-linejoin="round"/><path d="M249.2,159.0 L249.8,160.5 L249.4,161.8 L248.2,163.0 L247.5,164.1 L247.4,165.6 L246.9,166.9 L246.0,168.0 L245.1,169.1 L244.0,170.0 L242.4,170.1 L240.8,169.8 L239.6,170.1 L238.5,170.7 L237.2,170.7 L236.0,170.0 L234.9,169.5 L233.8,169.4 L232.7,169.2 L231.5,169.1 L230.0,169.3 L228.5,169.4 L227.5,168.5 L227.1,167.0 L226.6,165.9 L225.6,165.0 L224.9,163.9 L224.7,162.7 L224.3,161.5 L224.0,160.3 L224.3,159.0 L224.7,157.8 L224.3,156.5 L223.6,155.0 L223.7,153.5 L224.7,152.5 L225.7,151.5 L226.6,150.5 L227.7,149.7 L228.8,149.0 L229.6,147.9 L230.5,146.7 L231.9,146.4 L233.4,146.8 L234.7,146.8 L236.0,146.3 L237.3,146.3 L238.6,146.9 L239.7,147.6 L240.7,148.5 L241.2,149.9 L241.6,151.3 L242.5,151.8 L243.9,151.9 L245.0,152.5 L245.6,153.5 L246.3,154.4 L247.3,155.3 L247.9,156.5 L248.4,157.7Z" fill="#b0cde0" stroke="#9dc0d8" stroke-width="0.8" stroke-linejoin="round"/>
<path d="M336.4,237.0 L336.2,238.0 L335.8,238.9 L335.3,239.8 L334.9,240.6 L334.5,241.5 L334.5,242.4 L334.5,243.4 L334.7,244.4 L334.7,245.3 L334.7,246.3 L334.5,247.3 L334.3,248.2 L334.1,249.2 L333.6,250.0 L332.9,250.7 L332.3,251.5 L331.7,252.2 L331.2,253.0 L330.5,253.7 L329.8,254.3 L329.1,254.9 L328.6,255.7 L328.3,256.7 L328.3,257.9 L328.4,259.4 L328.6,261.1 L328.4,262.4 L327.2,262.6 L326.0,262.7 L324.7,262.7 L323.5,262.8 L322.6,263.1 L321.8,263.7 L321.2,264.6 L320.6,265.7 L320.1,266.9 L319.4,268.0 L318.6,268.9 L317.8,269.7 L316.9,270.4 L315.6,270.0 L314.4,269.8 L313.3,269.7 L312.3,269.9 L311.2,270.0 L310.2,270.1 L309.1,270.0 L308.1,269.8 L307.0,269.5 L306.0,269.3 L305.0,269.3 L304.0,269.5 L302.9,269.7 L301.9,269.6 L300.9,269.1 L300.0,268.4 L299.2,267.6 L298.4,266.7 L297.6,265.9 L296.8,265.4 L295.9,265.2 L294.9,265.1 L293.8,265.1 L292.8,265.1 L291.7,265.0 L290.7,264.9 L289.8,264.4 L289.3,263.3 L288.8,262.4 L288.1,261.6 L287.4,261.0 L286.6,260.4 L285.9,259.8 L285.1,259.2 L284.4,258.6 L283.5,258.1 L282.5,257.7 L281.3,257.4 L279.8,257.3 L278.2,257.2 L278.0,256.1 L277.9,254.8 L278.0,253.6 L278.2,252.3 L278.4,251.1 L278.4,250.0 L278.1,249.1 L277.6,248.2 L276.8,247.5 L276.0,246.8 L275.2,245.9 L274.7,245.0 L274.4,244.1 L274.8,242.9 L275.6,241.8 L276.1,240.8 L276.4,239.8 L276.4,238.9 L276.3,237.9 L276.3,237.0 L276.4,236.1 L276.6,235.2 L277.0,234.3 L277.2,233.4 L277.3,232.4 L277.1,231.5 L276.9,230.5 L277.1,229.6 L277.4,228.7 L277.9,227.9 L278.5,227.1 L279.2,226.4 L279.9,225.7 L280.4,224.9 L280.5,224.0 L280.5,223.0 L280.3,221.8 L280.1,220.6 L280.0,219.3 L280.0,218.1 L281.3,217.8 L282.6,217.6 L283.8,217.4 L284.7,217.0 L285.5,216.5 L286.1,215.8 L286.7,215.1 L287.2,214.3 L287.8,213.5 L288.4,212.8 L288.9,211.9 L289.4,210.8 L289.8,209.6 L290.6,209.0 L291.7,209.0 L292.8,208.9 L293.8,208.8 L294.9,208.8 L295.9,208.8 L296.8,208.7 L297.7,208.3 L298.4,207.6 L299.2,206.6 L300.0,205.6 L300.9,204.5 L301.8,203.7 L302.8,203.3 L303.9,203.6 L305.0,203.9 L306.0,204.0 L307.0,203.9 L308.1,203.6 L309.2,203.2 L310.3,202.8 L311.4,202.6 L312.6,202.6 L313.7,202.8 L314.7,203.0 L315.9,203.1 L317.0,203.0 L318.1,203.5 L319.1,204.0 L320.0,204.5 L320.9,205.3 L321.7,206.3 L322.3,207.4 L322.9,208.4 L323.5,209.4 L324.3,210.0 L325.3,210.5 L326.4,210.7 L327.6,210.9 L328.8,211.1 L329.2,212.3 L329.0,214.0 L328.7,215.7 L328.4,217.3 L328.3,218.6 L328.5,219.6 L328.9,220.4 L329.5,221.0 L330.2,221.7 L330.8,222.3 L331.4,223.0 L332.1,223.7 L332.8,224.4 L333.3,225.2 L333.0,226.3 L332.9,227.3 L333.0,228.2 L333.1,229.1 L333.2,230.0 L333.2,230.9 L333.2,231.8 L333.4,232.7 L333.8,233.5 L334.4,234.3 L335.1,235.2 L335.9,236.1Z" fill="#d4e5ef" stroke="#80add1" stroke-width="1.4" stroke-linejoin="round"/><path d="M319.2,238.0 L319.2,239.5 L319.3,241.0 L319.0,242.5 L317.7,243.7 L316.3,244.5 L315.8,245.9 L315.8,247.7 L315.2,249.3 L314.0,250.4 L312.7,251.4 L311.5,252.5 L309.9,253.0 L308.2,253.3 L306.7,253.9 L305.0,254.3 L303.4,253.3 L302.1,251.5 L301.0,250.2 L299.8,249.7 L298.6,249.0 L297.6,248.2 L296.4,247.6 L295.2,246.8 L294.7,245.5 L294.6,244.0 L293.7,243.0 L292.2,242.1 L291.5,240.9 L291.5,239.4 L291.4,238.0 L291.1,236.5 L291.2,235.1 L291.2,233.5 L290.7,231.6 L290.4,229.5 L291.3,228.1 L293.2,227.3 L294.7,226.6 L296.0,225.6 L297.5,225.0 L299.1,224.8 L300.6,224.4 L302.1,224.2 L303.6,224.7 L305.0,225.4 L306.4,225.1 L307.9,224.1 L309.5,224.0 L310.8,224.9 L312.0,225.9 L313.1,226.8 L313.9,228.1 L314.6,229.4 L315.8,230.1 L317.2,230.9 L317.7,232.3 L317.5,233.9 L317.8,235.3 L318.7,236.6Z" fill="#b0cde0" stroke="#9dc0d8" stroke-width="0.8" stroke-linejoin="round"/>
<path d="M362.3,414.8 L362.4,415.8 L362.2,416.7 L361.8,417.6 L361.4,418.5 L361.0,419.4 L360.9,420.3 L361.0,421.3 L361.4,422.3 L361.8,423.5 L361.4,424.4 L360.3,425.0 L359.1,425.5 L357.9,426.0 L356.9,426.5 L356.3,427.2 L356.0,428.0 L355.9,428.9 L355.9,429.9 L355.8,431.0 L355.7,432.0 L355.6,433.1 L354.4,433.3 L353.2,433.5 L352.2,433.8 L351.4,434.2 L350.8,434.8 L350.2,435.4 L349.6,436.0 L349.0,436.7 L348.6,437.6 L348.3,438.8 L348.1,440.2 L347.9,441.7 L346.9,441.9 L345.9,442.0 L344.8,442.1 L343.8,442.1 L342.9,442.3 L342.0,442.6 L341.3,443.3 L340.5,444.2 L339.8,445.2 L339.0,446.0 L338.1,446.5 L337.0,446.6 L336.0,446.2 L334.9,445.9 L333.9,445.8 L333.0,445.9 L332.0,446.1 L331.0,446.3 L330.0,446.3 L329.0,446.1 L328.1,445.9 L327.1,445.7 L326.1,445.9 L325.1,445.8 L324.1,445.4 L323.2,445.0 L322.4,444.4 L321.6,443.6 L320.9,442.8 L320.1,442.2 L319.3,441.8 L318.2,441.8 L317.0,442.2 L315.6,442.6 L314.1,443.0 L313.5,442.0 L313.3,440.6 L313.1,439.1 L312.9,437.9 L312.4,437.0 L311.7,436.4 L310.7,436.1 L309.7,435.7 L308.7,435.4 L307.7,434.9 L306.8,434.4 L305.9,433.8 L306.2,432.3 L306.3,431.1 L306.3,430.0 L306.1,429.0 L306.0,428.0 L306.0,427.0 L306.0,426.1 L305.9,425.1 L305.7,424.3 L305.2,423.5 L304.6,422.8 L304.2,421.9 L304.5,420.9 L305.0,420.0 L305.6,419.0 L306.1,418.1 L306.5,417.2 L306.6,416.4 L306.4,415.6 L306.1,414.8 L305.7,414.0 L305.5,413.1 L305.4,412.3 L305.7,411.5 L306.3,410.7 L306.7,410.0 L306.8,409.2 L306.8,408.3 L306.7,407.4 L306.7,406.6 L306.7,405.7 L306.7,404.8 L306.6,403.8 L306.2,402.7 L305.5,401.3 L305.7,400.4 L306.3,399.6 L307.0,398.9 L307.8,398.4 L308.7,397.8 L309.4,397.3 L309.9,396.5 L310.1,395.5 L310.0,394.1 L309.8,392.6 L309.7,391.0 L309.7,389.5 L311.1,389.6 L312.6,389.8 L313.9,389.9 L315.0,389.8 L315.8,389.3 L316.5,388.5 L317.1,387.7 L317.8,386.8 L318.5,386.1 L319.3,385.5 L320.2,385.0 L321.1,384.5 L322.2,384.6 L323.2,384.4 L324.1,384.2 L325.1,383.9 L326.1,383.8 L327.1,383.9 L328.1,383.9 L329.1,383.8 L330.0,383.5 L331.0,383.0 L332.0,382.4 L333.0,382.1 L334.0,382.4 L335.0,382.9 L335.9,383.6 L336.8,384.2 L337.8,384.6 L338.7,384.8 L339.7,384.7 L340.8,384.6 L341.8,384.5 L342.9,384.6 L343.9,384.8 L344.6,385.7 L345.1,387.0 L345.6,388.1 L346.2,389.0 L346.8,389.7 L347.5,390.4 L348.1,391.2 L348.7,391.9 L349.4,392.4 L350.2,392.8 L351.3,392.9 L352.7,392.8 L352.9,393.9 L353.0,395.1 L352.9,396.4 L352.8,397.6 L352.8,398.7 L353.0,399.6 L353.5,400.2 L354.4,400.6 L355.6,400.9 L356.8,401.2 L357.9,401.6 L358.7,402.2 L358.3,403.4 L358.1,404.5 L358.0,405.4 L358.4,406.2 L359.0,407.0 L359.7,407.7 L360.4,408.5 L360.9,409.3 L361.2,410.2 L361.5,411.1 L361.8,412.0 L362.1,412.9 L362.2,413.9Z" fill="#d4e5ef" stroke="#80add1" stroke-width="1.4" stroke-linejoin="round"/><path d="M343.4,415.8 L342.3,417.0 L342.1,418.2 L342.3,419.5 L341.8,420.6 L340.9,421.5 L340.3,422.6 L340.0,423.9 L339.3,425.1 L338.7,426.3 L338.1,428.0 L337.0,429.4 L335.4,429.5 L333.8,429.0 L332.4,429.3 L331.0,429.9 L329.5,430.1 L328.0,429.9 L326.4,429.9 L324.9,429.4 L323.9,428.1 L322.9,426.9 L321.6,426.3 L320.1,425.6 L319.5,424.2 L319.5,422.5 L319.3,421.0 L319.0,419.7 L318.8,418.4 L318.4,417.1 L317.4,415.8 L316.7,414.3 L317.3,412.9 L318.5,411.7 L319.0,410.5 L319.3,409.1 L320.2,408.0 L321.4,407.2 L322.5,406.4 L323.7,405.8 L325.2,405.7 L326.4,405.5 L327.2,404.2 L328.2,402.6 L329.5,401.9 L331.0,402.0 L332.5,401.9 L334.0,401.9 L335.4,402.4 L336.8,402.8 L338.5,402.9 L340.1,403.3 L341.0,404.7 L341.5,406.3 L342.6,407.4 L343.9,408.4 L344.7,409.7 L345.0,411.2 L345.2,412.8 L344.8,414.4Z" fill="#b0cde0" stroke="#9dc0d8" stroke-width="0.8" stroke-linejoin="round"/>
<path d="M281,313 C298,303 311,294 320,284.5 C333,269 349,252 366,236 C379,222 388,200 394,164" fill="none" stroke="#bdb6b3" stroke-width="15" opacity="0.5"/><path d="M352,257 C366,244 378,228 386,206 C389,196 391,186 393,172" fill="none" stroke="#e58d86" stroke-width="2.5" opacity="0.6"/>
<path d="M290,340 C310,339 335,341 362.5,353 C375,357 385,358.5 394,359" fill="none" stroke="#c2bab6" stroke-width="9" opacity="0.45"/><ellipse cx="381" cy="355.5" rx="17" ry="9.5" fill="#c9c2be" opacity="0.7" transform="rotate(8 381 355.5)"/>
<g transform="translate(343.5 264.5) rotate(22.0)"><ellipse rx="9.5" ry="5.0" fill="#e4484d" stroke="#c9353c" stroke-width="0.8"/><path d="M1.4,-2.2 C7.1,-0.5 5.2,2.8 -2.4,3.0 C1.9,1.8 2.9,-0.2 1.4,-2.2Z" fill="#c2313a"/><ellipse cx="-3.3" cy="-1.5" rx="2.1" ry="1.8" fill="#f47a7a" opacity="0.8"/></g>
<g transform="translate(394.0 252.0) rotate(-30.0)"><ellipse rx="8.0" ry="4.5" fill="#e4484d" stroke="#c9353c" stroke-width="0.8"/><path d="M1.2,-2.0 C6.0,-0.5 4.4,2.5 -2.0,2.7 C1.6,1.6 2.4,-0.2 1.2,-2.0Z" fill="#c2313a"/><ellipse cx="-2.8" cy="-1.3" rx="1.8" ry="1.6" fill="#f47a7a" opacity="0.8"/></g>
<path d="M312.5,51 C330,53 352,57 370,65 C382,70.5 393,77.5 410,89.5 C391,90.5 368,88 352,82 C335,74 322,62 312.5,51Z" fill="#6b5db5" stroke="#43389a" stroke-width="1.2" stroke-linejoin="round"/><ellipse cx="359.5" cy="72.8" rx="10" ry="5" fill="#4d41a3" transform="rotate(17 359.5 72.8)"/>
<path d="M191.0,322.0 Q236.2,312.0 264.0,275.0 Q222.1,290.1 191.0,322.0Z" fill="#6b5db5" stroke="#43389a" stroke-width="1.2" stroke-linejoin="round"/><ellipse cx="232.6" cy="298.4" rx="9.5" ry="5.5" fill="#4d41a3" transform="rotate(-32.8 232.6 298.4)"/>
<path d="M294.0,442.0 Q344.2,464.6 399.0,458.5 Q349.4,432.0 294.0,442.0Z" fill="#6b5db5" stroke="#43389a" stroke-width="1.2" stroke-linejoin="round"/><ellipse cx="345.7" cy="448.3" rx="10.5" ry="5.0" fill="#4d41a3" transform="rotate(8.9 345.7 448.3)"/>
<circle cx="393.5" cy="292.5" r="25.5" fill="#b7b0e6" stroke="#8f86d0" stroke-width="1.4"/><circle cx="393.5" cy="292.5" r="17.3" fill="#9a90d3" stroke="#8c82c9" stroke-width="1"/>
<circle cx="260.6" cy="266.8" r="18.6" fill="#eba4ac"/><path d="M261.0,254.1 L254.1,232.3 L249.9,233.3 L254.2,255.8Z" fill="#eba4ac"/><circle cx="252.0" cy="232.8" r="2.2" fill="#eba4ac"/><path d="M266.3,255.4 L268.1,237.4 L263.9,236.6 L259.3,254.1Z" fill="#eba4ac"/><circle cx="266.0" cy="237.0" r="2.2" fill="#eba4ac"/><path d="M252.3,257.1 L232.2,245.5 L229.8,249.1 L248.4,263.0Z" fill="#eba4ac"/><circle cx="231.0" cy="247.3" r="2.2" fill="#eba4ac"/><path d="M248.7,262.1 L225.6,261.4 L225.2,265.6 L248.1,269.2Z" fill="#eba4ac"/><circle cx="225.4" cy="263.5" r="2.2" fill="#eba4ac"/><path d="M273.3,265.2 L296.3,253.8 L294.7,249.8 L270.5,258.7Z" fill="#eba4ac"/><circle cx="295.5" cy="251.8" r="2.2" fill="#eba4ac"/><path d="M272.4,271.6 L295.3,272.6 L295.7,268.4 L273.2,264.6Z" fill="#eba4ac"/><circle cx="295.5" cy="270.5" r="2.2" fill="#eba4ac"/><path d="M271.0,274.1 L283.8,277.0 L285.2,273.0 L273.3,267.4Z" fill="#eba4ac"/><circle cx="284.5" cy="275.0" r="2.2" fill="#eba4ac"/><path d="M264.0,279.1 L276.9,297.5 L280.5,295.3 L270.0,275.4Z" fill="#eba4ac"/><circle cx="278.7" cy="296.4" r="2.2" fill="#eba4ac"/><path d="M257.7,279.2 L259.8,291.6 L264.0,291.4 L264.8,278.8Z" fill="#eba4ac"/><circle cx="261.9" cy="291.5" r="2.2" fill="#eba4ac"/><path d="M250.5,274.5 L238.5,293.0 L241.9,295.6 L256.2,278.8Z" fill="#eba4ac"/><circle cx="240.2" cy="294.3" r="2.2" fill="#eba4ac"/><circle cx="260.6" cy="266.8" r="17.5" fill="#f8c6ca"/><path d="M260.0,254.3 L253.0,232.5 L251.0,233.1 L255.2,255.5Z" fill="#f8c6ca"/><circle cx="252.0" cy="232.8" r="1.1" fill="#f8c6ca"/><path d="M265.2,255.2 L267.0,237.2 L265.0,236.8 L260.4,254.3Z" fill="#f8c6ca"/><circle cx="266.0" cy="237.0" r="1.1" fill="#f8c6ca"/><path d="M251.7,258.0 L231.6,246.4 L230.4,248.2 L249.0,262.1Z" fill="#f8c6ca"/><circle cx="231.0" cy="247.3" r="1.1" fill="#f8c6ca"/><path d="M248.6,263.2 L225.5,262.5 L225.3,264.5 L248.2,268.1Z" fill="#f8c6ca"/><circle cx="225.4" cy="263.5" r="1.1" fill="#f8c6ca"/><path d="M272.8,264.2 L295.9,252.8 L295.1,250.8 L270.9,259.7Z" fill="#f8c6ca"/><circle cx="295.5" cy="251.8" r="1.1" fill="#f8c6ca"/><path d="M272.5,270.5 L295.4,271.5 L295.6,269.5 L273.0,265.7Z" fill="#f8c6ca"/><circle cx="295.5" cy="270.5" r="1.1" fill="#f8c6ca"/><path d="M271.4,273.1 L284.2,276.0 L284.8,274.0 L273.0,268.5Z" fill="#f8c6ca"/><circle cx="284.5" cy="275.0" r="1.1" fill="#f8c6ca"/><path d="M264.9,278.5 L277.8,296.9 L279.6,295.9 L269.1,276.0Z" fill="#f8c6ca"/><circle cx="278.7" cy="296.4" r="1.1" fill="#f8c6ca"/><path d="M258.8,279.2 L260.9,291.6 L262.9,291.4 L263.7,278.9Z" fill="#f8c6ca"/><circle cx="261.9" cy="291.5" r="1.1" fill="#f8c6ca"/><path d="M251.3,275.2 L239.4,293.7 L241.0,294.9 L255.3,278.1Z" fill="#f8c6ca"/><circle cx="240.2" cy="294.3" r="1.1" fill="#f8c6ca"/><circle cx="260.6" cy="266.8" r="10.5" fill="#efa9b0"/>
<circle cx="241.8" cy="216.0" r="22.5" fill="#8ed2c3" stroke="#4ea897" stroke-width="1.4"/><circle cx="241.8" cy="216.0" r="13.9" fill="#5fb8a5" stroke="#58ad9b" stroke-width="1"/>
<path d="M322.9,177.3 L321.1,177.8 L319.3,178.3 L317.7,178.7 L316.4,179.1 L315.5,179.4 L314.8,179.8 L314.3,180.2 L314.0,180.5 L313.8,180.9 L313.6,181.3 L313.5,181.7 L313.4,182.1 L313.4,182.5 L313.5,182.9 L313.7,183.4 L314.0,183.9 L314.4,184.4 L314.9,185.1 L315.6,185.8 L316.2,186.5 L316.8,187.2 L317.2,187.9 L317.4,188.5 L317.3,189.0 L316.8,189.3 L316.1,189.5 L315.2,189.6 L314.2,189.7 L313.3,189.6 L312.4,189.6 L311.6,189.7 L311.0,189.8 L310.5,189.9 L310.1,190.2 L309.7,190.4 L309.4,190.7 L309.3,191.1 L309.1,191.5 L309.1,191.9 L309.1,192.5 L309.3,193.2 L309.6,194.0 L310.0,195.0 L310.5,196.2 L311.1,197.4 L311.7,198.7 L312.1,199.9 L312.2,200.9 L312.1,201.5 L311.6,201.8 L310.8,201.8 L309.8,201.4 L308.7,200.8 L307.6,200.2 L306.5,199.5 L306.7,200.6 L307.0,201.9 L307.1,203.1 L307.2,204.2 L307.0,205.0 L306.6,205.4 L305.9,205.4 L305.1,205.0 L304.2,204.4 L303.3,203.6 L302.3,202.8 L301.5,202.0 L300.7,201.4 L300.1,201.0 L299.5,200.7 L299.0,200.6 L298.6,200.6 L298.1,200.6 L297.7,200.7 L297.3,200.8 L296.9,200.9 L296.5,201.0 L296.1,201.1 L295.7,201.3 L295.2,201.4 L294.8,201.5 L294.4,201.7 L294.0,202.0 L293.6,202.4 L293.2,203.0 L292.9,203.9 L292.5,205.1 L292.0,206.6 L291.5,208.4 L291.0,210.4 L290.4,212.3 L289.7,213.9 L289.0,215.1 L288.3,215.6 L287.7,215.3 L287.1,214.2 L286.7,212.6 L286.3,210.7 L286.0,208.6 L285.8,206.6 L285.6,204.9 L285.4,203.5 L285.2,202.4 L284.9,201.6 L284.6,201.2 L284.0,201.6 L283.4,202.2 L282.6,203.0 L281.7,204.2 L280.7,205.6 L279.6,207.1 L278.4,208.6 L277.2,209.8 L276.2,210.6 L275.4,210.7 L274.9,210.2 L274.8,209.1 L274.9,207.5 L275.3,205.6 L275.8,203.7 L276.3,201.8 L276.7,200.2 L277.0,198.9 L277.0,198.0 L276.1,198.6 L274.9,199.5 L273.4,200.7 L271.7,202.0 L269.9,203.3 L268.1,204.5 L266.6,205.4 L265.4,205.7 L264.8,205.4 L264.7,204.5 L265.2,203.1 L266.1,201.3 L267.3,199.4 L268.6,197.5 L269.8,195.7 L270.8,194.3 L271.5,193.1 L272.0,192.2 L272.3,191.4 L272.1,191.1 L271.4,191.0 L270.7,191.0 L269.8,191.1 L268.7,191.2 L267.6,191.3 L266.6,191.4 L265.7,191.3 L265.1,191.1 L264.7,190.7 L264.7,190.1 L265.0,189.4 L265.5,188.6 L266.2,187.8 L266.9,187.0 L267.5,186.3 L268.0,185.7 L268.4,185.1 L268.6,184.6 L268.7,184.1 L268.7,183.7 L268.7,183.3 L268.6,182.9 L268.5,182.5 L268.4,182.1 L268.2,181.7 L268.1,181.3 L268.0,180.9 L267.9,180.6 L267.7,180.2 L267.5,179.8 L267.3,179.4 L267.0,179.0 L266.5,178.6 L265.8,178.2 L264.9,177.8 L263.7,177.3 L262.3,176.8 L260.8,176.2 L259.3,175.6 L258.0,175.0 L257.1,174.3 L256.7,173.7 L256.8,173.1 L257.5,172.6 L258.7,172.2 L260.1,171.8 L261.6,171.6 L263.1,171.4 L264.4,171.2 L265.4,170.9 L264.7,170.3 L264.0,169.5 L263.2,168.8 L262.7,168.1 L262.3,167.4 L262.2,166.8 L262.5,166.3 L263.0,166.0 L263.8,165.8 L264.8,165.6 L265.8,165.5 L266.8,165.5 L267.6,165.4 L268.4,165.3 L269.0,165.1 L269.2,164.7 L269.0,164.1 L268.7,163.4 L268.3,162.5 L267.7,161.6 L267.1,160.5 L266.4,159.4 L265.9,158.4 L265.7,157.5 L265.7,156.8 L266.2,156.5 L266.9,156.4 L267.9,156.5 L269.1,156.9 L270.3,157.4 L271.5,157.8 L272.6,158.2 L273.5,158.6 L274.3,158.7 L274.9,158.8 L275.5,158.8 L275.8,158.5 L276.0,158.0 L276.0,157.4 L275.9,156.6 L275.7,155.5 L275.4,154.2 L275.0,152.7 L274.6,151.1 L274.3,149.5 L274.2,148.2 L274.3,147.2 L274.7,146.7 L275.4,146.7 L276.4,147.3 L277.5,148.3 L278.7,149.6 L279.8,150.9 L280.8,152.1 L281.7,153.2 L282.5,154.0 L283.2,154.6 L283.7,154.9 L284.2,155.1 L284.7,155.2 L285.1,155.3 L285.5,155.2 L285.9,155.2 L286.3,155.2 L286.7,155.1 L287.1,155.0 L287.5,155.0 L287.8,154.9 L288.2,154.8 L288.6,154.6 L289.0,154.4 L289.4,154.0 L289.8,153.6 L290.2,153.0 L290.6,152.2 L291.0,151.4 L291.5,150.5 L292.0,149.7 L292.5,149.0 L293.0,148.6 L293.5,148.5 L294.0,148.8 L294.4,149.4 L294.8,150.1 L295.2,151.0 L295.5,151.9 L295.8,152.8 L296.1,153.5 L296.4,154.0 L296.7,154.4 L297.2,154.2 L297.8,153.8 L298.4,153.1 L299.1,152.3 L299.9,151.4 L300.8,150.5 L301.6,149.6 L302.5,148.9 L303.2,148.5 L303.8,148.5 L304.2,148.9 L304.5,149.7 L304.5,150.7 L304.5,151.9 L304.4,153.1 L304.3,154.2 L304.3,155.2 L304.3,156.0 L304.5,156.6 L304.6,157.1 L304.9,157.5 L305.2,157.8 L305.6,157.9 L306.1,158.0 L306.6,158.0 L307.3,157.8 L308.2,157.5 L309.3,157.0 L310.6,156.3 L312.2,155.4 L313.9,154.4 L315.6,153.6 L317.2,152.9 L318.4,152.6 L319.3,152.7 L319.5,153.4 L319.3,154.4 L318.6,155.7 L317.6,157.3 L316.4,158.8 L315.3,160.3 L314.3,161.6 L313.6,162.6 L313.1,163.5 L312.8,164.2 L312.6,164.8 L313.2,165.0 L313.9,165.1 L314.8,165.1 L316.1,165.1 L317.6,164.9 L319.2,164.7 L321.0,164.6 L322.6,164.5 L323.9,164.7 L324.8,165.0 L325.1,165.6 L324.7,166.3 L323.8,167.3 L322.6,168.3 L321.1,169.2 L319.5,170.2 L318.2,171.0 L317.0,171.8 L317.5,172.1 L318.9,172.4 L320.6,172.6 L322.5,172.9 L324.3,173.2 L325.8,173.6 L326.9,174.2 L327.3,174.8 L327.1,175.4 L326.2,176.1 L324.7,176.7Z" fill="#b4ade5" stroke="#9e96d8" stroke-width="1.2" stroke-linejoin="round"/><circle cx="291.0" cy="177.3" r="13.2" fill="#8e87c9"/><circle cx="280.9" cy="190.9" r="1.5" fill="#fff" opacity="0.45"/><circle cx="281.4" cy="191.7" r="1.5" fill="#fff" opacity="0.45"/><circle cx="307.3" cy="181.6" r="1.0" fill="#fff" opacity="0.45"/><circle cx="303.8" cy="186.9" r="2.2" fill="#fff" opacity="0.45"/><circle cx="273.6" cy="179.4" r="2.1" fill="#fff" opacity="0.45"/><circle cx="305.2" cy="166.8" r="1.3" fill="#fff" opacity="0.45"/><circle cx="274.7" cy="174.9" r="2.1" fill="#fff" opacity="0.45"/>
<circle cx="324.0" cy="89.8" r="24.4" fill="#f9d5a8" stroke="#d8a474" stroke-width="1.4"/><circle cx="324.0" cy="89.8" r="15.6" fill="#f3b48a" stroke="#eeac82" stroke-width="1"/>
<circle cx="375.6" cy="143.3" r="22.5" fill="#8ed2c3" stroke="#4ea897" stroke-width="1.4"/><circle cx="375.6" cy="143.3" r="13.9" fill="#5fb8a5" stroke="#58ad9b" stroke-width="1"/>
<circle cx="348.2" cy="194.3" r="24.3" fill="#f9d5a8" stroke="#d8a474" stroke-width="1.4"/><circle cx="348.2" cy="194.3" r="15.6" fill="#f3b48a" stroke="#eeac82" stroke-width="1"/>
<path d="M306.5,380.8 L307.4,381.3 L308.3,381.8 L309.0,382.3 L309.4,382.8 L309.5,383.4 L309.3,383.9 L308.8,384.3 L308.0,384.7 L307.1,385.1 L306.2,385.4 L305.3,385.7 L304.6,386.0 L304.1,386.3 L303.6,386.6 L303.3,387.0 L303.4,387.5 L303.7,388.0 L304.2,388.6 L305.0,389.3 L306.0,390.2 L307.4,391.2 L308.9,392.4 L310.5,393.7 L312.0,394.9 L313.1,396.2 L313.8,397.2 L313.8,397.9 L313.1,398.3 L311.9,398.4 L310.2,398.1 L308.3,397.7 L306.5,397.2 L304.7,396.7 L303.2,396.3 L302.0,396.1 L301.3,396.2 L301.7,397.0 L302.2,398.0 L302.7,399.0 L303.2,400.1 L303.5,401.1 L303.7,401.9 L303.6,402.6 L303.1,402.9 L302.4,403.0 L301.4,402.8 L300.4,402.4 L299.3,402.0 L298.2,401.5 L297.3,401.2 L296.5,400.9 L295.8,400.7 L295.6,401.2 L295.6,402.0 L295.8,403.1 L296.1,404.4 L296.5,405.8 L296.8,407.4 L297.1,408.9 L297.2,410.3 L297.1,411.2 L296.6,411.7 L295.9,411.7 L295.0,411.1 L293.9,410.2 L292.8,409.0 L291.6,407.8 L290.6,406.6 L289.7,405.6 L288.9,404.8 L288.3,404.2 L287.7,403.9 L287.2,403.7 L286.7,403.6 L286.3,403.5 L285.9,403.5 L285.5,403.6 L285.1,403.8 L284.7,404.0 L284.4,404.4 L284.0,405.0 L283.7,405.8 L283.4,406.9 L283.1,408.4 L282.8,410.1 L282.4,411.9 L281.9,413.8 L281.4,415.3 L280.8,416.4 L280.2,416.9 L279.6,416.6 L279.0,415.6 L278.5,414.1 L278.0,412.3 L277.6,410.4 L277.3,408.5 L277.0,406.9 L276.7,405.6 L276.4,404.7 L276.1,404.0 L275.8,403.5 L275.4,403.6 L274.8,404.0 L274.2,404.7 L273.5,405.7 L272.7,407.0 L271.7,408.6 L270.6,410.4 L269.4,412.2 L268.2,413.7 L267.1,414.8 L266.3,415.3 L265.7,415.0 L265.4,414.1 L265.4,412.5 L265.7,410.6 L266.1,408.5 L266.5,406.5 L266.9,404.7 L267.2,403.3 L267.4,402.1 L267.4,401.3 L267.3,400.7 L267.1,400.2 L266.8,399.9 L266.5,399.6 L266.1,399.5 L265.6,399.5 L265.0,399.5 L264.3,399.7 L263.5,400.0 L262.4,400.5 L261.2,401.2 L259.8,402.0 L258.3,402.7 L256.8,403.4 L255.5,403.8 L254.6,403.9 L254.0,403.5 L254.0,402.8 L254.3,401.8 L254.9,400.5 L255.8,399.2 L256.6,397.9 L257.4,396.7 L258.1,395.7 L258.6,394.9 L258.8,394.1 L258.8,393.7 L258.1,393.6 L257.1,393.6 L256.0,393.7 L254.5,393.9 L252.9,394.1 L251.2,394.3 L249.6,394.4 L248.2,394.4 L247.2,394.1 L246.8,393.6 L246.9,392.9 L247.6,392.0 L248.7,391.0 L250.0,390.0 L251.4,389.1 L252.7,388.2 L253.8,387.4 L254.6,386.7 L255.2,386.1 L255.6,385.6 L255.8,385.1 L255.5,384.7 L255.1,384.3 L254.5,384.0 L253.8,383.6 L253.0,383.2 L252.1,382.8 L251.3,382.3 L250.6,381.8 L250.1,381.3 L250.0,380.8 L250.1,380.3 L250.6,379.8 L251.4,379.3 L252.3,378.8 L253.2,378.4 L254.1,378.1 L254.9,377.7 L255.6,377.3 L256.1,377.0 L256.5,376.6 L256.8,376.2 L256.9,375.8 L256.8,375.4 L256.6,374.9 L256.2,374.4 L255.6,373.7 L254.7,373.0 L253.7,372.2 L252.5,371.3 L251.3,370.3 L250.2,369.3 L249.5,368.4 L249.2,367.7 L249.5,367.1 L250.3,366.8 L251.5,366.8 L253.0,366.9 L254.6,367.2 L256.1,367.5 L257.5,367.7 L258.7,367.9 L259.7,368.0 L260.4,367.9 L260.6,367.6 L260.4,366.9 L260.0,366.1 L259.4,365.2 L258.7,364.0 L258.0,362.8 L257.2,361.5 L256.6,360.3 L256.3,359.3 L256.4,358.6 L256.9,358.3 L257.7,358.3 L258.8,358.7 L260.1,359.2 L261.4,359.9 L262.7,360.6 L263.8,361.2 L264.7,361.7 L265.4,361.8 L265.2,360.8 L264.8,359.6 L264.2,357.9 L263.5,356.0 L262.8,353.9 L262.1,351.8 L261.6,349.9 L261.4,348.3 L261.7,347.4 L262.3,347.2 L263.3,347.7 L264.6,348.8 L266.0,350.3 L267.4,352.0 L268.7,353.7 L269.8,355.1 L270.8,356.2 L271.6,357.1 L272.2,357.6 L272.8,357.9 L273.2,357.9 L273.5,357.4 L273.8,356.8 L274.0,355.8 L274.2,354.6 L274.3,353.2 L274.5,351.5 L274.7,349.7 L275.0,348.0 L275.4,346.5 L275.9,345.5 L276.4,345.1 L277.1,345.3 L277.8,346.1 L278.5,347.4 L279.1,349.0 L279.7,350.6 L280.2,352.2 L280.7,353.5 L281.1,354.5 L281.5,355.3 L281.9,355.8 L282.4,356.1 L282.8,356.3 L283.2,356.5 L283.6,356.6 L284.0,356.7 L284.4,356.7 L284.9,356.8 L285.3,356.9 L285.7,357.0 L286.1,357.0 L286.5,357.1 L287.0,357.1 L287.4,357.1 L287.9,357.0 L288.5,356.6 L289.2,356.1 L290.0,355.3 L291.0,354.2 L292.1,352.8 L293.3,351.3 L294.7,349.7 L296.0,348.3 L297.2,347.4 L298.2,347.0 L298.8,347.3 L299.0,348.3 L298.8,349.8 L298.4,351.7 L297.8,353.7 L297.2,355.7 L296.5,357.5 L296.1,359.0 L295.8,360.2 L295.6,361.1 L295.6,361.8 L295.9,362.0 L296.6,361.9 L297.4,361.7 L298.4,361.3 L299.6,360.7 L300.9,360.1 L302.3,359.4 L303.7,358.9 L304.9,358.6 L305.7,358.6 L306.1,359.0 L306.1,359.8 L305.7,360.9 L304.9,362.2 L304.0,363.5 L303.0,364.8 L302.2,366.0 L301.4,367.0 L301.5,367.5 L302.5,367.4 L303.7,367.3 L304.8,367.1 L306.0,367.1 L306.9,367.2 L307.5,367.5 L307.8,367.9 L307.7,368.5 L307.3,369.3 L306.6,370.1 L305.7,371.0 L304.8,371.8 L304.0,372.6 L303.4,373.3 L302.9,373.9 L302.6,374.4 L302.4,374.8 L302.3,375.3 L302.3,375.7 L302.4,376.1 L302.4,376.5 L302.5,376.9 L302.6,377.3 L302.7,377.6 L302.8,378.0 L303.0,378.4 L303.3,378.8 L303.7,379.2 L304.1,379.5 L304.8,379.9 L305.6,380.4Z" fill="#b4ade5" stroke="#9e96d8" stroke-width="1.2" stroke-linejoin="round"/><circle cx="280.2" cy="380.8" r="13.2" fill="#8e87c9"/><circle cx="265.6" cy="376.3" r="1.9" fill="#fff" opacity="0.45"/><circle cx="273.9" cy="399.4" r="1.2" fill="#fff" opacity="0.45"/><circle cx="281.3" cy="365.4" r="2.2" fill="#fff" opacity="0.45"/><circle cx="290.8" cy="370.0" r="1.8" fill="#fff" opacity="0.45"/><circle cx="283.7" cy="397.8" r="2.0" fill="#fff" opacity="0.45"/><circle cx="289.1" cy="393.8" r="1.1" fill="#fff" opacity="0.45"/><circle cx="296.1" cy="387.5" r="1.2" fill="#fff" opacity="0.45"/>
<circle cx="359.4" cy="388.3" r="22.5" fill="#8ed2c3" stroke="#4ea897" stroke-width="1.4"/><circle cx="359.4" cy="388.3" r="13.9" fill="#5fb8a5" stroke="#58ad9b" stroke-width="1"/>
<circle cx="236.8" cy="182.8" r="5.5" fill="#5fa04a"/><circle cx="237.9" cy="179.8" r="1.2" fill="#8fca72"/><circle cx="235.0" cy="183.9" r="1.2" fill="#8fca72"/><circle cx="238.5" cy="183.7" r="1.2" fill="#8fca72"/><circle cx="233.3" cy="182.7" r="1.2" fill="#8fca72"/><circle cx="235.0" cy="179.9" r="1.2" fill="#8fca72"/><circle cx="238.3" cy="182.2" r="1.2" fill="#8fca72"/><circle cx="237.5" cy="183.1" r="1.2" fill="#8fca72"/><circle cx="238.7" cy="182.8" r="1.2" fill="#8fca72"/><circle cx="237.3" cy="182.6" r="1.2" fill="#8fca72"/>
<circle cx="331.5" cy="228.4" r="5.5" fill="#5fa04a"/><circle cx="332.0" cy="225.1" r="1.2" fill="#8fca72"/><circle cx="331.4" cy="228.8" r="1.2" fill="#8fca72"/><circle cx="331.3" cy="228.4" r="1.2" fill="#8fca72"/><circle cx="331.9" cy="230.9" r="1.2" fill="#8fca72"/><circle cx="329.4" cy="228.6" r="1.2" fill="#8fca72"/><circle cx="331.2" cy="228.4" r="1.2" fill="#8fca72"/><circle cx="332.5" cy="227.2" r="1.2" fill="#8fca72"/><circle cx="330.2" cy="225.5" r="1.2" fill="#8fca72"/><circle cx="331.1" cy="229.3" r="1.2" fill="#8fca72"/>
<circle cx="371.9" cy="252.0" r="5.5" fill="#5fa04a"/><circle cx="370.9" cy="251.9" r="1.2" fill="#8fca72"/><circle cx="372.6" cy="250.7" r="1.2" fill="#8fca72"/><circle cx="368.6" cy="252.5" r="1.2" fill="#8fca72"/><circle cx="369.6" cy="251.9" r="1.2" fill="#8fca72"/><circle cx="372.3" cy="255.3" r="1.2" fill="#8fca72"/><circle cx="371.1" cy="250.7" r="1.2" fill="#8fca72"/><circle cx="371.5" cy="251.4" r="1.2" fill="#8fca72"/><circle cx="370.1" cy="252.4" r="1.2" fill="#8fca72"/><circle cx="372.3" cy="251.5" r="1.2" fill="#8fca72"/>
<circle cx="225.5" cy="351.5" r="5.5" fill="#5fa04a"/><circle cx="226.0" cy="348.3" r="1.2" fill="#8fca72"/><circle cx="222.7" cy="353.7" r="1.2" fill="#8fca72"/><circle cx="226.7" cy="349.7" r="1.2" fill="#8fca72"/><circle cx="226.5" cy="350.4" r="1.2" fill="#8fca72"/><circle cx="225.8" cy="351.2" r="1.2" fill="#8fca72"/><circle cx="222.6" cy="352.9" r="1.2" fill="#8fca72"/><circle cx="225.2" cy="353.0" r="1.2" fill="#8fca72"/><circle cx="226.8" cy="351.1" r="1.2" fill="#8fca72"/><circle cx="226.8" cy="351.5" r="1.2" fill="#8fca72"/>
<circle cx="292.3" cy="328.7" r="5.5" fill="#5fa04a"/><circle cx="291.9" cy="329.3" r="1.2" fill="#8fca72"/><circle cx="292.8" cy="327.7" r="1.2" fill="#8fca72"/><circle cx="293.5" cy="329.1" r="1.2" fill="#8fca72"/><circle cx="292.9" cy="326.4" r="1.2" fill="#8fca72"/><circle cx="289.6" cy="327.7" r="1.2" fill="#8fca72"/><circle cx="290.3" cy="325.8" r="1.2" fill="#8fca72"/><circle cx="293.3" cy="330.4" r="1.2" fill="#8fca72"/><circle cx="289.3" cy="328.0" r="1.2" fill="#8fca72"/><circle cx="291.3" cy="329.5" r="1.2" fill="#8fca72"/>
<circle cx="317.4" cy="353.6" r="5.5" fill="#5fa04a"/><circle cx="317.2" cy="354.2" r="1.2" fill="#8fca72"/><circle cx="317.8" cy="353.5" r="1.2" fill="#8fca72"/><circle cx="317.5" cy="350.1" r="1.2" fill="#8fca72"/><circle cx="317.8" cy="352.2" r="1.2" fill="#8fca72"/><circle cx="317.7" cy="354.3" r="1.2" fill="#8fca72"/><circle cx="316.6" cy="351.3" r="1.2" fill="#8fca72"/><circle cx="316.8" cy="353.7" r="1.2" fill="#8fca72"/><circle cx="315.0" cy="354.7" r="1.2" fill="#8fca72"/><circle cx="318.8" cy="352.7" r="1.2" fill="#8fca72"/>
<circle cx="175.6" cy="293.0" r="5.0" fill="#5fa04a"/><circle cx="174.1" cy="291.9" r="1.1" fill="#8fca72"/><circle cx="173.6" cy="294.5" r="1.1" fill="#8fca72"/><circle cx="175.6" cy="293.1" r="1.1" fill="#8fca72"/><circle cx="177.7" cy="294.2" r="1.1" fill="#8fca72"/><circle cx="175.9" cy="293.1" r="1.1" fill="#8fca72"/><circle cx="173.6" cy="293.3" r="1.1" fill="#8fca72"/><circle cx="174.3" cy="293.5" r="1.1" fill="#8fca72"/><circle cx="174.8" cy="292.2" r="1.1" fill="#8fca72"/><circle cx="175.6" cy="293.0" r="1.1" fill="#8fca72"/>
<circle cx="183.2" cy="478.4" r="5.0" fill="#5fa04a"/><circle cx="181.5" cy="478.3" r="1.1" fill="#8fca72"/><circle cx="183.8" cy="479.8" r="1.1" fill="#8fca72"/><circle cx="181.9" cy="478.0" r="1.1" fill="#8fca72"/><circle cx="185.0" cy="479.4" r="1.1" fill="#8fca72"/><circle cx="180.0" cy="478.8" r="1.1" fill="#8fca72"/><circle cx="183.7" cy="478.1" r="1.1" fill="#8fca72"/><circle cx="185.0" cy="476.1" r="1.1" fill="#8fca72"/><circle cx="183.4" cy="478.5" r="1.1" fill="#8fca72"/><circle cx="182.1" cy="479.1" r="1.1" fill="#8fca72"/>
<circle cx="162.5" cy="566.0" r="5.0" fill="#5fa04a"/><circle cx="159.8" cy="565.6" r="1.1" fill="#8fca72"/><circle cx="162.9" cy="565.5" r="1.1" fill="#8fca72"/><circle cx="163.3" cy="566.1" r="1.1" fill="#8fca72"/><circle cx="162.8" cy="565.2" r="1.1" fill="#8fca72"/><circle cx="162.0" cy="567.6" r="1.1" fill="#8fca72"/><circle cx="162.1" cy="567.8" r="1.1" fill="#8fca72"/><circle cx="162.5" cy="566.0" r="1.1" fill="#8fca72"/><circle cx="161.9" cy="563.8" r="1.1" fill="#8fca72"/><circle cx="160.8" cy="568.5" r="1.1" fill="#8fca72"/>
<circle cx="180.0" cy="584.0" r="5.0" fill="#5fa04a"/><circle cx="177.6" cy="583.7" r="1.1" fill="#8fca72"/><circle cx="179.0" cy="584.8" r="1.1" fill="#8fca72"/><circle cx="177.2" cy="583.4" r="1.1" fill="#8fca72"/><circle cx="177.9" cy="585.1" r="1.1" fill="#8fca72"/><circle cx="182.7" cy="583.5" r="1.1" fill="#8fca72"/><circle cx="182.1" cy="585.7" r="1.1" fill="#8fca72"/><circle cx="180.4" cy="584.0" r="1.1" fill="#8fca72"/><circle cx="181.4" cy="583.4" r="1.1" fill="#8fca72"/><circle cx="182.4" cy="583.1" r="1.1" fill="#8fca72"/>
<path d="M384,377 L389.5,380.5 M384,412.5 L389.5,410.5" stroke="#f2a9a5" stroke-width="2.6" stroke-linecap="round"/>
<circle cx="181.8" cy="167.1" r="14.6" fill="url(#glowv)"/>
<circle cx="182.0" cy="249.0" r="14.6" fill="url(#glowv)"/>
<circle cx="172.5" cy="461.4" r="14.6" fill="url(#glowv)"/>
<circle cx="184.0" cy="405.0" r="13.4" fill="url(#glowv)"/>
<circle cx="190.0" cy="412.0" r="12.3" fill="url(#glowv)"/>
<circle cx="223.3" cy="360.0" r="13.4" fill="url(#glowv)"/>
<circle cx="263.3" cy="339.5" r="14.6" fill="url(#glowv)"/>
<circle cx="340.6" cy="343.5" r="14.6" fill="url(#glowv)"/>
<g transform="translate(174.9 110.3) rotate(-22.0)"><ellipse rx="8.5" ry="16.5" fill="#e4484d" stroke="#c9353c" stroke-width="0.8"/><path d="M1.3,-7.4 C6.4,-1.7 4.7,9.1 -2.1,9.9 C1.7,5.8 2.5,-0.8 1.3,-7.4Z" fill="#c2313a"/><ellipse cx="-3.0" cy="-5.0" rx="1.9" ry="5.8" fill="#f47a7a" opacity="0.8"/></g>
<g transform="translate(172.4 213.1) rotate(18.0)"><ellipse rx="8.5" ry="16.0" fill="#e4484d" stroke="#c9353c" stroke-width="0.8"/><path d="M1.3,-7.2 C6.4,-1.6 4.7,8.8 -2.1,9.6 C1.7,5.6 2.5,-0.8 1.3,-7.2Z" fill="#c2313a"/><ellipse cx="-3.0" cy="-4.8" rx="1.9" ry="5.6" fill="#f47a7a" opacity="0.8"/></g>
<g transform="translate(176.0 379.0) rotate(-15.0)"><ellipse rx="8.5" ry="10.5" fill="#e4484d" stroke="#c9353c" stroke-width="0.8"/><path d="M1.3,-4.7 C6.4,-1.1 4.7,5.8 -2.1,6.3 C1.7,3.7 2.5,-0.5 1.3,-4.7Z" fill="#c2313a"/><ellipse cx="-3.0" cy="-3.1" rx="1.9" ry="3.7" fill="#f47a7a" opacity="0.8"/></g>
<g transform="translate(176.0 529.5) rotate(32.0)"><ellipse rx="8.5" ry="15.0" fill="#e4484d" stroke="#c9353c" stroke-width="0.8"/><path d="M1.3,-6.8 C6.4,-1.5 4.7,8.2 -2.1,9.0 C1.7,5.2 2.5,-0.8 1.3,-6.8Z" fill="#c2313a"/><ellipse cx="-3.0" cy="-4.5" rx="1.9" ry="5.2" fill="#f47a7a" opacity="0.8"/></g>
<path d="M100,116.5 L247,169 L100,168.5Z" fill="url(#cone)"/>
<circle cx="247.3" cy="169.9" r="4.6" fill="#d7df6e"/><circle cx="247.3" cy="169.9" r="3.2" fill="#7cb85a"/>
<rect x="267.2" y="219.7" width="31.7" height="31.9" fill="none" stroke="#666" stroke-width="1.3" stroke-dasharray="5 3.5"/>
<line x1="299" y1="220" x2="392.5" y2="93" stroke="#777" stroke-width="0.9" stroke-dasharray="4 3"/>
<line x1="299" y1="252" x2="392.5" y2="334" stroke="#777" stroke-width="0.9" stroke-dasharray="4 3"/>
</g>
<use href="#np" x="54.5" y="112.8" width="54.0" height="54.0"/>
<line x1="77.4" y1="173.4" x2="77.4" y2="210.3" stroke="#1a1a1a" stroke-width="1.30"/><path d="M77.4,218.3 L72.7,208.3 L77.4,208.3 L82.2,208.3Z" fill="#1a1a1a"/>
<rect x="40" y="227.2" width="72" height="45.6" fill="#111"/>
<path d="M77.4,236.8 C74,234.2 69,234 64.5,235.5 C57,238 53,244 53.1,251 C53.2,258 56.5,263 61,265.2 C62.5,267.6 66,268 67.5,266 C70,267.8 73.5,267.6 77,267 C80.5,267.6 84,267.8 86.5,266 C88,268 91.5,267.6 93,265.2 C97.5,263 100.8,258 100.9,251 C101,244 97,238 89.5,235.5 C85,234 80,234.2 77.4,236.8Z" fill="#787878"/>
<path d="M61,258 C58,250 61,242 69,240 M93,258 C96,250 93,242 85,240" fill="none" stroke="#8b8b8b" stroke-width="1.3"/>
<path d="M70,247.5 C73,246 81,246 84,247.5" fill="none" stroke="#929292" stroke-width="1.4" stroke-linecap="round"/>
<path d="M68.5,250 L68.5,256 M85.5,250 L85.5,256 M74,257 L74,260 M80,257 L80,260" stroke="#8e8e8e" stroke-width="1.1" fill="none" stroke-linecap="round"/>
<ellipse cx="71.2" cy="244.6" rx="2.2" ry="1.8" fill="#151515"/><ellipse cx="83.1" cy="244.6" rx="2.2" ry="1.8" fill="#151515"/>
<text x="15.7" y="306.0" font-size="19.5" font-weight="bold" textLength="120.7" lengthAdjust="spacingAndGlyphs" fill="#000">MRI Imaging</text>
<ellipse cx="109.8" cy="528" rx="12" ry="34" fill="#fbb07a" opacity="0.55" filter="url(#blur3)"/>
<path d="M103.3,494 L103.3,549.5 A6.5,6.5 0 0 0 116.3,549.5 L116.3,494Z" fill="#f3e3dc" stroke="#c9b1a6" stroke-width="0.8"/>
<path d="M104,503.5 L104,549.5 A5.8,5.8 0 0 0 115.6,549.5 L115.6,503.5Z" fill="#b53b18"/>
<path d="M104,503.5 L115.6,503.5 L115.6,507 L104,507Z" fill="#8f2a14" opacity="0.7"/>
<rect x="101.4" y="478" width="16.8" height="18.5" rx="2.5" fill="#e8612c"/>
<rect x="101.4" y="490.5" width="16.8" height="6" rx="2" fill="#d4511f"/>
<path d="M104.5,480 L104.5,490 M108,480 L108,490 M111.5,480 L111.5,490 M115,480 L115,490" stroke="#f08352" stroke-width="0.9"/>
<circle cx="107.4" cy="515.6" r="3.2" fill="#f08a3a" opacity="0.5"/><circle cx="107.4" cy="515.6" r="2.2" fill="#ffe98c"/>
<circle cx="109.9" cy="528.0" r="3.2" fill="#f08a3a" opacity="0.5"/><circle cx="109.9" cy="528.0" r="2.2" fill="#ffe98c"/>
<circle cx="108.6" cy="547.0" r="3.2" fill="#f08a3a" opacity="0.5"/><circle cx="108.6" cy="547.0" r="2.2" fill="#ffe98c"/>
<line x1="166.0" y1="517.0" x2="137.0" y2="517.0" stroke="#7a7a7a" stroke-width="1.30"/><path d="M129.0,517.0 L139.0,512.2 L139.0,517.0 L139.0,521.8Z" fill="#7a7a7a"/>
<path d="M97.6,514 C86,514 77,520 72,526.5" fill="none" stroke="#7a7a7a" stroke-width="1.5"/>
<path d="M67.5,531.8 L70.8,521.2 L74.3,524.5 L77.8,527.7Z" fill="#7a7a7a"/>
<path d="M4.7,498.0 L25.8,484.0 L78.7,544.0 L58.0,562.8Z" fill="#fefefe" stroke="#e2e2e2" stroke-width="0.8" stroke-linejoin="round"/>
<path d="M58,562.8 L78.7,544 L79.5,546 L59,565Z" fill="#dedede"/>
<line x1="14.1" y1="503.8" x2="55.6" y2="554.4" stroke="#d8464a" stroke-width="0.5" opacity="0.6"/>
<line x1="16.6" y1="502.1" x2="58.2" y2="552.7" stroke="#d8464a" stroke-width="0.5" opacity="0.6"/>
<line x1="19.1" y1="500.5" x2="60.7" y2="551.0" stroke="#d8464a" stroke-width="0.5" opacity="0.6"/>
<line x1="21.6" y1="498.8" x2="63.2" y2="549.3" stroke="#d8464a" stroke-width="0.5" opacity="0.6"/>
<line x1="24.2" y1="497.1" x2="65.8" y2="547.6" stroke="#d8464a" stroke-width="0.5" opacity="0.6"/>
<line x1="26.7" y1="495.4" x2="68.3" y2="546.0" stroke="#d8464a" stroke-width="0.5" opacity="0.6"/>
<line x1="29.2" y1="493.7" x2="70.8" y2="544.3" stroke="#d8464a" stroke-width="0.5" opacity="0.6"/>
<line x1="33.0" y1="529.3" x2="50.8" y2="517.5" stroke="#d8464a" stroke-width="1.6"/>
<circle cx="10.2" cy="500.3" r="1.05" fill="#d8464a"/>
<circle cx="15.1" cy="497.1" r="1.05" fill="#d8464a"/>
<circle cx="20.1" cy="493.8" r="1.05" fill="#d8464a"/>
<circle cx="25.0" cy="490.5" r="1.05" fill="#d8464a"/>
<circle cx="16.5" cy="503.2" r="1.05" fill="#d8464a"/>
<circle cx="21.3" cy="500.0" r="1.05" fill="#d8464a"/>
<circle cx="26.4" cy="496.6" r="1.05" fill="#d8464a"/>
<circle cx="31.3" cy="493.4" r="1.05" fill="#d8464a"/>
<circle cx="17.7" cy="509.4" r="1.05" fill="#d8464a"/>
<circle cx="22.5" cy="506.2" r="1.05" fill="#d8464a"/>
<circle cx="27.6" cy="502.8" r="1.05" fill="#d8464a"/>
<circle cx="32.5" cy="499.6" r="1.05" fill="#d8464a"/>
<circle cx="23.9" cy="512.3" r="1.05" fill="#d8464a"/>
<circle cx="28.8" cy="509.1" r="1.05" fill="#d8464a"/>
<circle cx="33.9" cy="505.7" r="1.05" fill="#d8464a"/>
<circle cx="38.7" cy="502.5" r="1.05" fill="#d8464a"/>
<circle cx="48.6" cy="547.0" r="1.05" fill="#d8464a"/>
<circle cx="53.4" cy="543.8" r="1.05" fill="#d8464a"/>
<circle cx="58.5" cy="540.4" r="1.05" fill="#d8464a"/>
<circle cx="63.4" cy="537.2" r="1.05" fill="#d8464a"/>
<circle cx="54.9" cy="549.9" r="1.05" fill="#d8464a"/>
<circle cx="59.7" cy="546.6" r="1.05" fill="#d8464a"/>
<circle cx="64.8" cy="543.3" r="1.05" fill="#d8464a"/>
<circle cx="69.6" cy="540.1" r="1.05" fill="#d8464a"/>
<circle cx="56.1" cy="556.1" r="1.05" fill="#d8464a"/>
<circle cx="60.9" cy="552.9" r="1.05" fill="#d8464a"/>
<circle cx="66.0" cy="549.5" r="1.05" fill="#d8464a"/>
<circle cx="70.8" cy="546.3" r="1.05" fill="#d8464a"/>
<text x="11.6" y="578.5" font-size="19.5" font-weight="bold" textLength="122.8" lengthAdjust="spacingAndGlyphs" fill="#000">Blood Assay</text>
<rect x="392.5" y="31.5" width="816" height="120" fill="#fff"/>
<rect x="392.5" y="163" width="415.5" height="475" fill="#f6f0f8"/>
<rect x="808" y="163" width="400.5" height="475" fill="#edf7f4"/>
<g clip-path="url(#clipL)"><circle cx="808" cy="891.4" r="328" fill="#e3e8f9"/></g>
<g clip-path="url(#clipR)"><circle cx="808" cy="891.4" r="328" fill="#f0e1e1"/></g>
<path d="M466.6,361.7 L466.8,358.2 L467.1,354.7 L467.6,351.4 L468.2,348.1 L469.0,345.0 L469.9,342.2 L470.8,339.6 L472.0,337.1 L473.6,334.6 L475.6,331.8 L478.1,328.6 L481.0,325.2 L484.4,321.7 L488.2,318.5 L492.4,315.9 L497.3,313.8 L502.8,312.1 L508.7,310.8 L514.6,309.9 L520.4,309.3 L526.0,309.1 L531.6,309.2 L537.3,309.8 L542.9,310.7 L548.5,312.0 L554.3,313.8 L560.4,316.2 L566.3,318.9 L571.8,321.7 L576.5,324.3 L580.0,326.8 L582.7,329.3 L584.9,331.8 L587.2,334.3 L590.0,336.8 L593.4,339.3 L597.1,341.8 L601.0,344.3 L604.9,346.8 L608.7,349.0 L612.4,351.1 L616.2,353.1 L619.9,355.0 L623.7,356.8 L627.4,358.3 L631.1,359.6 L634.8,360.8 L638.6,361.8 L642.3,362.6 L646.0,363.4 L649.7,364.0 L653.5,364.5 L657.3,364.9 L661.0,365.2 L664.8,365.4 L668.5,365.5 L672.3,365.6 L676.0,365.5 L679.8,365.5 L683.5,365.4 L687.2,365.3 L690.9,365.2 L694.7,365.0 L698.4,364.9 L702.1,364.9 L705.8,364.9 L709.6,365.0 L713.3,365.2 L717.1,365.4 L720.8,365.8 L724.5,366.3 L728.3,366.8 L732.0,367.4 L735.8,368.3 L739.5,369.5 L743.4,371.1 L747.3,373.1 L751.3,375.3 L754.9,377.6 L758.2,379.8 L761.0,382.0 L763.4,384.1 L765.5,386.3 L767.5,388.6 L769.4,391.0 L771.2,393.4 L772.8,395.7 L774.3,398.1 L775.7,400.9 L776.9,404.0 L778.1,407.8 L779.3,412.1 L780.3,416.6 L781.0,421.1 L781.4,425.0 L781.3,428.3 L780.9,431.3 L780.2,434.0 L779.3,436.9 L778.3,440.0 L777.2,443.6 L775.8,447.5 L774.3,451.4 L772.7,455.3 L770.8,458.7 L768.8,461.7 L766.6,464.4 L764.2,467.0 L761.6,469.4 L758.7,471.8 L755.5,474.2 L751.9,476.5 L748.1,478.7 L744.1,480.9 L740.0,483.0 L735.6,485.1 L730.8,487.2 L726.0,489.2 L721.3,491.0 L717.0,492.5 L713.2,493.6 L709.8,494.4 L706.5,495.0 L703.3,495.5 L700.0,496.0 L696.6,496.4 L693.2,496.8 L689.9,497.0 L686.4,497.2 L682.7,497.4 L678.8,497.5 L674.8,497.6 L670.7,497.6 L666.5,497.6 L662.4,497.4 L658.4,497.2 L654.3,496.8 L650.3,496.4 L646.2,496.0 L642.2,495.4 L638.2,494.7 L634.1,494.0 L630.1,493.2 L626.0,492.3 L622.0,491.3 L617.9,490.3 L613.9,489.1 L609.8,487.9 L605.8,486.7 L601.7,485.3 L597.7,483.8 L593.6,482.3 L589.6,480.6 L585.5,478.9 L581.5,477.2 L577.4,475.5 L573.4,473.7 L569.3,471.9 L565.3,470.0 L561.2,468.0 L557.2,466.0 L553.1,463.9 L549.1,461.7 L545.0,459.4 L541.0,457.0 L536.9,454.4 L532.9,451.7 L528.8,448.9 L524.8,446.0 L520.7,442.8 L516.7,439.5 L512.6,436.0 L508.6,432.3 L504.5,428.5 L500.5,424.5 L496.3,420.3 L492.0,415.9 L487.7,411.4 L483.7,406.8 L480.2,402.3 L477.1,397.8 L474.2,393.2 L471.7,388.6 L469.6,384.2 L468.0,380.0 L467.0,376.1 L466.5,372.3 L466.4,368.7 L466.5,365.2Z" fill="#edcbd7"/>
<path d="M477.6,362.2 L477.5,365.6 L477.4,368.7 L477.5,371.4 L477.8,373.9 L478.5,376.6 L479.7,379.9 L481.5,383.6 L483.7,387.6 L486.3,391.7 L489.1,395.8 L492.2,399.8 L495.9,404.0 L499.9,408.3 L504.1,412.6 L508.2,416.7 L512.2,420.6 L516.1,424.2 L519.9,427.7 L523.8,431.1 L527.6,434.2 L531.4,437.2 L535.2,440.0 L539.0,442.6 L542.9,445.2 L546.8,447.6 L550.6,449.9 L554.4,452.1 L558.2,454.1 L562.1,456.2 L566.1,458.1 L570.0,460.0 L573.9,461.9 L577.8,463.6 L581.8,465.4 L585.8,467.1 L589.8,468.8 L593.8,470.5 L597.7,472.0 L601.5,473.5 L605.3,474.9 L609.2,476.2 L613.0,477.4 L616.9,478.6 L620.8,479.6 L624.7,480.6 L628.5,481.6 L632.4,482.4 L636.2,483.2 L640.0,483.9 L643.8,484.5 L647.7,485.1 L651.5,485.5 L655.3,485.9 L659.1,486.2 L662.9,486.4 L666.8,486.6 L670.7,486.6 L674.7,486.6 L678.6,486.5 L682.3,486.4 L685.8,486.3 L689.1,486.1 L692.3,485.8 L695.3,485.5 L698.5,485.1 L701.7,484.6 L704.7,484.2 L707.5,483.7 L710.4,483.0 L713.6,482.0 L717.5,480.7 L721.9,479.0 L726.5,477.1 L731.0,475.1 L735.1,473.1 L739.0,471.2 L742.7,469.2 L746.1,467.1 L749.2,465.1 L751.9,463.1 L754.4,461.1 L756.5,459.2 L758.3,457.2 L759.9,455.2 L761.4,453.0 L762.8,450.4 L764.2,447.3 L765.5,443.8 L766.7,440.2 L767.8,436.7 L767.8,436.6 L768.9,433.5 L769.6,431.0 L770.1,429.1 L770.4,427.4 L770.4,425.4 L770.1,422.5 L769.5,418.8 L768.6,414.7 L767.6,410.9 L766.5,407.7 L765.6,405.4 L764.7,403.4 L763.6,401.7 L762.3,399.8 L760.7,397.7 L759.0,395.6 L757.4,393.8 L755.8,392.1 L753.9,390.4 L751.7,388.7 L748.9,386.8 L745.7,384.8 L742.2,382.8 L738.8,381.1 L735.7,379.8 L732.8,378.9 L729.8,378.2 L726.6,377.6 L723.1,377.2 L719.6,376.7 L716.1,376.4 L712.7,376.2 L709.2,376.0 L705.6,375.9 L702.1,375.9 L698.6,375.9 L695.0,376.0 L691.4,376.2 L691.4,376.2 L687.6,376.3 L687.5,376.3 L683.8,376.4 L683.7,376.4 L680.0,376.5 L676.2,376.5 L676.1,376.5 L672.4,376.6 L672.2,376.6 L668.5,376.5 L668.1,376.5 L664.4,376.4 L664.1,376.4 L660.4,376.2 L660.2,376.1 L656.4,375.9 L656.2,375.8 L652.4,375.5 L652.1,375.4 L648.3,374.9 L647.9,374.9 L644.2,374.2 L643.8,374.2 L640.1,373.4 L639.8,373.4 L636.1,372.5 L635.7,372.4 L632.0,371.4 L631.6,371.3 L627.9,370.1 L627.4,370.0 L623.7,368.7 L623.2,368.5 L619.5,366.9 L619.0,366.7 L615.3,365.0 L615.0,364.8 L611.2,362.9 L611.0,362.8 L607.2,360.8 L607.0,360.7 L603.3,358.6 L603.1,358.5 L599.3,356.2 L599.1,356.1 L595.2,353.7 L595.0,353.6 L591.1,351.1 L590.9,350.9 L587.2,348.4 L586.9,348.2 L583.5,345.7 L582.7,345.0 L579.9,342.5 L579.1,341.7 L576.8,339.2 L576.7,339.1 L574.8,337.0 L573.1,335.3 L570.6,333.6 L566.7,331.4 L561.6,328.8 L556.1,326.4 L550.7,324.2 L545.6,322.6 L540.8,321.5 L535.9,320.7 L531.0,320.2 L526.1,320.1 L521.1,320.3 L516.0,320.8 L510.7,321.6 L505.6,322.8 L501.0,324.2 L497.5,325.7 L494.6,327.5 L491.9,329.8 L489.2,332.6 L486.6,335.6 L484.3,338.5 L482.7,340.7 L481.7,342.3 L481.0,343.9 L480.3,345.8 L479.6,348.0 L478.9,350.5 L478.4,353.2 L478.0,356.0 L477.7,359.0Z" fill="#f7e7ee"/>
<line x1="518.3" y1="317.1" x2="492.2" y2="362.7" stroke="#edcbd7" stroke-width="6" stroke-linecap="round"/>
<line x1="488.0" y1="402.1" x2="517.2" y2="344.9" stroke="#edcbd7" stroke-width="6" stroke-linecap="round"/>
<line x1="544.3" y1="316.4" x2="514.8" y2="382.0" stroke="#edcbd7" stroke-width="6" stroke-linecap="round"/>
<line x1="512.4" y1="428.8" x2="540.8" y2="356.5" stroke="#edcbd7" stroke-width="6" stroke-linecap="round"/>
<line x1="566.0" y1="323.7" x2="539.8" y2="401.3" stroke="#edcbd7" stroke-width="6" stroke-linecap="round"/>
<line x1="541.4" y1="451.9" x2="564.3" y2="371.3" stroke="#edcbd7" stroke-width="6" stroke-linecap="round"/>
<line x1="585.7" y1="339.7" x2="567.0" y2="419.9" stroke="#edcbd7" stroke-width="6" stroke-linecap="round"/>
<line x1="574.1" y1="469.0" x2="588.8" y2="388.5" stroke="#edcbd7" stroke-width="6" stroke-linecap="round"/>
<line x1="607.5" y1="353.9" x2="596.7" y2="434.8" stroke="#edcbd7" stroke-width="6" stroke-linecap="round"/>
<line x1="608.6" y1="482.8" x2="615.4" y2="401.5" stroke="#edcbd7" stroke-width="6" stroke-linecap="round"/>
<line x1="630.6" y1="364.3" x2="627.7" y2="445.8" stroke="#edcbd7" stroke-width="6" stroke-linecap="round"/>
<line x1="643.9" y1="491.2" x2="642.8" y2="409.3" stroke="#edcbd7" stroke-width="6" stroke-linecap="round"/>
<line x1="653.8" y1="369.0" x2="658.8" y2="450.9" stroke="#edcbd7" stroke-width="6" stroke-linecap="round"/>
<line x1="678.6" y1="493.1" x2="669.5" y2="411.7" stroke="#edcbd7" stroke-width="6" stroke-linecap="round"/>
<line x1="675.6" y1="370.0" x2="688.5" y2="450.7" stroke="#edcbd7" stroke-width="6" stroke-linecap="round"/>
<line x1="711.0" y1="489.6" x2="694.4" y2="410.5" stroke="#edcbd7" stroke-width="6" stroke-linecap="round"/>
<line x1="695.5" y1="369.8" x2="715.3" y2="445.5" stroke="#edcbd7" stroke-width="6" stroke-linecap="round"/>
<line x1="738.8" y1="478.0" x2="716.4" y2="406.8" stroke="#edcbd7" stroke-width="6" stroke-linecap="round"/>
<line x1="713.9" y1="371.0" x2="738.2" y2="436.9" stroke="#edcbd7" stroke-width="6" stroke-linecap="round"/>
<line x1="760.6" y1="461.6" x2="735.7" y2="402.8" stroke="#edcbd7" stroke-width="6" stroke-linecap="round"/>
<line x1="731.8" y1="375.3" x2="755.1" y2="423.6" stroke="#edcbd7" stroke-width="6" stroke-linecap="round"/>
<path d="M840.6,409.5 L841.0,405.2 L841.8,400.8 L842.8,396.4 L844.2,392.2 L845.9,388.3 L847.9,384.7 L850.1,381.4 L852.7,378.2 L855.6,375.2 L859.1,372.4 L863.2,369.6 L867.8,367.0 L872.7,364.5 L877.9,362.3 L883.0,360.5 L888.1,359.2 L893.4,358.3 L898.8,357.6 L904.2,357.2 L909.5,356.8 L914.8,356.6 L920.2,356.5 L925.6,356.6 L930.9,356.7 L936.0,356.8 L940.9,356.9 L945.6,357.2 L950.2,357.4 L955.0,357.4 L960.0,357.3 L965.5,357.0 L971.2,356.5 L977.1,355.8 L982.8,355.0 L988.0,353.8 L992.6,352.3 L996.9,350.6 L1000.9,348.6 L1004.9,346.4 L1009.0,344.0 L1013.2,341.4 L1017.4,338.4 L1021.7,335.4 L1025.9,332.3 L1030.1,329.3 L1034.3,326.4 L1038.5,323.4 L1042.7,320.6 L1046.9,317.8 L1051.1,315.2 L1055.2,312.8 L1059.2,310.4 L1063.3,308.2 L1067.6,306.3 L1072.2,304.7 L1077.4,303.4 L1083.0,302.3 L1088.8,301.5 L1094.5,301.0 L1099.7,300.9 L1104.5,301.1 L1109.0,301.7 L1113.3,302.6 L1117.4,303.9 L1121.5,305.6 L1125.5,307.8 L1129.5,310.4 L1133.4,313.3 L1136.9,316.5 L1140.1,319.6 L1142.9,322.8 L1145.4,326.1 L1147.5,329.5 L1149.4,333.0 L1151.0,336.7 L1152.3,340.5 L1153.4,344.4 L1154.2,348.5 L1154.6,352.7 L1154.8,357.0 L1154.6,361.4 L1154.2,366.0 L1153.4,370.7 L1152.3,375.5 L1151.0,380.3 L1149.3,385.2 L1147.4,390.3 L1145.1,395.4 L1142.7,400.4 L1140.1,405.2 L1137.4,409.8 L1134.5,414.2 L1131.5,418.5 L1128.2,422.8 L1124.6,427.0 L1120.7,431.2 L1116.5,435.5 L1112.0,439.6 L1107.5,443.6 L1102.8,447.3 L1098.1,450.8 L1093.4,454.0 L1088.5,457.0 L1083.3,460.0 L1077.9,462.8 L1072.1,465.6 L1065.9,468.2 L1059.5,470.7 L1053.0,473.1 L1046.7,475.3 L1040.2,477.3 L1033.5,479.2 L1026.9,480.9 L1020.8,482.4 L1015.6,483.6 L1011.6,484.5 L1008.5,485.2 L1005.9,485.7 L1003.3,486.1 L1000.0,486.5 L996.2,486.9 L992.1,487.2 L987.8,487.5 L983.2,487.8 L978.3,488.0 L973.0,488.3 L967.3,488.6 L961.4,488.9 L955.3,489.0 L949.2,489.0 L942.9,488.8 L936.4,488.4 L929.9,487.9 L923.5,487.2 L917.4,486.3 L911.7,485.1 L906.2,483.7 L900.9,482.1 L895.8,480.3 L890.9,478.3 L886.2,476.0 L881.8,473.5 L877.5,470.8 L873.5,468.0 L869.7,465.1 L866.1,462.1 L862.7,459.1 L859.5,455.9 L856.6,452.6 L853.8,449.2 L851.2,445.7 L848.8,442.1 L846.6,438.4 L844.7,434.6 L843.2,430.7 L842.0,426.6 L841.2,422.4 L840.7,418.1 L840.5,413.8Z" fill="#c5d5e1"/>
<path d="M851.6,410.2 L851.5,413.7 L851.7,417.2 L852.1,420.7 L852.7,424.1 L853.6,427.2 L854.8,430.2 L856.3,433.2 L858.1,436.2 L860.2,439.4 L862.5,442.5 L864.9,445.4 L867.5,448.3 L870.3,451.1 L873.3,453.8 L876.5,456.5 L880.0,459.1 L883.7,461.7 L887.4,464.1 L891.3,466.3 L895.4,468.3 L899.7,470.0 L904.3,471.7 L909.1,473.1 L914.1,474.4 L919.4,475.5 L924.9,476.3 L930.9,477.0 L937.1,477.5 L943.4,477.8 L949.4,478.0 L955.2,478.0 L961.0,477.9 L966.8,477.6 L972.4,477.3 L972.4,477.3 L977.7,477.0 L977.8,477.0 L982.6,476.8 L987.2,476.5 L991.3,476.3 L995.2,475.9 L998.8,475.6 L1001.8,475.2 L1004.1,474.8 L1006.4,474.4 L1009.1,473.8 L1013.1,472.9 L1018.2,471.7 L1024.3,470.2 L1030.7,468.6 L1037.1,466.8 L1043.3,464.8 L1049.3,462.8 L1055.6,460.5 L1061.7,458.0 L1067.5,455.5 L1073.0,452.9 L1078.1,450.3 L1082.8,447.6 L1087.4,444.8 L1091.8,441.8 L1096.1,438.6 L1100.4,435.1 L1104.7,431.4 L1108.8,427.6 L1112.8,423.6 L1116.4,419.7 L1119.6,415.9 L1122.6,412.0 L1125.4,408.1 L1128.0,404.0 L1130.5,399.8 L1132.9,395.4 L1135.2,390.8 L1137.2,386.1 L1139.0,381.5 L1140.5,377.1 L1141.7,372.8 L1142.6,368.6 L1143.3,364.6 L1143.7,360.7 L1143.8,357.0 L1143.7,353.5 L1143.3,350.2 L1142.7,346.9 L1141.8,343.8 L1140.8,340.7 L1139.5,337.8 L1138.0,335.0 L1136.3,332.3 L1134.3,329.7 L1132.1,327.1 L1129.4,324.5 L1126.4,321.8 L1123.2,319.3 L1119.9,317.2 L1116.8,315.6 L1113.7,314.3 L1110.5,313.3 L1107.1,312.6 L1103.5,312.1 L1099.5,311.9 L1095.0,312.0 L1090.0,312.4 L1084.8,313.1 L1079.8,314.1 L1075.4,315.2 L1071.7,316.5 L1068.2,318.1 L1064.6,320.0 L1060.8,322.2 L1056.8,324.6 L1052.8,327.1 L1048.9,329.7 L1044.8,332.5 L1040.6,335.4 L1040.6,335.4 L1036.4,338.3 L1032.3,341.2 L1028.2,344.2 L1028.1,344.3 L1023.9,347.3 L1023.7,347.5 L1019.5,350.4 L1019.0,350.7 L1014.8,353.3 L1014.5,353.5 L1010.4,355.9 L1010.2,356.0 L1006.3,358.2 L1005.8,358.4 L1001.8,360.4 L1001.1,360.7 L996.8,362.5 L996.0,362.8 L991.3,364.3 L990.4,364.5 L985.2,365.7 L984.5,365.8 L978.8,366.7 L978.3,366.8 L972.5,367.4 L972.1,367.5 L966.3,367.9 L966.1,367.9 L960.7,368.3 L960.3,368.3 L955.3,368.4 L954.8,368.4 L950.0,368.4 L949.7,368.4 L945.1,368.1 L945.1,368.1 L940.5,367.9 L935.8,367.8 L930.7,367.7 L930.6,367.7 L925.4,367.6 L920.2,367.5 L915.1,367.6 L910.1,367.8 L905.0,368.1 L899.9,368.6 L895.0,369.1 L890.5,369.9 L886.2,371.0 L881.9,372.6 L877.3,374.5 L873.0,376.6 L869.0,378.9 L865.7,381.2 L863.0,383.4 L860.8,385.6 L859.0,387.9 L857.3,390.4 L855.8,393.1 L854.5,396.1 L853.4,399.4 L852.6,403.0 L851.9,406.6Z" fill="#dce9f0"/>
<line x1="858.1" y1="443.2" x2="881.2" y2="392.0" stroke="#c5d5e1" stroke-width="6" stroke-linecap="round"/>
<line x1="902.7" y1="363.7" x2="878.5" y2="423.1" stroke="#c5d5e1" stroke-width="6" stroke-linecap="round"/>
<line x1="875.8" y1="462.8" x2="899.9" y2="396.4" stroke="#c5d5e1" stroke-width="6" stroke-linecap="round"/>
<line x1="922.2" y1="361.7" x2="898.9" y2="433.7" stroke="#c5d5e1" stroke-width="6" stroke-linecap="round"/>
<line x1="899.6" y1="476.8" x2="921.1" y2="400.6" stroke="#c5d5e1" stroke-width="6" stroke-linecap="round"/>
<line x1="942.5" y1="361.6" x2="923.4" y2="440.5" stroke="#c5d5e1" stroke-width="6" stroke-linecap="round"/>
<line x1="928.5" y1="483.4" x2="944.8" y2="403.1" stroke="#c5d5e1" stroke-width="6" stroke-linecap="round"/>
<line x1="964.4" y1="361.5" x2="951.0" y2="442.7" stroke="#c5d5e1" stroke-width="6" stroke-linecap="round"/>
<line x1="960.2" y1="484.5" x2="970.7" y2="402.6" stroke="#c5d5e1" stroke-width="6" stroke-linecap="round"/>
<line x1="988.0" y1="358.5" x2="980.6" y2="441.2" stroke="#c5d5e1" stroke-width="6" stroke-linecap="round"/>
<line x1="993.6" y1="482.9" x2="998.0" y2="398.0" stroke="#c5d5e1" stroke-width="6" stroke-linecap="round"/>
<line x1="1012.6" y1="347.5" x2="1011.3" y2="435.4" stroke="#c5d5e1" stroke-width="6" stroke-linecap="round"/>
<line x1="1027.8" y1="476.7" x2="1025.8" y2="385.9" stroke="#c5d5e1" stroke-width="6" stroke-linecap="round"/>
<line x1="1036.6" y1="330.2" x2="1042.2" y2="423.9" stroke="#c5d5e1" stroke-width="6" stroke-linecap="round"/>
<line x1="1062.1" y1="465.9" x2="1052.9" y2="370.7" stroke="#c5d5e1" stroke-width="6" stroke-linecap="round"/>
<line x1="1059.6" y1="314.6" x2="1072.3" y2="409.4" stroke="#c5d5e1" stroke-width="6" stroke-linecap="round"/>
<line x1="1095.0" y1="447.8" x2="1079.2" y2="356.0" stroke="#c5d5e1" stroke-width="6" stroke-linecap="round"/>
<line x1="1083.1" y1="306.3" x2="1100.9" y2="391.1" stroke="#c5d5e1" stroke-width="6" stroke-linecap="round"/>
<line x1="1123.8" y1="418.4" x2="1105.3" y2="344.1" stroke="#c5d5e1" stroke-width="6" stroke-linecap="round"/>
<line x1="1109.6" y1="308.7" x2="1126.7" y2="367.5" stroke="#c5d5e1" stroke-width="6" stroke-linecap="round"/>
<line x1="1143.6" y1="370.5" x2="1132.7" y2="337.5" stroke="#c5d5e1" stroke-width="6" stroke-linecap="round"/>
<g clip-path="url(#clipL)" fill="none" stroke-linecap="round">
<path d="M560.0,671.4 A331.5,331.5 0 0 1 598.0,634.9" stroke="#6f8fc0" stroke-width="13"/><path d="M560.0,671.4 A331.5,331.5 0 0 1 598.0,634.9" stroke="#a9c5ec" stroke-width="8"/>
<path d="M631.5,610.8 A331.5,331.5 0 0 1 707.5,575.5" stroke="#6f8fc0" stroke-width="13"/><path d="M631.5,610.8 A331.5,331.5 0 0 1 707.5,575.5" stroke="#a9c5ec" stroke-width="8"/>
<path d="M751.5,564.8 A331.5,331.5 0 0 1 860.0,564.0" stroke="#6f8fc0" stroke-width="13"/><path d="M751.5,564.8 A331.5,331.5 0 0 1 860.0,564.0" stroke="#a9c5ec" stroke-width="8"/>
</g>
<g clip-path="url(#clipR)" fill="none" stroke-linecap="round">
<path d="M752.0,564.7 A331.5,331.5 0 0 1 867.0,565.2" stroke="#c9a2a2" stroke-width="13"/><path d="M752.0,564.7 A331.5,331.5 0 0 1 867.0,565.2" stroke="#fcd7d7" stroke-width="8"/>
<path d="M914.0,577.3 A331.5,331.5 0 0 1 986.0,611.7" stroke="#c9a2a2" stroke-width="13"/><path d="M914.0,577.3 A331.5,331.5 0 0 1 986.0,611.7" stroke="#fcd7d7" stroke-width="8"/>
<path d="M1024.0,639.9 A331.5,331.5 0 0 1 1070.0,688.3" stroke="#c9a2a2" stroke-width="13"/><path d="M1024.0,639.9 A331.5,331.5 0 0 1 1070.0,688.3" stroke="#fcd7d7" stroke-width="8"/>
</g>
<rect x="392.5" y="147" width="415.5" height="17" fill="#8f7fb8"/>
<rect x="392.5" y="151.5" width="415.5" height="8" fill="#c9b6e3"/>
<rect x="808" y="147" width="401" height="17" fill="#a6b2a3"/>
<rect x="808" y="151.5" width="401" height="8" fill="#dde8d9"/>
<path d="M413.5,32.8 C423,34 434,34 443.5,33.4" fill="none" stroke="#e3608f" stroke-width="1.3" stroke-linecap="round"/>
<text x="410.5" y="72.5" font-size="24.0" font-weight="bold" textLength="140.5" lengthAdjust="spacingAndGlyphs" fill="#000">Cancer cells</text>
<text x="1056.0" y="72.5" font-size="24.0" font-weight="bold" textLength="121.5" lengthAdjust="spacingAndGlyphs" fill="#000">Norm cells</text>
<use href="#np" x="508.5" y="82.5" width="49.0" height="49.0"/>
<use href="#np" x="556.5" y="59.0" width="39.0" height="39.0"/>
<use href="#np" x="679.0" y="29.9" width="39.0" height="39.0"/>
<use href="#np" x="839.4" y="52.4" width="57.2" height="57.2"/>
<use href="#np" x="930.3" y="79.8" width="40.0" height="40.0"/>
<use href="#np" x="990.6" y="72.3" width="42.4" height="42.4"/>
<path d="M703.3,143 L703.3,160 C703.3,168 702.5,173 700.3,178.5" fill="none" stroke="#4b2f93" stroke-width="3" stroke-linecap="round"/>
<line x1="703.3" y1="123.5" x2="703.3" y2="143.5" stroke="#b3246f" stroke-width="3"/>
<path d="M685,127 C690,127.5 693.5,126 693.5,122 C693.5,118 685,118.5 685,114 C685,109.5 693.5,108.5 693.5,104.1 C693.5,99.7 685,100 685,95.7 C685,91.5 693.5,91.5 693.5,87.3 C693.5,83 684.3,83 684.3,77.5 C684.3,73.5 686.5,71.8 690,71.8 L712,71.8 C715.5,71.8 718,73.5 718,77.5 C718,83 707.5,83 707.5,87.3 C707.5,91.5 717.5,91.5 717.5,95.7 C717.5,100 707.5,99.7 707.5,104.1 C707.5,108.5 718,109.5 718,114 C718,120 703.3,117 703.3,124" fill="none" stroke="#4b2f93" stroke-width="3" stroke-linecap="round" stroke-linejoin="round"/>
<text x="700.8" y="88.3" font-size="4.6" font-weight="bold" text-anchor="middle" fill="#222">s-s</text>
<text x="700.8" y="105.3" font-size="4.6" font-weight="bold" text-anchor="middle" fill="#222">s-s</text>
<text x="700.8" y="119.3" font-size="4.6" font-weight="bold" text-anchor="middle" fill="#222">s-s</text>
<text x="636.8" y="139.0" font-size="17.0" font-weight="bold" textLength="45.4" lengthAdjust="spacingAndGlyphs" fill="#000">CD44</text>
<use href="#np" x="599.7" y="180.3" width="23.4" height="23.4"/>
<use href="#np" x="664.1" y="176.2" width="54.6" height="54.6"/>
<use href="#np" x="754.9" y="208.7" width="20.0" height="20.0"/>
<use href="#np" x="758.8" y="232.3" width="30.4" height="30.4"/>
<use href="#np" x="679.2" y="241.5" width="15.0" height="15.0"/>
<text x="661.6" y="236.9" font-size="17.5" font-weight="bold" textLength="119.2" lengthAdjust="spacingAndGlyphs" fill="#000">Accumulation</text>
<line x1="647.8" y1="241.6" x2="630.8" y2="252.8" stroke="#1a1a1a" stroke-width="1.50"/><path d="M624.1,257.2 L630.0,247.9 L632.5,251.7 L634.9,255.5Z" fill="#1a1a1a"/>
<text x="565.7" y="276.0" font-size="21.5" font-weight="bold" textLength="42.8" lengthAdjust="spacingAndGlyphs" fill="#a4282c">HAL</text>
<text x="429.9" y="294.2" font-size="16.5" font-weight="bold" textLength="37.4" lengthAdjust="spacingAndGlyphs" fill="#000">CPIII</text>
<text x="507.1" y="349.0" font-size="16.5" textLength="43.6" lengthAdjust="spacingAndGlyphs" fill="#000">PPOX</text>
<text x="521.2" y="408.7" font-size="16.5" textLength="44.0" lengthAdjust="spacingAndGlyphs" fill="#000">CPOX</text>
<circle cx="621.3" cy="449.3" r="14.5" fill="url(#glow)"/>
<text x="592.2" y="445.3" font-size="21.5" font-weight="bold" textLength="49.8" lengthAdjust="spacingAndGlyphs" fill="#b88ccb">PPIX</text>
<circle cx="621.3" cy="449" r="4" fill="#ffd36a" opacity="0.55"/><circle cx="621.3" cy="449" r="2.2" fill="#fff6b0"/>
<text x="622.4" y="407.9" font-size="15.5" font-weight="bold" textLength="110.9" lengthAdjust="spacingAndGlyphs" fill="#000">Ferrochelatase</text>
<text x="719.1" y="437.8" font-size="16.5" textLength="45.3" lengthAdjust="spacingAndGlyphs" fill="#444">Heme</text>
<line x1="737.0" y1="393.7" x2="737.0" y2="407.5" stroke="#c0504d" stroke-width="0.90"/><path d="M737.0,411.5 L735.0,406.5 L737.0,406.5 L739.0,406.5Z" fill="#c0504d"/>
<line x1="642.0" y1="428.9" x2="706.8" y2="428.9" stroke="#1a1a1a" stroke-width="1.20"/><path d="M712.0,428.9 L705.5,431.6 L705.5,428.9 L705.5,426.1Z" fill="#1a1a1a"/>
<line x1="713.0" y1="437.6" x2="647.2" y2="437.6" stroke="#1a1a1a" stroke-width="1.20"/><path d="M642.0,437.6 L648.5,434.9 L648.5,437.6 L648.5,440.4Z" fill="#1a1a1a"/>
<path d="M552.10,249.77 L551.52,249.50 L550.83,249.15 L550.04,248.74 L549.15,248.28 L548.19,247.77 L547.16,247.23 L546.06,246.67 L544.92,246.09 L543.73,245.51 L542.52,244.93 L541.28,244.37 L540.03,243.82 L538.78,243.32 L537.53,242.85 L536.31,242.44 L535.11,242.09 L533.93,241.78 L532.73,241.48 L531.52,241.19 L530.29,240.91 L529.04,240.65 L527.78,240.41 L526.50,240.19 L525.22,240.00 L523.91,239.83 L522.60,239.70 L521.28,239.61 L519.94,239.55 L518.60,239.54 L517.25,239.58 L515.89,239.66 L514.53,239.79 L513.17,239.96 L511.80,240.14 L510.42,240.35 L509.02,240.58 L507.62,240.84 L506.20,241.14 L504.77,241.48 L503.33,241.86 L501.89,242.31 L500.43,242.80 L498.96,243.37 L497.49,244.00 L496.01,244.70 L494.52,245.49 L493.03,246.35 L491.53,247.31 L489.97,248.43 L488.32,249.74 L486.62,251.21 L484.87,252.81 L483.09,254.51 L481.29,256.29 L479.51,258.11 L477.75,259.94 L476.04,261.76 L474.40,263.53 L472.84,265.22 L474.42,266.66 L475.95,264.94 L477.56,263.15 L479.22,261.31 L480.93,259.46 L482.66,257.63 L484.40,255.84 L486.12,254.13 L487.81,252.53 L489.45,251.07 L491.01,249.78 L492.47,248.69 L493.89,247.74 L495.31,246.88 L496.73,246.10 L498.14,245.40 L499.55,244.77 L500.95,244.20 L502.35,243.69 L503.74,243.24 L505.13,242.83 L506.51,242.48 L507.89,242.16 L509.26,241.88 L510.63,241.63 L511.99,241.40 L513.34,241.20 L514.67,241.01 L515.99,240.85 L517.31,240.75 L518.62,240.69 L519.93,240.68 L521.23,240.71 L522.52,240.78 L523.81,240.88 L525.08,241.02 L526.35,241.18 L527.61,241.37 L528.86,241.59 L530.10,241.83 L531.32,242.08 L532.53,242.34 L533.72,242.62 L534.89,242.91 L536.07,243.23 L537.27,243.61 L538.50,244.04 L539.75,244.52 L540.99,245.03 L542.23,245.56 L543.44,246.12 L544.63,246.67 L545.78,247.23 L546.88,247.77 L547.92,248.29 L548.90,248.78 L549.79,249.22 L550.59,249.62 L551.30,249.96 L551.90,250.23Z" fill="#1a1a1a"/><path d="M467.8,272.3 L471.5,260.8 L474.3,265.2 L478.9,267.6Z" fill="#1a1a1a"/>
<path d="M454.00,298.40 L454.00,299.16 L453.97,300.09 L453.92,301.17 L453.86,302.38 L453.79,303.70 L453.72,305.11 L453.66,306.59 L453.61,308.13 L453.57,309.71 L453.57,311.30 L453.59,312.88 L453.66,314.45 L453.77,315.98 L453.94,317.45 L454.16,318.85 L454.45,320.15 L454.81,321.39 L455.23,322.62 L455.69,323.86 L456.20,325.08 L456.76,326.29 L457.35,327.48 L457.98,328.66 L458.64,329.80 L459.32,330.92 L460.02,332.00 L460.74,333.05 L461.47,334.05 L462.21,335.01 L462.95,335.92 L463.69,336.77 L464.42,337.57 L465.16,338.31 L465.92,338.99 L466.68,339.62 L467.45,340.20 L468.24,340.73 L469.04,341.21 L469.85,341.66 L470.68,342.07 L471.51,342.44 L472.36,342.79 L473.22,343.11 L474.10,343.41 L474.99,343.69 L475.90,343.95 L476.82,344.21 L477.77,344.46 L478.80,344.70 L479.92,344.90 L481.09,345.06 L482.32,345.20 L483.57,345.31 L484.85,345.39 L486.12,345.46 L487.38,345.51 L487.44,343.30 L486.20,343.28 L484.95,343.25 L483.71,343.20 L482.50,343.12 L481.33,343.02 L480.21,342.89 L479.18,342.73 L478.23,342.54 L477.31,342.32 L476.41,342.09 L475.53,341.86 L474.67,341.61 L473.83,341.35 L473.01,341.06 L472.21,340.76 L471.42,340.43 L470.66,340.07 L469.90,339.68 L469.16,339.26 L468.43,338.79 L467.71,338.28 L466.99,337.72 L466.28,337.10 L465.58,336.43 L464.86,335.70 L464.14,334.90 L463.40,334.04 L462.67,333.14 L461.94,332.18 L461.22,331.19 L460.51,330.15 L459.82,329.08 L459.16,327.99 L458.52,326.86 L457.92,325.72 L457.35,324.56 L456.82,323.39 L456.34,322.21 L455.92,321.03 L455.55,319.85 L455.24,318.63 L454.99,317.29 L454.79,315.87 L454.65,314.38 L454.55,312.84 L454.48,311.28 L454.45,309.71 L454.44,308.14 L454.46,306.61 L454.48,305.13 L454.52,303.72 L454.56,302.40 L454.59,301.19 L454.61,300.11 L454.62,299.17 L454.60,298.40Z" fill="#1a1a1a"/><path d="M495.2,344.5 L484.1,349.4 L485.5,344.4 L484.3,339.4Z" fill="#1a1a1a"/>
<path d="M550.85,349.07 L551.29,349.25 L551.84,349.45 L552.48,349.66 L553.18,349.88 L553.95,350.12 L554.77,350.38 L555.62,350.67 L556.50,350.97 L557.38,351.30 L558.25,351.66 L559.11,352.05 L559.92,352.46 L560.69,352.91 L561.40,353.38 L562.03,353.88 L562.57,354.41 L563.07,355.00 L563.56,355.66 L564.03,356.37 L564.49,357.13 L564.92,357.93 L565.33,358.76 L565.71,359.62 L566.07,360.50 L566.39,361.40 L566.69,362.30 L566.95,363.20 L567.18,364.10 L567.36,364.98 L567.51,365.84 L567.62,366.67 L567.69,367.46 L567.71,368.22 L567.69,368.99 L567.62,369.75 L567.51,370.51 L567.36,371.28 L567.18,372.04 L566.96,372.81 L566.71,373.57 L566.44,374.33 L566.15,375.09 L565.83,375.85 L565.50,376.60 L565.16,377.35 L564.81,378.10 L564.45,378.84 L564.10,379.56 L563.72,380.27 L563.30,381.01 L562.82,381.77 L562.31,382.54 L561.76,383.32 L561.20,384.10 L562.97,385.35 L563.53,384.53 L564.07,383.70 L564.59,382.87 L565.07,382.04 L565.52,381.23 L565.90,380.44 L566.25,379.68 L566.59,378.92 L566.93,378.14 L567.26,377.36 L567.58,376.56 L567.88,375.76 L568.17,374.95 L568.44,374.13 L568.68,373.30 L568.89,372.46 L569.06,371.62 L569.20,370.77 L569.30,369.92 L569.35,369.06 L569.36,368.20 L569.31,367.34 L569.21,366.47 L569.06,365.58 L568.87,364.66 L568.65,363.73 L568.38,362.79 L568.08,361.85 L567.74,360.91 L567.37,359.98 L566.97,359.07 L566.54,358.17 L566.08,357.31 L565.60,356.47 L565.09,355.68 L564.56,354.93 L564.01,354.23 L563.43,353.59 L562.78,352.99 L562.06,352.45 L561.27,351.95 L560.43,351.50 L559.55,351.09 L558.65,350.71 L557.73,350.37 L556.82,350.05 L555.92,349.77 L555.04,349.50 L554.21,349.26 L553.43,349.05 L552.72,348.84 L552.10,348.66 L551.57,348.49 L551.15,348.33Z" fill="#1a1a1a"/><path d="M557.3,391.0 L559.4,380.0 L562.7,384.0 L567.4,386.1Z" fill="#1a1a1a"/>
<path d="M538.30,412.24 L538.36,412.79 L538.42,413.46 L538.46,414.25 L538.51,415.13 L538.56,416.09 L538.62,417.12 L538.69,418.20 L538.78,419.33 L538.88,420.48 L539.01,421.64 L539.16,422.81 L539.35,423.97 L539.57,425.10 L539.84,426.19 L540.15,427.23 L540.51,428.20 L540.92,429.13 L541.36,430.06 L541.83,430.99 L542.34,431.92 L542.89,432.84 L543.46,433.75 L544.06,434.65 L544.70,435.54 L545.35,436.40 L546.04,437.24 L546.74,438.05 L547.47,438.84 L548.21,439.59 L548.97,440.31 L549.75,440.98 L550.54,441.62 L551.35,442.20 L552.18,442.75 L553.02,443.27 L553.88,443.75 L554.76,444.19 L555.66,444.61 L556.57,444.99 L557.51,445.35 L558.47,445.69 L559.45,446.00 L560.46,446.28 L561.48,446.55 L562.53,446.81 L563.61,447.04 L564.71,447.27 L565.84,447.48 L567.07,447.68 L568.40,447.84 L569.82,447.97 L571.31,448.08 L572.84,448.16 L574.40,448.23 L575.97,448.27 L577.53,448.31 L579.06,448.33 L579.06,445.96 L577.54,445.98 L576.00,445.99 L574.45,445.99 L572.92,445.97 L571.41,445.94 L569.97,445.87 L568.59,445.79 L567.32,445.67 L566.16,445.52 L565.06,445.34 L563.98,445.15 L562.93,444.95 L561.91,444.74 L560.92,444.51 L559.95,444.26 L559.01,443.99 L558.09,443.70 L557.19,443.38 L556.32,443.05 L555.46,442.68 L554.63,442.29 L553.81,441.86 L553.01,441.41 L552.23,440.91 L551.46,440.38 L550.70,439.81 L549.95,439.20 L549.20,438.54 L548.48,437.85 L547.76,437.12 L547.06,436.35 L546.39,435.57 L545.73,434.75 L545.09,433.92 L544.49,433.07 L543.91,432.20 L543.35,431.32 L542.83,430.44 L542.35,429.56 L541.90,428.67 L541.49,427.80 L541.12,426.89 L540.80,425.91 L540.52,424.87 L540.27,423.79 L540.05,422.67 L539.87,421.53 L539.71,420.38 L539.57,419.25 L539.46,418.14 L539.36,417.06 L539.27,416.04 L539.19,415.08 L539.12,414.20 L539.05,413.41 L538.98,412.73 L538.90,412.16Z" fill="#1a1a1a"/><path d="M587.2,447.1 L576.2,452.4 L577.5,447.1 L576.2,441.9Z" fill="#1a1a1a"/>
<line x1="616.7" y1="467.0" x2="616.7" y2="501.6" stroke="#1a1a1a" stroke-width="1.30"/><path d="M616.7,507.2 L613.7,500.2 L616.7,500.2 L619.7,500.2Z" fill="#1a1a1a"/>
<path d="M346.5,352.5 C350,361 352,365 354.4,370 C360,383 366,393 374.4,405 C382,416 390,429 399,441 C412,455 425,463 440,471 C455,481 472,497 490,508.5 C506,517 522,523 540,526 C556,529 572,531 590,531 L603,531" fill="none" stroke="#9a9a9a" stroke-width="1"/>
<path d="M342.3,345.5 L350.6,352.7 L346.5,354.6 L342.5,356.5Z" fill="#9a9a9a"/>
<circle cx="586.2" cy="517.3" r="17.0" fill="url(#glow)"/>
<circle cx="597.5" cy="540.5" r="16.5" fill="url(#glow)"/>
<circle cx="632.8" cy="542.1" r="13.5" fill="url(#glow)"/>
<circle cx="613.7" cy="524.9" r="19.0" fill="url(#glow)"/>
<use href="#np" x="935.0" y="206.0" width="31.0" height="31.0"/>
<line x1="990.0" y1="244.0" x2="1006.6" y2="254.5" stroke="#1a1a1a" stroke-width="1.40"/><path d="M1012.7,258.4 L1003.0,257.0 L1005.1,253.6 L1007.2,250.2Z" fill="#1a1a1a"/>
<text x="1026.2" y="271.5" font-size="21.5" font-weight="bold" textLength="44.5" lengthAdjust="spacingAndGlyphs" fill="#a4282c">HAL</text>
<text x="1168.0" y="289.8" font-size="16.5" font-weight="bold" textLength="36.7" lengthAdjust="spacingAndGlyphs" fill="#000">CPIII</text>
<text x="1084.7" y="345.7" font-size="16.5" textLength="43.6" lengthAdjust="spacingAndGlyphs" fill="#000">PPOX</text>
<text x="1069.9" y="405.5" font-size="16.5" textLength="43.6" lengthAdjust="spacingAndGlyphs" fill="#000">CPOX</text>
<text x="1006.1" y="438.2" font-size="16.5" textLength="36.3" lengthAdjust="spacingAndGlyphs" fill="#333">PPIX</text>
<text x="908.4" y="407.6" font-size="15.5" font-weight="bold" textLength="110.9" lengthAdjust="spacingAndGlyphs" fill="#000">Ferrochelatase</text>
<text x="853.6" y="438.7" font-size="21.5" font-weight="bold" textLength="59.8" lengthAdjust="spacingAndGlyphs" fill="#a1543c">Heme</text>
<line x1="881.5" y1="384.7" x2="881.5" y2="350.8" stroke="#1a1a1a" stroke-width="1.10"/><path d="M881.5,346.0 L884.0,352.0 L881.5,352.0 L879.0,352.0Z" fill="#1a1a1a"/>
<line x1="993.0" y1="425.3" x2="927.8" y2="425.3" stroke="#1a1a1a" stroke-width="1.20"/><path d="M922.6,425.3 L929.1,422.6 L929.1,425.3 L929.1,428.1Z" fill="#1a1a1a"/>
<line x1="922.6" y1="433.2" x2="987.9" y2="433.2" stroke="#1a1a1a" stroke-width="1.20"/><path d="M993.1,433.2 L986.6,435.9 L986.6,433.2 L986.6,430.4Z" fill="#1a1a1a"/>
<path d="M1086.08,242.94 L1086.67,242.75 L1087.39,242.52 L1088.21,242.24 L1089.12,241.93 L1090.12,241.59 L1091.19,241.23 L1092.31,240.85 L1093.48,240.46 L1094.68,240.08 L1095.91,239.70 L1097.15,239.33 L1098.38,238.98 L1099.61,238.66 L1100.80,238.37 L1101.96,238.12 L1103.08,237.92 L1104.16,237.73 L1105.23,237.55 L1106.29,237.38 L1107.34,237.21 L1108.39,237.06 L1109.43,236.92 L1110.48,236.80 L1111.54,236.70 L1112.62,236.63 L1113.71,236.59 L1114.82,236.59 L1115.97,236.62 L1117.14,236.69 L1118.35,236.81 L1119.60,236.97 L1120.90,237.19 L1122.27,237.45 L1123.70,237.73 L1125.19,238.03 L1126.72,238.37 L1128.28,238.73 L1129.88,239.13 L1131.49,239.57 L1133.12,240.05 L1134.75,240.58 L1136.37,241.15 L1137.98,241.77 L1139.57,242.44 L1141.12,243.17 L1142.64,243.96 L1144.11,244.80 L1145.52,245.71 L1146.92,246.74 L1148.36,247.94 L1149.84,249.28 L1151.33,250.74 L1152.82,252.29 L1154.30,253.91 L1155.77,255.57 L1157.19,257.24 L1158.57,258.89 L1159.90,260.51 L1161.52,259.15 L1160.16,257.55 L1158.73,255.91 L1157.26,254.25 L1155.74,252.60 L1154.20,250.98 L1152.64,249.42 L1151.08,247.94 L1149.52,246.58 L1147.98,245.35 L1146.48,244.29 L1144.97,243.36 L1143.42,242.51 L1141.82,241.72 L1140.19,241.00 L1138.54,240.33 L1136.88,239.73 L1135.20,239.18 L1133.53,238.67 L1131.86,238.21 L1130.21,237.80 L1128.59,237.42 L1126.99,237.08 L1125.44,236.78 L1123.94,236.50 L1122.49,236.24 L1121.10,236.01 L1119.76,235.81 L1118.47,235.67 L1117.22,235.57 L1116.00,235.52 L1114.83,235.51 L1113.68,235.54 L1112.56,235.60 L1111.46,235.70 L1110.37,235.82 L1109.31,235.96 L1108.25,236.12 L1107.19,236.30 L1106.14,236.48 L1105.08,236.68 L1104.01,236.88 L1102.92,237.08 L1101.79,237.31 L1100.62,237.59 L1099.41,237.91 L1098.18,238.26 L1096.94,238.63 L1095.70,239.03 L1094.47,239.44 L1093.27,239.85 L1092.11,240.26 L1090.99,240.66 L1089.93,241.04 L1088.94,241.40 L1088.03,241.73 L1087.22,242.02 L1086.51,242.27 L1085.92,242.46Z" fill="#1a1a1a"/><path d="M1166.8,267.1 L1155.9,261.9 L1160.6,259.7 L1163.5,255.5Z" fill="#1a1a1a"/>
<path d="M1180.50,296.41 L1180.51,297.00 L1180.55,297.71 L1180.61,298.52 L1180.68,299.43 L1180.76,300.41 L1180.84,301.47 L1180.92,302.57 L1180.98,303.72 L1181.03,304.90 L1181.06,306.10 L1181.07,307.30 L1181.04,308.49 L1180.97,309.66 L1180.86,310.79 L1180.71,311.87 L1180.50,312.89 L1180.24,313.90 L1179.94,314.93 L1179.61,315.98 L1179.25,317.03 L1178.85,318.09 L1178.42,319.15 L1177.96,320.20 L1177.48,321.24 L1176.97,322.26 L1176.44,323.27 L1175.88,324.24 L1175.31,325.18 L1174.71,326.08 L1174.10,326.95 L1173.47,327.76 L1172.84,328.52 L1172.18,329.23 L1171.50,329.91 L1170.81,330.55 L1170.09,331.16 L1169.35,331.75 L1168.59,332.30 L1167.80,332.82 L1167.00,333.32 L1166.17,333.80 L1165.31,334.25 L1164.44,334.68 L1163.53,335.10 L1162.61,335.50 L1161.66,335.88 L1160.68,336.25 L1159.69,336.61 L1158.64,336.94 L1157.48,337.25 L1156.24,337.53 L1154.92,337.80 L1153.55,338.04 L1152.14,338.26 L1150.72,338.47 L1149.31,338.66 L1149.62,340.81 L1151.04,340.58 L1152.48,340.33 L1153.91,340.07 L1155.32,339.78 L1156.68,339.47 L1157.98,339.14 L1159.20,338.78 L1160.31,338.39 L1161.35,337.99 L1162.35,337.59 L1163.33,337.16 L1164.28,336.72 L1165.21,336.26 L1166.13,335.78 L1167.01,335.28 L1167.88,334.76 L1168.72,334.20 L1169.54,333.63 L1170.34,333.02 L1171.11,332.38 L1171.86,331.71 L1172.58,331.00 L1173.29,330.26 L1173.96,329.48 L1174.62,328.66 L1175.26,327.78 L1175.88,326.86 L1176.48,325.90 L1177.05,324.91 L1177.60,323.89 L1178.12,322.84 L1178.62,321.77 L1179.09,320.69 L1179.53,319.60 L1179.94,318.50 L1180.32,317.40 L1180.67,316.31 L1180.98,315.23 L1181.26,314.16 L1181.50,313.11 L1181.69,312.03 L1181.83,310.89 L1181.91,309.72 L1181.95,308.52 L1181.95,307.30 L1181.91,306.08 L1181.85,304.87 L1181.77,303.68 L1181.67,302.52 L1181.57,301.40 L1181.46,300.35 L1181.36,299.37 L1181.26,298.47 L1181.18,297.66 L1181.13,296.97 L1181.10,296.39Z" fill="#1a1a1a"/><path d="M1140.6,340.9 L1150.8,334.5 L1150.2,339.6 L1152.2,344.4Z" fill="#1a1a1a"/>
<path d="M1083.75,346.23 L1083.32,346.40 L1082.79,346.58 L1082.16,346.78 L1081.45,347.00 L1080.67,347.24 L1079.83,347.50 L1078.95,347.78 L1078.05,348.09 L1077.13,348.42 L1076.22,348.77 L1075.33,349.16 L1074.46,349.57 L1073.64,350.01 L1072.87,350.50 L1072.17,351.02 L1071.56,351.58 L1071.03,352.18 L1070.53,352.82 L1070.08,353.51 L1069.66,354.23 L1069.27,354.98 L1068.91,355.75 L1068.58,356.55 L1068.29,357.37 L1068.02,358.19 L1067.78,359.03 L1067.57,359.87 L1067.38,360.70 L1067.22,361.53 L1067.09,362.35 L1066.98,363.15 L1066.89,363.94 L1066.83,364.72 L1066.81,365.52 L1066.82,366.31 L1066.87,367.11 L1066.94,367.90 L1067.04,368.70 L1067.17,369.49 L1067.32,370.28 L1067.49,371.06 L1067.68,371.84 L1067.88,372.61 L1068.10,373.37 L1068.32,374.13 L1068.56,374.88 L1068.81,375.62 L1069.06,376.35 L1069.34,377.12 L1069.68,377.90 L1070.05,378.70 L1070.44,379.51 L1070.86,380.32 L1071.30,381.11 L1073.19,380.04 L1072.74,379.28 L1072.32,378.52 L1071.92,377.78 L1071.55,377.04 L1071.22,376.33 L1070.94,375.65 L1070.68,374.95 L1070.42,374.24 L1070.17,373.53 L1069.93,372.81 L1069.69,372.08 L1069.48,371.35 L1069.28,370.62 L1069.09,369.89 L1068.93,369.15 L1068.79,368.42 L1068.67,367.68 L1068.58,366.95 L1068.52,366.23 L1068.48,365.50 L1068.48,364.78 L1068.51,364.06 L1068.57,363.33 L1068.65,362.56 L1068.75,361.78 L1068.88,360.99 L1069.03,360.19 L1069.21,359.39 L1069.41,358.59 L1069.64,357.81 L1069.89,357.03 L1070.17,356.28 L1070.48,355.55 L1070.82,354.84 L1071.18,354.17 L1071.57,353.54 L1071.99,352.96 L1072.44,352.42 L1072.94,351.92 L1073.54,351.45 L1074.22,350.99 L1074.98,350.55 L1075.79,350.13 L1076.64,349.74 L1077.51,349.36 L1078.39,349.01 L1079.27,348.69 L1080.12,348.38 L1080.94,348.10 L1081.72,347.83 L1082.43,347.59 L1083.07,347.36 L1083.61,347.16 L1084.05,346.97Z" fill="#1a1a1a"/><path d="M1076.0,386.7 L1066.5,380.8 L1071.4,379.2 L1075.0,375.6Z" fill="#1a1a1a"/>
<path d="M1096.70,410.67 L1096.64,411.18 L1096.59,411.79 L1096.55,412.50 L1096.52,413.28 L1096.48,414.14 L1096.43,415.05 L1096.38,416.01 L1096.30,417.00 L1096.21,418.01 L1096.08,419.04 L1095.93,420.07 L1095.74,421.08 L1095.51,422.07 L1095.24,423.03 L1094.91,423.93 L1094.53,424.78 L1094.10,425.62 L1093.61,426.48 L1093.08,427.36 L1092.50,428.24 L1091.88,429.12 L1091.23,429.99 L1090.54,430.86 L1089.83,431.72 L1089.09,432.56 L1088.32,433.38 L1087.54,434.17 L1086.74,434.93 L1085.93,435.66 L1085.11,436.34 L1084.28,436.98 L1083.46,437.57 L1082.62,438.12 L1081.76,438.62 L1080.88,439.10 L1079.97,439.54 L1079.05,439.96 L1078.10,440.34 L1077.14,440.70 L1076.16,441.04 L1075.16,441.35 L1074.15,441.64 L1073.12,441.91 L1072.08,442.16 L1071.03,442.39 L1069.97,442.60 L1068.90,442.81 L1067.82,443.00 L1066.71,443.16 L1065.52,443.29 L1064.26,443.39 L1062.94,443.46 L1061.58,443.51 L1060.20,443.53 L1058.82,443.54 L1057.44,443.54 L1057.47,445.89 L1058.86,445.85 L1060.26,445.80 L1061.67,445.73 L1063.07,445.64 L1064.43,445.53 L1065.75,445.38 L1067.01,445.21 L1068.18,445.00 L1069.29,444.77 L1070.38,444.53 L1071.46,444.28 L1072.54,444.01 L1073.61,443.72 L1074.66,443.41 L1075.71,443.08 L1076.74,442.72 L1077.75,442.34 L1078.75,441.94 L1079.74,441.50 L1080.70,441.04 L1081.65,440.54 L1082.57,440.00 L1083.47,439.43 L1084.34,438.83 L1085.20,438.18 L1086.05,437.48 L1086.89,436.74 L1087.71,435.96 L1088.52,435.14 L1089.31,434.30 L1090.07,433.43 L1090.81,432.54 L1091.52,431.63 L1092.20,430.72 L1092.85,429.79 L1093.46,428.87 L1094.03,427.94 L1094.55,427.02 L1095.03,426.11 L1095.47,425.22 L1095.84,424.29 L1096.16,423.31 L1096.42,422.29 L1096.63,421.25 L1096.80,420.20 L1096.92,419.14 L1097.02,418.09 L1097.09,417.05 L1097.13,416.05 L1097.16,415.08 L1097.18,414.16 L1097.19,413.31 L1097.21,412.52 L1097.22,411.83 L1097.25,411.23 L1097.30,410.73Z" fill="#1a1a1a"/><path d="M1048.9,444.7 L1059.9,439.5 L1058.6,444.7 L1059.9,450.0Z" fill="#1a1a1a"/>
<rect x="392.5" y="31.5" width="816" height="606.5" fill="none" stroke="#666" stroke-width="1.6" stroke-dasharray="7 4.5"/>
<line x1="808" y1="31.5" x2="808" y2="638" stroke="#888" stroke-width="1.2" stroke-dasharray="6 4.5"/>
</svg></body></html>
